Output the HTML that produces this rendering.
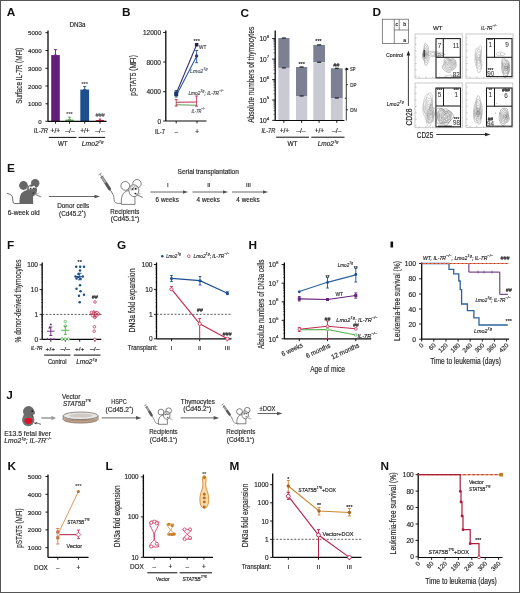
<!DOCTYPE html>
<html><head><meta charset="utf-8"><style>
html,body{margin:0;padding:0;background:#fff;}
#fig{position:relative;width:518px;height:591px;border:1px solid #555;overflow:hidden;}
svg{display:block;filter:blur(0.3px);font-family:"Liberation Sans", sans-serif;}
</style></head><body><div id="fig">
<svg width="520" height="593" viewBox="0 0 520 593" style="position:absolute;left:-1px;top:-1px">
<text x="6.8" y="16.1" font-size="11.8" font-weight="bold" fill="#111">A</text>
<text x="77.50" y="24.20" font-size="6.5" text-anchor="middle" fill="#2a2a2a" stroke="#2a2a2a" stroke-width="0.18" dominant-baseline="central" textLength="16" lengthAdjust="spacingAndGlyphs">DN3a</text>
<line x1="48.00" y1="30.50" x2="48.00" y2="121.30" stroke="#0a0a0a" stroke-width="1.3"/>
<line x1="45.40" y1="32.70" x2="48.00" y2="32.70" stroke="#0a0a0a" stroke-width="0.9"/>
<text x="41.70" y="32.70" font-size="6.1" text-anchor="end" fill="#2a2a2a" stroke="#2a2a2a" stroke-width="0.18" dominant-baseline="central" textLength="13.7" lengthAdjust="spacingAndGlyphs">5000</text>
<line x1="45.40" y1="50.50" x2="48.00" y2="50.50" stroke="#0a0a0a" stroke-width="0.9"/>
<text x="41.70" y="50.50" font-size="6.1" text-anchor="end" fill="#2a2a2a" stroke="#2a2a2a" stroke-width="0.18" dominant-baseline="central" textLength="13.7" lengthAdjust="spacingAndGlyphs">4000</text>
<line x1="45.40" y1="68.30" x2="48.00" y2="68.30" stroke="#0a0a0a" stroke-width="0.9"/>
<text x="41.70" y="68.30" font-size="6.1" text-anchor="end" fill="#2a2a2a" stroke="#2a2a2a" stroke-width="0.18" dominant-baseline="central" textLength="13.7" lengthAdjust="spacingAndGlyphs">3000</text>
<line x1="45.40" y1="86.00" x2="48.00" y2="86.00" stroke="#0a0a0a" stroke-width="0.9"/>
<text x="41.70" y="86.00" font-size="6.1" text-anchor="end" fill="#2a2a2a" stroke="#2a2a2a" stroke-width="0.18" dominant-baseline="central" textLength="13.7" lengthAdjust="spacingAndGlyphs">2000</text>
<line x1="45.40" y1="103.80" x2="48.00" y2="103.80" stroke="#0a0a0a" stroke-width="0.9"/>
<text x="41.70" y="103.80" font-size="6.1" text-anchor="end" fill="#2a2a2a" stroke="#2a2a2a" stroke-width="0.18" dominant-baseline="central" textLength="13.7" lengthAdjust="spacingAndGlyphs">1000</text>
<line x1="45.40" y1="121.30" x2="48.00" y2="121.30" stroke="#0a0a0a" stroke-width="0.9"/>
<text x="41.70" y="121.30" font-size="6.1" text-anchor="end" fill="#2a2a2a" stroke="#2a2a2a" stroke-width="0.18" dominant-baseline="central">0</text>
<text x="19.80" y="75.80" font-size="8.2" text-anchor="middle" fill="#2a2a2a" stroke="#2a2a2a" stroke-width="0.18" dominant-baseline="central" textLength="56" lengthAdjust="spacingAndGlyphs" transform="rotate(-90 19.80 75.80)">Surface IL-7R (MFI)</text>
<rect x="51.20" y="55.10" width="8.60" height="66.20" fill="#62207a"/>
<line x1="55.50" y1="49.60" x2="55.50" y2="55.10" stroke="#62207a" stroke-width="0.9"/>
<line x1="53.90" y1="49.60" x2="57.10" y2="49.60" stroke="#62207a" stroke-width="0.9"/>
<line x1="53.90" y1="55.10" x2="57.10" y2="55.10" stroke="#62207a" stroke-width="0.9"/>
<rect x="65.30" y="119.60" width="8.40" height="1.70" fill="#55b050"/>
<line x1="69.50" y1="117.20" x2="69.50" y2="119.60" stroke="#55b050" stroke-width="0.9"/>
<line x1="67.90" y1="117.20" x2="71.10" y2="117.20" stroke="#55b050" stroke-width="0.9"/>
<line x1="67.90" y1="119.60" x2="71.10" y2="119.60" stroke="#55b050" stroke-width="0.9"/>
<text x="69.50" y="114.30" font-size="5.5" text-anchor="middle" fill="#555" stroke="#555" stroke-width="0.18" dominant-baseline="central">***</text>
<rect x="80.30" y="89.60" width="8.80" height="31.70" fill="#1d4f8f"/>
<line x1="84.70" y1="86.60" x2="84.70" y2="89.60" stroke="#1d4f8f" stroke-width="0.9"/>
<line x1="83.10" y1="86.60" x2="86.30" y2="86.60" stroke="#1d4f8f" stroke-width="0.9"/>
<line x1="83.10" y1="89.60" x2="86.30" y2="89.60" stroke="#1d4f8f" stroke-width="0.9"/>
<text x="84.70" y="83.60" font-size="5.5" text-anchor="middle" fill="#555" stroke="#555" stroke-width="0.18" dominant-baseline="central">***</text>
<rect x="95.80" y="120.00" width="8.40" height="1.30" fill="#c42c50"/>
<line x1="100.00" y1="119.00" x2="100.00" y2="120.00" stroke="#c42c50" stroke-width="0.9"/>
<line x1="98.80" y1="119.00" x2="101.20" y2="119.00" stroke="#c42c50" stroke-width="0.9"/>
<line x1="98.80" y1="120.00" x2="101.20" y2="120.00" stroke="#c42c50" stroke-width="0.9"/>
<text x="100.00" y="115.20" font-size="5.5" text-anchor="middle" fill="#555" stroke="#555" stroke-width="0.18" dominant-baseline="central" font-style="italic">###</text>
<line x1="48.00" y1="121.30" x2="106.60" y2="121.30" stroke="#0a0a0a" stroke-width="1.2"/>
<line x1="55.50" y1="121.30" x2="55.50" y2="123.70" stroke="#0a0a0a" stroke-width="0.9"/>
<line x1="69.50" y1="121.30" x2="69.50" y2="123.70" stroke="#0a0a0a" stroke-width="0.9"/>
<line x1="84.70" y1="121.30" x2="84.70" y2="123.70" stroke="#0a0a0a" stroke-width="0.9"/>
<line x1="100.00" y1="121.30" x2="100.00" y2="123.70" stroke="#0a0a0a" stroke-width="0.9"/>
<text x="48.00" y="130.50" font-size="6.3" text-anchor="end" fill="#2a2a2a" stroke="#2a2a2a" stroke-width="0.18" dominant-baseline="central" font-style="italic" textLength="14.2" lengthAdjust="spacingAndGlyphs">IL-7R</text>
<text x="55.30" y="130.50" font-size="6.3" text-anchor="middle" fill="#2a2a2a" stroke="#2a2a2a" stroke-width="0.18" dominant-baseline="central" textLength="9.5" lengthAdjust="spacingAndGlyphs">+/+</text>
<text x="70.00" y="130.50" font-size="6.3" text-anchor="middle" fill="#2a2a2a" stroke="#2a2a2a" stroke-width="0.18" dominant-baseline="central" textLength="9.5" lengthAdjust="spacingAndGlyphs">–/–</text>
<text x="84.90" y="130.50" font-size="6.3" text-anchor="middle" fill="#2a2a2a" stroke="#2a2a2a" stroke-width="0.18" dominant-baseline="central" textLength="9.5" lengthAdjust="spacingAndGlyphs">+/+</text>
<text x="100.00" y="130.50" font-size="6.3" text-anchor="middle" fill="#2a2a2a" stroke="#2a2a2a" stroke-width="0.18" dominant-baseline="central" textLength="9.5" lengthAdjust="spacingAndGlyphs">–/–</text>
<line x1="48.80" y1="137.40" x2="76.50" y2="137.40" stroke="#0a0a0a" stroke-width="1.0"/>
<line x1="78.50" y1="137.40" x2="105.20" y2="137.40" stroke="#0a0a0a" stroke-width="1.0"/>
<text x="62.80" y="143.50" font-size="6.8" text-anchor="middle" fill="#2a2a2a" stroke="#2a2a2a" stroke-width="0.18" dominant-baseline="central" textLength="9.7" lengthAdjust="spacingAndGlyphs">WT</text>
<text x="92.60" y="143.50" font-size="6.8" text-anchor="middle" fill="#2a2a2a" stroke="#2a2a2a" stroke-width="0.18" dominant-baseline="central" font-style="italic" textLength="21.6" lengthAdjust="spacingAndGlyphs">Lmo2<tspan baseline-shift="2.3" font-size="4">Tg</tspan></text>
<text x="122" y="16.3" font-size="11.8" font-weight="bold" fill="#111">B</text>
<line x1="165.80" y1="30.50" x2="165.80" y2="121.00" stroke="#0a0a0a" stroke-width="1.3"/>
<line x1="163.20" y1="32.50" x2="165.80" y2="32.50" stroke="#0a0a0a" stroke-width="0.9"/>
<text x="161.00" y="32.50" font-size="6.5" text-anchor="end" fill="#2a2a2a" stroke="#2a2a2a" stroke-width="0.18" dominant-baseline="central" textLength="18" lengthAdjust="spacingAndGlyphs">12000</text>
<line x1="163.20" y1="62.00" x2="165.80" y2="62.00" stroke="#0a0a0a" stroke-width="0.9"/>
<text x="161.00" y="62.00" font-size="6.5" text-anchor="end" fill="#2a2a2a" stroke="#2a2a2a" stroke-width="0.18" dominant-baseline="central" textLength="14.5" lengthAdjust="spacingAndGlyphs">8000</text>
<line x1="163.20" y1="91.70" x2="165.80" y2="91.70" stroke="#0a0a0a" stroke-width="0.9"/>
<text x="161.00" y="91.70" font-size="6.5" text-anchor="end" fill="#2a2a2a" stroke="#2a2a2a" stroke-width="0.18" dominant-baseline="central" textLength="14.5" lengthAdjust="spacingAndGlyphs">4000</text>
<line x1="163.20" y1="121.00" x2="165.80" y2="121.00" stroke="#0a0a0a" stroke-width="0.9"/>
<text x="161.00" y="121.00" font-size="6.5" text-anchor="end" fill="#2a2a2a" stroke="#2a2a2a" stroke-width="0.18" dominant-baseline="central">0</text>
<text x="133.70" y="75.40" font-size="8.2" text-anchor="middle" fill="#2a2a2a" stroke="#2a2a2a" stroke-width="0.18" dominant-baseline="central" textLength="40.5" lengthAdjust="spacingAndGlyphs" transform="rotate(-90 133.70 75.40)">pSTAT5 (MFI)</text>
<line x1="165.80" y1="121.00" x2="206.50" y2="121.00" stroke="#0a0a0a" stroke-width="1.2"/>
<line x1="176.20" y1="121.00" x2="176.20" y2="123.40" stroke="#0a0a0a" stroke-width="0.9"/>
<line x1="197.00" y1="121.00" x2="197.00" y2="123.40" stroke="#0a0a0a" stroke-width="0.9"/>
<text x="165.00" y="131.00" font-size="6.3" text-anchor="end" fill="#2a2a2a" stroke="#2a2a2a" stroke-width="0.18" dominant-baseline="central" textLength="10" lengthAdjust="spacingAndGlyphs">IL-7</text>
<text x="176.20" y="131.00" font-size="6.3" text-anchor="middle" fill="#2a2a2a" stroke="#2a2a2a" stroke-width="0.18" dominant-baseline="central">–</text>
<text x="197.00" y="131.00" font-size="6.3" text-anchor="middle" fill="#2a2a2a" stroke="#2a2a2a" stroke-width="0.18" dominant-baseline="central">+</text>
<line x1="176.20" y1="102.30" x2="196.60" y2="102.00" stroke="#b83248" stroke-width="1.1"/>
<line x1="176.20" y1="104.80" x2="196.60" y2="105.20" stroke="#5aa055" stroke-width="1.1"/>
<line x1="196.60" y1="96.00" x2="196.60" y2="106.20" stroke="#c0345a" stroke-width="0.9"/>
<line x1="195.10" y1="96.00" x2="198.10" y2="96.00" stroke="#c0345a" stroke-width="0.9"/>
<line x1="195.10" y1="106.20" x2="198.10" y2="106.20" stroke="#c0345a" stroke-width="0.9"/>
<line x1="176.20" y1="99.50" x2="176.20" y2="106.00" stroke="#b83248" stroke-width="0.9"/>
<line x1="174.70" y1="99.50" x2="177.70" y2="99.50" stroke="#b83248" stroke-width="0.9"/>
<line x1="174.70" y1="106.00" x2="177.70" y2="106.00" stroke="#b83248" stroke-width="0.9"/>
<line x1="176.20" y1="93.50" x2="196.60" y2="44.70" stroke="#33286a" stroke-width="1.05"/>
<line x1="176.80" y1="94.60" x2="196.80" y2="55.90" stroke="#24559a" stroke-width="1.05"/>
<line x1="196.60" y1="50.50" x2="196.60" y2="62.70" stroke="#24559a" stroke-width="0.9"/>
<line x1="195.10" y1="50.50" x2="198.10" y2="50.50" stroke="#24559a" stroke-width="0.9"/>
<line x1="195.10" y1="62.70" x2="198.10" y2="62.70" stroke="#24559a" stroke-width="0.9"/>
<line x1="176.20" y1="90.60" x2="176.20" y2="97.00" stroke="#1f3f78" stroke-width="0.9"/>
<line x1="174.70" y1="90.60" x2="177.70" y2="90.60" stroke="#1f3f78" stroke-width="0.9"/>
<line x1="174.70" y1="97.00" x2="177.70" y2="97.00" stroke="#1f3f78" stroke-width="0.9"/>
<rect x="174.20" y="91.50" width="4.00" height="4.60" fill="#1c3466"/>
<rect x="194.90" y="43.00" width="3.50" height="3.50" fill="#2a2050"/>
<circle cx="196.60" cy="55.90" r="1.7" fill="#1f3f78" stroke="none" stroke-width="0.8"/>
<text x="196.70" y="40.70" font-size="5.5" text-anchor="middle" fill="#444" stroke="#444" stroke-width="0.18" dominant-baseline="central">***</text>
<text x="199.00" y="46.90" font-size="5.8" text-anchor="start" fill="#444" stroke="#444" stroke-width="0.18" dominant-baseline="central" textLength="7.4" lengthAdjust="spacingAndGlyphs">WT</text>
<text x="190.10" y="70.80" font-size="5.6" text-anchor="start" fill="#4a5568" stroke="#4a5568" stroke-width="0.18" dominant-baseline="central" font-style="italic" textLength="17.6" lengthAdjust="spacingAndGlyphs">Lmo2<tspan baseline-shift="2.3" font-size="4">Tg</tspan></text>
<text x="188.40" y="93.30" font-size="5.6" text-anchor="start" fill="#444" stroke="#444" stroke-width="0.18" dominant-baseline="central" font-style="italic" textLength="35.5" lengthAdjust="spacingAndGlyphs">Lmo2<tspan baseline-shift="2.3" font-size="4">Tg</tspan>; IL-7R<tspan baseline-shift="2.3" font-size="4">−/−</tspan></text>
<text x="191.50" y="111.20" font-size="5.6" text-anchor="start" fill="#4a5060" stroke="#4a5060" stroke-width="0.18" dominant-baseline="central" font-style="italic" textLength="14" lengthAdjust="spacingAndGlyphs">IL-7R<tspan baseline-shift="2.3" font-size="4">−/−</tspan></text>
<text x="240.5" y="16.5" font-size="11.8" font-weight="bold" fill="#111">C</text>
<line x1="275.20" y1="30.40" x2="275.20" y2="120.80" stroke="#0a0a0a" stroke-width="1.3"/>
<line x1="272.20" y1="38.60" x2="275.20" y2="38.60" stroke="#0a0a0a" stroke-width="0.9"/>
<text x="269.20" y="38.90" font-size="6.6" text-anchor="end" fill="#2a2a2a" stroke="#2a2a2a" stroke-width="0.18" dominant-baseline="central">10<tspan baseline-shift="2.5" font-size="4.4">8</tspan></text>
<line x1="273.40" y1="52.93" x2="275.20" y2="52.93" stroke="#0a0a0a" stroke-width="0.5"/>
<line x1="273.40" y1="49.32" x2="275.20" y2="49.32" stroke="#0a0a0a" stroke-width="0.5"/>
<line x1="273.40" y1="46.76" x2="275.20" y2="46.76" stroke="#0a0a0a" stroke-width="0.5"/>
<line x1="273.40" y1="44.77" x2="275.20" y2="44.77" stroke="#0a0a0a" stroke-width="0.5"/>
<line x1="273.40" y1="43.15" x2="275.20" y2="43.15" stroke="#0a0a0a" stroke-width="0.5"/>
<line x1="273.40" y1="41.78" x2="275.20" y2="41.78" stroke="#0a0a0a" stroke-width="0.5"/>
<line x1="273.40" y1="40.59" x2="275.20" y2="40.59" stroke="#0a0a0a" stroke-width="0.5"/>
<line x1="273.40" y1="39.54" x2="275.20" y2="39.54" stroke="#0a0a0a" stroke-width="0.5"/>
<line x1="272.20" y1="59.10" x2="275.20" y2="59.10" stroke="#0a0a0a" stroke-width="0.9"/>
<text x="269.20" y="59.40" font-size="6.6" text-anchor="end" fill="#2a2a2a" stroke="#2a2a2a" stroke-width="0.18" dominant-baseline="central">10<tspan baseline-shift="2.5" font-size="4.4">7</tspan></text>
<line x1="273.40" y1="73.43" x2="275.20" y2="73.43" stroke="#0a0a0a" stroke-width="0.5"/>
<line x1="273.40" y1="69.82" x2="275.20" y2="69.82" stroke="#0a0a0a" stroke-width="0.5"/>
<line x1="273.40" y1="67.26" x2="275.20" y2="67.26" stroke="#0a0a0a" stroke-width="0.5"/>
<line x1="273.40" y1="65.27" x2="275.20" y2="65.27" stroke="#0a0a0a" stroke-width="0.5"/>
<line x1="273.40" y1="63.65" x2="275.20" y2="63.65" stroke="#0a0a0a" stroke-width="0.5"/>
<line x1="273.40" y1="62.28" x2="275.20" y2="62.28" stroke="#0a0a0a" stroke-width="0.5"/>
<line x1="273.40" y1="61.09" x2="275.20" y2="61.09" stroke="#0a0a0a" stroke-width="0.5"/>
<line x1="273.40" y1="60.04" x2="275.20" y2="60.04" stroke="#0a0a0a" stroke-width="0.5"/>
<line x1="272.20" y1="79.60" x2="275.20" y2="79.60" stroke="#0a0a0a" stroke-width="0.9"/>
<text x="269.20" y="79.90" font-size="6.6" text-anchor="end" fill="#2a2a2a" stroke="#2a2a2a" stroke-width="0.18" dominant-baseline="central">10<tspan baseline-shift="2.5" font-size="4.4">6</tspan></text>
<line x1="273.40" y1="93.93" x2="275.20" y2="93.93" stroke="#0a0a0a" stroke-width="0.5"/>
<line x1="273.40" y1="90.32" x2="275.20" y2="90.32" stroke="#0a0a0a" stroke-width="0.5"/>
<line x1="273.40" y1="87.76" x2="275.20" y2="87.76" stroke="#0a0a0a" stroke-width="0.5"/>
<line x1="273.40" y1="85.77" x2="275.20" y2="85.77" stroke="#0a0a0a" stroke-width="0.5"/>
<line x1="273.40" y1="84.15" x2="275.20" y2="84.15" stroke="#0a0a0a" stroke-width="0.5"/>
<line x1="273.40" y1="82.78" x2="275.20" y2="82.78" stroke="#0a0a0a" stroke-width="0.5"/>
<line x1="273.40" y1="81.59" x2="275.20" y2="81.59" stroke="#0a0a0a" stroke-width="0.5"/>
<line x1="273.40" y1="80.54" x2="275.20" y2="80.54" stroke="#0a0a0a" stroke-width="0.5"/>
<line x1="272.20" y1="100.00" x2="275.20" y2="100.00" stroke="#0a0a0a" stroke-width="0.9"/>
<text x="269.20" y="100.30" font-size="6.6" text-anchor="end" fill="#2a2a2a" stroke="#2a2a2a" stroke-width="0.18" dominant-baseline="central">10<tspan baseline-shift="2.5" font-size="4.4">5</tspan></text>
<line x1="273.40" y1="114.33" x2="275.20" y2="114.33" stroke="#0a0a0a" stroke-width="0.5"/>
<line x1="273.40" y1="110.72" x2="275.20" y2="110.72" stroke="#0a0a0a" stroke-width="0.5"/>
<line x1="273.40" y1="108.16" x2="275.20" y2="108.16" stroke="#0a0a0a" stroke-width="0.5"/>
<line x1="273.40" y1="106.17" x2="275.20" y2="106.17" stroke="#0a0a0a" stroke-width="0.5"/>
<line x1="273.40" y1="104.55" x2="275.20" y2="104.55" stroke="#0a0a0a" stroke-width="0.5"/>
<line x1="273.40" y1="103.18" x2="275.20" y2="103.18" stroke="#0a0a0a" stroke-width="0.5"/>
<line x1="273.40" y1="101.99" x2="275.20" y2="101.99" stroke="#0a0a0a" stroke-width="0.5"/>
<line x1="273.40" y1="100.94" x2="275.20" y2="100.94" stroke="#0a0a0a" stroke-width="0.5"/>
<line x1="272.20" y1="120.40" x2="275.20" y2="120.40" stroke="#0a0a0a" stroke-width="0.9"/>
<text x="269.20" y="120.70" font-size="6.6" text-anchor="end" fill="#2a2a2a" stroke="#2a2a2a" stroke-width="0.18" dominant-baseline="central">10<tspan baseline-shift="2.5" font-size="4.4">4</tspan></text>
<text x="252.00" y="74.80" font-size="8.2" text-anchor="middle" fill="#2a2a2a" stroke="#2a2a2a" stroke-width="0.18" dominant-baseline="central" textLength="96" lengthAdjust="spacingAndGlyphs" transform="rotate(-90 252.00 74.80)">Absolute numbers of thymocytes</text>
<rect x="278.30" y="38.00" width="11.20" height="29.90" fill="#7c8092"/>
<rect x="278.30" y="67.90" width="11.20" height="52.50" fill="#c9cad4"/>
<line x1="281.90" y1="38.00" x2="285.90" y2="38.00" stroke="#111" stroke-width="1.1"/>
<line x1="281.90" y1="67.90" x2="285.90" y2="67.90" stroke="#111" stroke-width="1.1"/>
<rect x="296.00" y="67.00" width="11.20" height="29.00" fill="#7c8092"/>
<rect x="296.00" y="96.00" width="11.20" height="24.40" fill="#c9cad4"/>
<line x1="299.60" y1="67.00" x2="303.60" y2="67.00" stroke="#111" stroke-width="1.1"/>
<line x1="299.60" y1="96.00" x2="303.60" y2="96.00" stroke="#111" stroke-width="1.1"/>
<rect x="313.30" y="44.90" width="11.70" height="17.30" fill="#7c8092"/>
<rect x="313.30" y="62.20" width="11.70" height="58.20" fill="#c9cad4"/>
<line x1="317.15" y1="44.90" x2="321.15" y2="44.90" stroke="#111" stroke-width="1.1"/>
<line x1="317.15" y1="62.20" x2="321.15" y2="62.20" stroke="#111" stroke-width="1.1"/>
<rect x="330.90" y="68.30" width="11.80" height="29.70" fill="#7c8092"/>
<rect x="330.90" y="98.00" width="11.80" height="22.40" fill="#c9cad4"/>
<line x1="334.80" y1="68.30" x2="338.80" y2="68.30" stroke="#111" stroke-width="1.1"/>
<line x1="334.80" y1="98.00" x2="338.80" y2="98.00" stroke="#111" stroke-width="1.1"/>
<text x="301.70" y="63.60" font-size="5.5" text-anchor="middle" fill="#2a2a2a" stroke="#2a2a2a" stroke-width="0.18" dominant-baseline="central">***</text>
<text x="318.50" y="41.30" font-size="5.5" text-anchor="middle" fill="#2a2a2a" stroke="#2a2a2a" stroke-width="0.18" dominant-baseline="central">***</text>
<text x="336.30" y="64.80" font-size="5.5" text-anchor="middle" fill="#2a2a2a" stroke="#2a2a2a" stroke-width="0.18" dominant-baseline="central" font-style="italic">##</text>
<line x1="275.20" y1="120.50" x2="344.40" y2="120.50" stroke="#0a0a0a" stroke-width="1.2"/>
<line x1="283.90" y1="120.50" x2="283.90" y2="122.90" stroke="#0a0a0a" stroke-width="0.9"/>
<line x1="301.60" y1="120.50" x2="301.60" y2="122.90" stroke="#0a0a0a" stroke-width="0.9"/>
<line x1="319.10" y1="120.50" x2="319.10" y2="122.90" stroke="#0a0a0a" stroke-width="0.9"/>
<line x1="336.80" y1="120.50" x2="336.80" y2="122.90" stroke="#0a0a0a" stroke-width="0.9"/>
<path d="M348.6 69.1 L345.8 67.6 L345.8 70.6 Z" stroke="none" fill="#0a0a0a" stroke-width="1"/>
<line x1="346.30" y1="69.10" x2="346.30" y2="120.50" stroke="#0a0a0a" stroke-width="0.8"/>
<line x1="344.80" y1="69.10" x2="348.30" y2="69.10" stroke="#0a0a0a" stroke-width="0.8"/>
<line x1="346.30" y1="84.70" x2="348.00" y2="84.70" stroke="#0a0a0a" stroke-width="0.8"/>
<line x1="344.80" y1="98.30" x2="346.30" y2="98.30" stroke="#0a0a0a" stroke-width="0.8"/>
<line x1="346.30" y1="109.80" x2="348.00" y2="109.80" stroke="#0a0a0a" stroke-width="0.8"/>
<text x="350.00" y="69.10" font-size="6" text-anchor="start" fill="#2a2a2a" stroke="#2a2a2a" stroke-width="0.18" dominant-baseline="central" textLength="5.5" lengthAdjust="spacingAndGlyphs">SP</text>
<text x="350.30" y="84.70" font-size="6" text-anchor="start" fill="#2a2a2a" stroke="#2a2a2a" stroke-width="0.18" dominant-baseline="central" textLength="6.2" lengthAdjust="spacingAndGlyphs">DP</text>
<text x="350.30" y="109.80" font-size="6" text-anchor="start" fill="#2a2a2a" stroke="#2a2a2a" stroke-width="0.18" dominant-baseline="central" textLength="6.5" lengthAdjust="spacingAndGlyphs">DN</text>
<text x="275.30" y="130.70" font-size="6.3" text-anchor="end" fill="#2a2a2a" stroke="#2a2a2a" stroke-width="0.18" dominant-baseline="central" font-style="italic" textLength="13.8" lengthAdjust="spacingAndGlyphs">IL-7R</text>
<text x="284.40" y="130.70" font-size="6.3" text-anchor="middle" fill="#2a2a2a" stroke="#2a2a2a" stroke-width="0.18" dominant-baseline="central" textLength="9.5" lengthAdjust="spacingAndGlyphs">+/+</text>
<text x="300.90" y="130.70" font-size="6.3" text-anchor="middle" fill="#2a2a2a" stroke="#2a2a2a" stroke-width="0.18" dominant-baseline="central" textLength="9.5" lengthAdjust="spacingAndGlyphs">–/–</text>
<text x="319.40" y="130.70" font-size="6.3" text-anchor="middle" fill="#2a2a2a" stroke="#2a2a2a" stroke-width="0.18" dominant-baseline="central" textLength="9.5" lengthAdjust="spacingAndGlyphs">+/+</text>
<text x="336.70" y="130.70" font-size="6.3" text-anchor="middle" fill="#2a2a2a" stroke="#2a2a2a" stroke-width="0.18" dominant-baseline="central" textLength="9.5" lengthAdjust="spacingAndGlyphs">–/–</text>
<line x1="276.20" y1="137.20" x2="309.00" y2="137.20" stroke="#0a0a0a" stroke-width="1.0"/>
<line x1="311.30" y1="137.20" x2="344.50" y2="137.20" stroke="#0a0a0a" stroke-width="1.0"/>
<text x="292.40" y="143.60" font-size="6.8" text-anchor="middle" fill="#2a2a2a" stroke="#2a2a2a" stroke-width="0.18" dominant-baseline="central" textLength="10" lengthAdjust="spacingAndGlyphs">WT</text>
<text x="328.10" y="143.60" font-size="6.8" text-anchor="middle" fill="#2a2a2a" stroke="#2a2a2a" stroke-width="0.18" dominant-baseline="central" font-style="italic" textLength="20.8" lengthAdjust="spacingAndGlyphs">Lmo2<tspan baseline-shift="2.3" font-size="4">Tg</tspan></text>
<text x="372.5" y="16.2" font-size="11.8" font-weight="bold" fill="#111">D</text>
<g fill="none" stroke="#555" stroke-width="0.7">
<rect x="382.3" y="19.2" width="26.2" height="24.2"/>
<line x1="394.3" y1="19.2" x2="394.3" y2="43.4"/>
<line x1="394.3" y1="30" x2="408.5" y2="30"/>
<line x1="399.2" y1="19.2" x2="399.2" y2="30"/>
</g>
<text x="396.70" y="24.00" font-size="5.2" text-anchor="middle" fill="#2a2a2a" stroke="#2a2a2a" stroke-width="0.18" dominant-baseline="central">c</text>
<text x="404.80" y="24.00" font-size="5.2" text-anchor="middle" fill="#2a2a2a" stroke="#2a2a2a" stroke-width="0.18" dominant-baseline="central">b</text>
<text x="404.80" y="39.80" font-size="5.2" text-anchor="middle" fill="#2a2a2a" stroke="#2a2a2a" stroke-width="0.18" dominant-baseline="central">a</text>
<text x="437.70" y="27.70" font-size="6.2" text-anchor="middle" fill="#2a2a2a" stroke="#2a2a2a" stroke-width="0.18" dominant-baseline="central">WT</text>
<text x="489.00" y="27.50" font-size="6.0" text-anchor="middle" fill="#2a2a2a" stroke="#2a2a2a" stroke-width="0.18" dominant-baseline="central" font-style="italic" textLength="15.8" lengthAdjust="spacingAndGlyphs">IL-7R<tspan baseline-shift="2.3" font-size="4">−/−</tspan></text>
<text x="394.50" y="54.60" font-size="6.0" text-anchor="middle" fill="#2a2a2a" stroke="#2a2a2a" stroke-width="0.18" dominant-baseline="central" textLength="17" lengthAdjust="spacingAndGlyphs">Control</text>
<text x="395.20" y="103.50" font-size="5.8" text-anchor="middle" fill="#2a2a2a" stroke="#2a2a2a" stroke-width="0.18" dominant-baseline="central" font-style="italic" textLength="16.8" lengthAdjust="spacingAndGlyphs">Lmo2<tspan baseline-shift="2.3" font-size="4">Tg</tspan></text>
<line x1="408.40" y1="53.00" x2="408.40" y2="106.00" stroke="#222" stroke-width="0.9"/>
<path d="M406.6 55.5 L408.4 50.5 L410.2 55.5 Z" stroke="none" fill="#222" stroke-width="1"/>
<text x="408.30" y="117.00" font-size="9.5" text-anchor="middle" fill="#222" stroke="#222" stroke-width="0.18" dominant-baseline="central" textLength="17" lengthAdjust="spacingAndGlyphs" transform="rotate(-90 408.30 117.00)">CD28</text>
<text x="425.00" y="134.50" font-size="9.5" text-anchor="middle" fill="#222" stroke="#222" stroke-width="0.18" dominant-baseline="central" textLength="16.5" lengthAdjust="spacingAndGlyphs">CD25</text>
<line x1="436.30" y1="134.50" x2="487.00" y2="134.50" stroke="#222" stroke-width="0.9"/>
<path d="M485 132.7 L490.5 134.5 L485 136.3 Z" stroke="none" fill="#222" stroke-width="1"/>
<rect x="415" y="34" width="47.30" height="44.20" fill="none" stroke="#c4c4c4" stroke-width="0.9"/>
<line x1="415.30" y1="38.00" x2="416.60" y2="38.00" stroke="#888" stroke-width="0.5"/>
<line x1="415.30" y1="44.37" x2="416.60" y2="44.37" stroke="#888" stroke-width="0.5"/>
<line x1="415.30" y1="50.73" x2="416.60" y2="50.73" stroke="#888" stroke-width="0.5"/>
<line x1="415.30" y1="57.10" x2="416.60" y2="57.10" stroke="#888" stroke-width="0.5"/>
<line x1="415.30" y1="63.47" x2="416.60" y2="63.47" stroke="#888" stroke-width="0.5"/>
<line x1="415.30" y1="69.83" x2="416.60" y2="69.83" stroke="#888" stroke-width="0.5"/>
<line x1="415.30" y1="76.20" x2="416.60" y2="76.20" stroke="#888" stroke-width="0.5"/>
<line x1="419.00" y1="76.60" x2="419.00" y2="77.90" stroke="#888" stroke-width="0.5"/>
<line x1="425.88" y1="76.60" x2="425.88" y2="77.90" stroke="#888" stroke-width="0.5"/>
<line x1="432.77" y1="76.60" x2="432.77" y2="77.90" stroke="#888" stroke-width="0.5"/>
<line x1="439.65" y1="76.60" x2="439.65" y2="77.90" stroke="#888" stroke-width="0.5"/>
<line x1="446.53" y1="76.60" x2="446.53" y2="77.90" stroke="#888" stroke-width="0.5"/>
<line x1="453.42" y1="76.60" x2="453.42" y2="77.90" stroke="#888" stroke-width="0.5"/>
<line x1="460.30" y1="76.60" x2="460.30" y2="77.90" stroke="#888" stroke-width="0.5"/>
<path d="M428.84 54.50 L428.95 55.71 L429.04 57.04 L429.04 58.44 L428.92 59.77 L428.67 60.91 L428.34 61.81 L427.97 62.53 L427.61 63.19 L427.24 63.89 L426.87 64.64 L426.46 65.30 L426.00 65.66 L425.54 65.53 L425.11 64.86 L424.77 63.77 L424.52 62.51 L424.31 61.36 L424.09 60.48 L423.78 59.83 L423.38 59.23 L422.95 58.45 L422.59 57.36 L422.40 55.98 L422.44 54.50 L422.69 53.14 L423.05 52.03 L423.42 51.17 L423.71 50.37 L423.88 49.43 L423.99 48.21 L424.10 46.76 L424.30 45.29 L424.62 44.09 L425.05 43.38 L425.52 43.24 L426.00 43.54 L426.44 44.08 L426.84 44.67 L427.23 45.22 L427.61 45.76 L427.98 46.42 L428.30 47.30 L428.54 48.42 L428.67 49.69 L428.71 50.98 L428.73 52.21 L428.76 53.36 Z" fill="none" stroke="#8a8a8a" stroke-width="0.5"/>
<path d="M428.02 54.50 L428.01 55.46 L427.98 56.43 L427.93 57.41 L427.85 58.41 L427.72 59.38 L427.53 60.29 L427.30 61.10 L427.03 61.78 L426.72 62.31 L426.38 62.69 L426.04 62.90 L425.68 62.90 L425.34 62.68 L425.02 62.26 L424.73 61.66 L424.49 60.96 L424.27 60.25 L424.06 59.57 L423.84 58.92 L423.59 58.27 L423.35 57.52 L423.14 56.63 L423.01 55.60 L422.98 54.50 L423.08 53.43 L423.27 52.48 L423.51 51.69 L423.75 51.01 L423.94 50.34 L424.11 49.58 L424.25 48.68 L424.42 47.68 L424.65 46.72 L424.95 45.95 L425.30 45.52 L425.68 45.48 L426.05 45.79 L426.38 46.36 L426.67 47.05 L426.92 47.77 L427.16 48.48 L427.38 49.19 L427.58 49.94 L427.76 50.75 L427.89 51.64 L427.97 52.58 L428.01 53.54 Z" fill="none" stroke="#8a8a8a" stroke-width="0.5"/>
<path d="M427.17 54.50 L427.19 55.25 L427.15 55.99 L427.04 56.67 L426.91 57.28 L426.76 57.85 L426.62 58.44 L426.49 59.08 L426.33 59.75 L426.14 60.38 L425.91 60.84 L425.64 61.03 L425.36 60.90 L425.11 60.49 L424.90 59.94 L424.72 59.36 L424.55 58.88 L424.38 58.52 L424.17 58.23 L423.95 57.90 L423.73 57.45 L423.55 56.84 L423.45 56.10 L423.44 55.29 L423.49 54.50 L423.59 53.77 L423.71 53.11 L423.81 52.49 L423.91 51.88 L424.01 51.25 L424.12 50.62 L424.26 50.01 L424.43 49.46 L424.63 48.99 L424.86 48.62 L425.10 48.34 L425.36 48.17 L425.63 48.16 L425.89 48.33 L426.13 48.70 L426.33 49.25 L426.48 49.93 L426.59 50.65 L426.68 51.34 L426.77 51.97 L426.87 52.55 L426.98 53.14 L427.09 53.79 Z" fill="none" stroke="#8a8a8a" stroke-width="0.5"/>
<path d="M426.16 54.50 L426.17 54.96 L426.15 55.43 L426.10 55.87 L426.03 56.29 L425.95 56.67 L425.86 57.04 L425.76 57.42 L425.65 57.80 L425.53 58.14 L425.38 58.41 L425.21 58.54 L425.04 58.50 L424.88 58.31 L424.74 58.00 L424.63 57.65 L424.52 57.32 L424.42 57.05 L424.30 56.82 L424.17 56.59 L424.04 56.32 L423.92 55.95 L423.84 55.51 L423.81 55.01 L423.84 54.50 L423.90 54.03 L423.98 53.61 L424.07 53.24 L424.14 52.88 L424.21 52.51 L424.28 52.11 L424.36 51.70 L424.45 51.31 L424.58 50.97 L424.72 50.70 L424.88 50.54 L425.04 50.48 L425.21 50.53 L425.37 50.68 L425.52 50.93 L425.64 51.25 L425.75 51.63 L425.83 52.04 L425.90 52.46 L425.95 52.86 L426.01 53.25 L426.07 53.64 L426.12 54.06 Z" fill="none" stroke="#333" stroke-width="0.5"/>
<path d="M425.15 54.50 L425.16 54.68 L425.17 54.87 L425.17 55.08 L425.16 55.28 L425.13 55.47 L425.08 55.62 L425.03 55.74 L424.97 55.83 L424.91 55.91 L424.85 56.00 L424.79 56.08 L424.73 56.13 L424.66 56.13 L424.59 56.05 L424.54 55.91 L424.50 55.74 L424.46 55.56 L424.43 55.41 L424.39 55.30 L424.34 55.19 L424.28 55.08 L424.23 54.92 L424.19 54.72 L424.19 54.50 L424.22 54.29 L424.27 54.12 L424.33 53.99 L424.38 53.87 L424.41 53.75 L424.43 53.58 L424.45 53.37 L424.47 53.15 L424.52 52.94 L424.58 52.81 L424.65 52.77 L424.72 52.81 L424.79 52.91 L424.85 53.03 L424.91 53.13 L424.96 53.22 L425.01 53.32 L425.07 53.44 L425.11 53.58 L425.13 53.76 L425.14 53.96 L425.15 54.15 L425.14 54.33 Z" fill="none" stroke="#333" stroke-width="0.5"/>
<line x1="424.20" y1="50.00" x2="424.20" y2="57.00" stroke="#222" stroke-width="1.0"/>
<path d="M444.45 54.00 L444.75 54.36 L444.63 54.73 L444.10 55.06 L443.23 55.34 L442.15 55.55 L441.02 55.70 L439.94 55.82 L438.96 55.94 L438.05 56.08 L437.12 56.24 L436.12 56.39 L435.00 56.50 L433.82 56.54 L432.66 56.47 L431.62 56.30 L430.76 56.07 L430.08 55.81 L429.53 55.55 L429.01 55.30 L428.46 55.07 L427.88 54.83 L427.32 54.58 L426.85 54.30 L426.56 54.00 L426.51 53.68 L426.67 53.37 L427.00 53.06 L427.46 52.77 L428.00 52.48 L428.63 52.20 L429.37 51.93 L430.26 51.68 L431.32 51.49 L432.50 51.37 L433.76 51.34 L435.00 51.41 L436.14 51.56 L437.12 51.76 L437.94 52.00 L438.62 52.23 L439.22 52.45 L439.82 52.64 L440.47 52.81 L441.24 52.98 L442.09 53.17 L442.99 53.39 L443.82 53.67 Z" fill="none" stroke="#8a8a8a" stroke-width="0.5"/>
<path d="M440.37 54.00 L440.53 54.21 L440.49 54.42 L440.22 54.61 L439.76 54.78 L439.16 54.90 L438.51 54.99 L437.87 55.05 L437.28 55.11 L436.74 55.18 L436.20 55.27 L435.63 55.36 L435.00 55.43 L434.32 55.46 L433.64 55.43 L433.03 55.34 L432.53 55.21 L432.16 55.05 L431.87 54.88 L431.60 54.74 L431.30 54.60 L430.96 54.47 L430.60 54.33 L430.29 54.18 L430.09 54.00 L430.05 53.82 L430.16 53.63 L430.39 53.46 L430.69 53.30 L431.03 53.14 L431.38 52.98 L431.79 52.82 L432.27 52.67 L432.86 52.54 L433.55 52.47 L434.28 52.45 L435.00 52.50 L435.65 52.60 L436.21 52.73 L436.66 52.87 L437.05 53.00 L437.41 53.11 L437.78 53.21 L438.19 53.31 L438.65 53.41 L439.13 53.52 L439.61 53.65 L440.04 53.81 Z" fill="none" stroke="#8a8a8a" stroke-width="0.5"/>
<path d="M436.35 54.00 L436.44 54.05 L436.48 54.11 L436.44 54.17 L436.31 54.21 L436.12 54.24 L435.91 54.26 L435.71 54.26 L435.55 54.27 L435.43 54.29 L435.31 54.32 L435.17 54.36 L435.00 54.39 L434.81 54.40 L434.63 54.39 L434.48 54.36 L434.37 54.31 L434.30 54.26 L434.24 54.21 L434.16 54.18 L434.05 54.16 L433.91 54.13 L433.78 54.09 L433.69 54.05 L433.67 54.00 L433.71 53.95 L433.78 53.91 L433.87 53.87 L433.94 53.83 L434.00 53.78 L434.05 53.73 L434.13 53.68 L434.25 53.63 L434.42 53.60 L434.61 53.59 L434.81 53.60 L435.00 53.63 L435.16 53.66 L435.30 53.69 L435.42 53.71 L435.55 53.73 L435.67 53.75 L435.78 53.78 L435.88 53.81 L435.96 53.84 L436.04 53.88 L436.13 53.91 L436.24 53.95 Z" fill="none" stroke="#8a8a8a" stroke-width="0.5"/>
<path d="M441.14 55.20 L441.13 55.44 L441.10 55.68 L441.04 55.93 L440.92 56.16 L440.76 56.38 L440.53 56.58 L440.27 56.73 L439.97 56.84 L439.65 56.92 L439.33 56.96 L439.01 56.99 L438.70 56.98 L438.39 56.96 L438.09 56.89 L437.82 56.79 L437.58 56.66 L437.38 56.49 L437.21 56.31 L437.07 56.14 L436.92 55.97 L436.75 55.81 L436.56 55.63 L436.36 55.43 L436.18 55.20 L436.06 54.94 L436.02 54.66 L436.09 54.39 L436.25 54.14 L436.49 53.93 L436.79 53.77 L437.12 53.65 L437.46 53.58 L437.79 53.55 L438.11 53.54 L438.41 53.56 L438.70 53.59 L438.98 53.63 L439.25 53.67 L439.52 53.72 L439.79 53.78 L440.07 53.86 L440.34 53.97 L440.59 54.11 L440.79 54.29 L440.95 54.50 L441.06 54.73 L441.12 54.96 Z" fill="none" stroke="#555" stroke-width="0.5"/>
<path d="M439.06 55.20 L439.07 55.24 L439.07 55.27 L439.07 55.31 L439.05 55.35 L439.01 55.38 L438.97 55.40 L438.93 55.42 L438.88 55.44 L438.84 55.45 L438.79 55.46 L438.75 55.47 L438.70 55.48 L438.65 55.48 L438.61 55.46 L438.57 55.44 L438.54 55.41 L438.51 55.38 L438.49 55.36 L438.46 55.34 L438.43 55.32 L438.40 55.29 L438.36 55.27 L438.33 55.24 L438.32 55.20 L438.31 55.16 L438.31 55.12 L438.32 55.08 L438.34 55.05 L438.37 55.01 L438.41 54.98 L438.45 54.96 L438.51 54.95 L438.56 54.94 L438.61 54.95 L438.66 54.96 L438.70 54.97 L438.74 54.98 L438.78 54.98 L438.82 54.98 L438.87 54.98 L438.91 54.99 L438.96 55.01 L438.99 55.03 L439.01 55.06 L439.03 55.10 L439.04 55.13 L439.05 55.17 Z" fill="none" stroke="#555" stroke-width="0.5"/>
<path d="M456.13 65.00 L456.06 65.99 L455.83 66.94 L455.39 67.79 L454.77 68.50 L454.06 69.04 L453.34 69.48 L452.69 69.89 L452.10 70.37 L451.52 70.94 L450.88 71.55 L450.14 72.07 L449.30 72.40 L448.42 72.44 L447.55 72.23 L446.75 71.83 L445.99 71.36 L445.23 70.87 L444.47 70.35 L443.72 69.74 L443.08 68.98 L442.66 68.05 L442.54 67.01 L442.73 65.96 L443.11 65.00 L443.53 64.16 L443.84 63.38 L443.98 62.56 L443.99 61.61 L444.04 60.53 L444.29 59.45 L444.84 58.56 L445.66 58.03 L446.65 57.93 L447.65 58.20 L448.54 58.64 L449.30 59.03 L449.99 59.20 L450.72 59.13 L451.57 58.92 L452.54 58.78 L453.55 58.87 L454.45 59.29 L455.15 60.02 L455.62 60.96 L455.88 61.98 L456.02 63.00 L456.10 64.01 Z" fill="none" stroke="#777" stroke-width="0.5"/>
<path d="M455.00 64.83 L454.91 65.62 L454.76 66.40 L454.49 67.13 L454.07 67.77 L453.54 68.29 L452.94 68.68 L452.35 68.99 L451.80 69.30 L451.28 69.67 L450.74 70.09 L450.15 70.52 L449.47 70.86 L448.74 71.01 L447.99 70.94 L447.29 70.67 L446.64 70.26 L446.05 69.77 L445.48 69.25 L444.94 68.68 L444.45 68.04 L444.09 67.30 L443.92 66.48 L443.97 65.63 L444.20 64.83 L444.52 64.11 L444.81 63.45 L445.01 62.79 L445.13 62.05 L445.23 61.22 L445.43 60.36 L445.84 59.59 L446.46 59.06 L447.24 58.87 L448.06 59.02 L448.82 59.37 L449.47 59.76 L450.04 60.02 L450.62 60.07 L451.29 59.95 L452.08 59.81 L452.94 59.81 L453.76 60.07 L454.43 60.62 L454.86 61.38 L455.07 62.26 L455.11 63.16 L455.07 64.01 Z" fill="none" stroke="#777" stroke-width="0.5"/>
<path d="M454.15 64.66 L453.93 65.28 L453.68 65.86 L453.41 66.39 L453.13 66.89 L452.81 67.36 L452.45 67.78 L452.05 68.14 L451.61 68.44 L451.15 68.69 L450.67 68.90 L450.16 69.07 L449.64 69.22 L449.09 69.32 L448.51 69.35 L447.91 69.29 L447.33 69.10 L446.78 68.79 L446.31 68.35 L445.93 67.82 L445.66 67.21 L445.50 66.56 L445.45 65.90 L445.48 65.27 L445.56 64.66 L445.66 64.08 L445.77 63.51 L445.88 62.93 L446.01 62.34 L446.20 61.74 L446.48 61.16 L446.87 60.66 L447.37 60.30 L447.94 60.11 L448.53 60.09 L449.11 60.21 L449.64 60.40 L450.12 60.58 L450.60 60.70 L451.10 60.76 L451.65 60.80 L452.27 60.87 L452.89 61.05 L453.47 61.40 L453.94 61.91 L454.23 62.55 L454.35 63.26 L454.31 63.98 Z" fill="none" stroke="#777" stroke-width="0.5"/>
<path d="M453.31 64.49 L452.97 64.95 L452.62 65.32 L452.35 65.65 L452.18 66.00 L452.07 66.41 L451.94 66.85 L451.73 67.27 L451.42 67.58 L451.02 67.73 L450.59 67.73 L450.19 67.66 L449.81 67.60 L449.44 67.63 L449.02 67.74 L448.55 67.87 L448.03 67.91 L447.53 67.79 L447.13 67.45 L446.91 66.96 L446.84 66.39 L446.89 65.83 L446.97 65.33 L446.99 64.90 L446.94 64.49 L446.83 64.06 L446.75 63.58 L446.75 63.09 L446.89 62.62 L447.16 62.24 L447.51 61.94 L447.89 61.72 L448.27 61.53 L448.64 61.35 L449.01 61.19 L449.40 61.08 L449.81 61.05 L450.21 61.14 L450.58 61.32 L450.91 61.54 L451.24 61.75 L451.60 61.91 L452.03 62.04 L452.51 62.20 L452.99 62.46 L453.37 62.85 L453.57 63.37 L453.54 63.94 Z" fill="none" stroke="#777" stroke-width="0.5"/>
<path d="M452.03 64.32 L451.97 64.61 L451.93 64.90 L451.88 65.19 L451.78 65.47 L451.62 65.71 L451.40 65.89 L451.15 66.00 L450.89 66.07 L450.66 66.14 L450.45 66.24 L450.23 66.39 L449.98 66.56 L449.70 66.69 L449.40 66.74 L449.10 66.68 L448.83 66.52 L448.62 66.29 L448.44 66.02 L448.29 65.76 L448.14 65.50 L448.00 65.23 L447.89 64.94 L447.84 64.63 L447.87 64.32 L447.96 64.03 L448.09 63.76 L448.22 63.51 L448.33 63.27 L448.42 62.99 L448.50 62.68 L448.63 62.38 L448.83 62.12 L449.10 61.98 L449.41 61.97 L449.72 62.09 L449.98 62.28 L450.20 62.45 L450.41 62.55 L450.64 62.55 L450.93 62.49 L451.28 62.45 L451.64 62.49 L451.95 62.65 L452.15 62.93 L452.23 63.29 L452.21 63.66 L452.12 64.01 Z" fill="none" stroke="#777" stroke-width="0.5"/>
<path d="M451.19 64.15 L451.12 64.29 L451.04 64.41 L450.97 64.52 L450.91 64.64 L450.86 64.75 L450.80 64.87 L450.72 64.97 L450.62 65.05 L450.51 65.10 L450.39 65.12 L450.27 65.13 L450.15 65.14 L450.03 65.16 L449.90 65.19 L449.76 65.20 L449.61 65.18 L449.48 65.12 L449.36 65.02 L449.29 64.88 L449.25 64.73 L449.24 64.57 L449.24 64.42 L449.24 64.28 L449.24 64.15 L449.24 64.02 L449.24 63.88 L449.25 63.74 L449.29 63.60 L449.36 63.48 L449.44 63.37 L449.54 63.27 L449.65 63.20 L449.78 63.15 L449.90 63.12 L450.03 63.12 L450.15 63.14 L450.27 63.18 L450.37 63.22 L450.48 63.26 L450.60 63.29 L450.72 63.32 L450.86 63.36 L451.00 63.43 L451.13 63.52 L451.22 63.66 L451.26 63.82 L451.25 63.99 Z" fill="none" stroke="#777" stroke-width="0.5"/>
<path d="M459.32 76.50 L458.96 76.67 L458.60 76.83 L458.33 76.99 L458.12 77.16 L457.85 77.33 L457.41 77.50 L456.71 77.64 L455.79 77.72 L454.75 77.73 L453.72 77.70 L452.81 77.64 L452.00 77.59 L451.24 77.58 L450.42 77.59 L449.52 77.61 L448.54 77.61 L447.59 77.57 L446.77 77.47 L446.14 77.34 L445.69 77.18 L445.36 77.01 L445.06 76.85 L444.79 76.68 L444.58 76.50 L444.52 76.32 L444.70 76.14 L445.16 75.97 L445.84 75.84 L446.62 75.73 L447.39 75.64 L448.08 75.55 L448.73 75.45 L449.39 75.33 L450.15 75.22 L451.04 75.15 L452.00 75.13 L452.94 75.18 L453.77 75.27 L454.47 75.39 L455.10 75.50 L455.77 75.59 L456.54 75.66 L457.41 75.73 L458.29 75.82 L459.02 75.96 L459.45 76.13 L459.53 76.32 Z" fill="none" stroke="#999" stroke-width="0.5"/>
<path d="M453.08 76.50 L453.05 76.53 L453.01 76.55 L452.98 76.58 L452.94 76.60 L452.89 76.63 L452.81 76.65 L452.69 76.67 L452.55 76.68 L452.40 76.68 L452.26 76.68 L452.12 76.67 L452.00 76.67 L451.88 76.67 L451.76 76.67 L451.63 76.67 L451.49 76.66 L451.36 76.66 L451.24 76.64 L451.14 76.62 L451.05 76.60 L450.98 76.58 L450.93 76.55 L450.89 76.53 L450.87 76.50 L450.88 76.47 L450.93 76.45 L451.00 76.42 L451.10 76.40 L451.20 76.39 L451.30 76.37 L451.40 76.35 L451.49 76.34 L451.60 76.32 L451.72 76.31 L451.86 76.30 L452.00 76.30 L452.14 76.31 L452.26 76.32 L452.37 76.33 L452.47 76.35 L452.58 76.36 L452.70 76.37 L452.83 76.38 L452.94 76.40 L453.03 76.42 L453.09 76.45 L453.10 76.47 Z" fill="none" stroke="#999" stroke-width="0.5"/>
<g fill="none" stroke="#1a1a1a" stroke-width="1.05"><rect x="436" y="38.6" width="24.30" height="39.20"/><line x1="436" y1="57.3" x2="460.3" y2="57.3"/><line x1="443.3" y1="38.6" x2="443.3" y2="57.3"/></g>
<text x="439.50" y="45.00" font-size="6.4" text-anchor="middle" fill="#333" stroke="#333" stroke-width="0.05" dominant-baseline="central">7</text>
<text x="456.00" y="45.00" font-size="6.4" text-anchor="middle" fill="#333" stroke="#333" stroke-width="0.05" dominant-baseline="central" textLength="6.5" lengthAdjust="spacingAndGlyphs">11</text>
<text x="456.20" y="74.00" font-size="6.4" text-anchor="middle" fill="#333" stroke="#333" stroke-width="0.05" dominant-baseline="central" textLength="7" lengthAdjust="spacingAndGlyphs">82</text>
<rect x="466" y="34" width="47.00" height="44.20" fill="none" stroke="#c4c4c4" stroke-width="0.9"/>
<line x1="466.30" y1="38.00" x2="467.60" y2="38.00" stroke="#888" stroke-width="0.5"/>
<line x1="466.30" y1="44.37" x2="467.60" y2="44.37" stroke="#888" stroke-width="0.5"/>
<line x1="466.30" y1="50.73" x2="467.60" y2="50.73" stroke="#888" stroke-width="0.5"/>
<line x1="466.30" y1="57.10" x2="467.60" y2="57.10" stroke="#888" stroke-width="0.5"/>
<line x1="466.30" y1="63.47" x2="467.60" y2="63.47" stroke="#888" stroke-width="0.5"/>
<line x1="466.30" y1="69.83" x2="467.60" y2="69.83" stroke="#888" stroke-width="0.5"/>
<line x1="466.30" y1="76.20" x2="467.60" y2="76.20" stroke="#888" stroke-width="0.5"/>
<line x1="470.00" y1="76.60" x2="470.00" y2="77.90" stroke="#888" stroke-width="0.5"/>
<line x1="476.83" y1="76.60" x2="476.83" y2="77.90" stroke="#888" stroke-width="0.5"/>
<line x1="483.67" y1="76.60" x2="483.67" y2="77.90" stroke="#888" stroke-width="0.5"/>
<line x1="490.50" y1="76.60" x2="490.50" y2="77.90" stroke="#888" stroke-width="0.5"/>
<line x1="497.33" y1="76.60" x2="497.33" y2="77.90" stroke="#888" stroke-width="0.5"/>
<line x1="504.17" y1="76.60" x2="504.17" y2="77.90" stroke="#888" stroke-width="0.5"/>
<line x1="511.00" y1="76.60" x2="511.00" y2="77.90" stroke="#888" stroke-width="0.5"/>
<path d="M481.06 59.00 L481.37 60.26 L481.68 61.84 L481.86 63.64 L481.85 65.45 L481.66 67.09 L481.34 68.45 L480.94 69.60 L480.51 70.61 L480.06 71.54 L479.57 72.32 L479.04 72.78 L478.50 72.73 L477.98 72.11 L477.54 70.99 L477.18 69.62 L476.89 68.27 L476.63 67.13 L476.33 66.22 L475.99 65.42 L475.62 64.54 L475.29 63.43 L475.06 62.07 L474.96 60.55 L474.98 59.00 L475.06 57.49 L475.15 56.01 L475.23 54.49 L475.32 52.88 L475.48 51.27 L475.75 49.82 L476.14 48.76 L476.63 48.21 L477.15 48.13 L477.64 48.26 L478.08 48.28 L478.50 47.92 L478.97 47.18 L479.52 46.30 L480.15 45.72 L480.77 45.87 L481.27 46.95 L481.54 48.85 L481.55 51.19 L481.35 53.51 L481.08 55.44 L480.88 56.87 L480.87 57.96 Z" fill="none" stroke="#9a9a9a" stroke-width="0.5"/>
<path d="M480.46 59.00 L480.46 59.86 L480.59 60.87 L480.80 62.18 L481.00 63.81 L481.08 65.60 L480.98 67.26 L480.68 68.48 L480.25 69.12 L479.77 69.21 L479.30 68.95 L478.88 68.62 L478.50 68.39 L478.13 68.32 L477.75 68.27 L477.38 68.03 L477.04 67.45 L476.77 66.50 L476.61 65.30 L476.53 64.05 L476.46 62.92 L476.36 61.95 L476.18 61.07 L475.93 60.13 L475.67 59.00 L475.49 57.68 L475.45 56.28 L475.58 54.97 L475.86 53.91 L476.21 53.14 L476.57 52.58 L476.90 52.07 L477.20 51.48 L477.48 50.77 L477.78 50.00 L478.12 49.32 L478.50 48.86 L478.91 48.69 L479.32 48.83 L479.72 49.21 L480.09 49.81 L480.43 50.61 L480.71 51.62 L480.91 52.85 L480.97 54.24 L480.92 55.66 L480.76 56.98 L480.58 58.09 Z" fill="none" stroke="#9a9a9a" stroke-width="0.5"/>
<path d="M480.03 59.00 L480.14 59.72 L480.25 60.56 L480.32 61.52 L480.34 62.54 L480.28 63.55 L480.15 64.50 L479.96 65.33 L479.72 66.02 L479.43 66.51 L479.12 66.77 L478.81 66.79 L478.50 66.57 L478.22 66.15 L477.97 65.62 L477.75 65.05 L477.55 64.49 L477.36 63.96 L477.17 63.42 L477.00 62.84 L476.84 62.19 L476.72 61.46 L476.63 60.67 L476.58 59.84 L476.54 59.00 L476.51 58.13 L476.50 57.21 L476.51 56.26 L476.58 55.31 L476.72 54.46 L476.93 53.78 L477.20 53.35 L477.48 53.13 L477.76 53.04 L478.01 52.94 L478.25 52.70 L478.50 52.30 L478.78 51.82 L479.11 51.42 L479.46 51.31 L479.78 51.61 L480.03 52.35 L480.17 53.43 L480.20 54.66 L480.14 55.85 L480.05 56.86 L479.98 57.68 L479.97 58.35 Z" fill="none" stroke="#9a9a9a" stroke-width="0.5"/>
<path d="M479.33 59.00 L479.40 59.39 L479.53 59.92 L479.67 60.61 L479.75 61.40 L479.74 62.16 L479.63 62.76 L479.45 63.14 L479.25 63.32 L479.04 63.38 L478.86 63.43 L478.68 63.53 L478.50 63.64 L478.31 63.69 L478.13 63.57 L477.97 63.26 L477.85 62.76 L477.77 62.18 L477.71 61.62 L477.66 61.15 L477.58 60.78 L477.46 60.44 L477.32 60.05 L477.20 59.57 L477.12 59.00 L477.11 58.39 L477.17 57.81 L477.26 57.29 L477.38 56.84 L477.49 56.43 L477.60 56.01 L477.71 55.59 L477.84 55.20 L477.99 54.89 L478.15 54.71 L478.33 54.64 L478.50 54.65 L478.67 54.65 L478.85 54.62 L479.05 54.59 L479.25 54.64 L479.45 54.86 L479.60 55.32 L479.67 55.99 L479.65 56.78 L479.56 57.54 L479.43 58.17 L479.34 58.63 Z" fill="none" stroke="#9a9a9a" stroke-width="0.5"/>
<path d="M478.91 59.00 L478.94 59.19 L478.97 59.42 L478.99 59.67 L478.98 59.93 L478.96 60.17 L478.92 60.39 L478.87 60.60 L478.81 60.80 L478.74 60.96 L478.67 61.07 L478.58 61.09 L478.50 61.03 L478.43 60.90 L478.36 60.72 L478.31 60.53 L478.26 60.38 L478.21 60.25 L478.16 60.14 L478.10 60.01 L478.05 59.86 L478.02 59.67 L478.00 59.45 L477.99 59.22 L478.00 59.00 L478.00 58.78 L478.00 58.55 L477.99 58.30 L478.00 58.04 L478.03 57.79 L478.08 57.60 L478.15 57.48 L478.23 57.44 L478.31 57.45 L478.38 57.46 L478.44 57.42 L478.50 57.31 L478.57 57.16 L478.66 57.01 L478.75 56.95 L478.84 57.02 L478.91 57.22 L478.94 57.53 L478.94 57.88 L478.91 58.20 L478.89 58.47 L478.87 58.67 L478.88 58.83 Z" fill="none" stroke="#9a9a9a" stroke-width="0.5"/>
<path d="M509.57 67.50 L509.64 68.67 L509.62 69.87 L509.47 71.02 L509.19 72.07 L508.82 72.96 L508.41 73.74 L508.00 74.48 L507.59 75.26 L507.16 76.09 L506.67 76.89 L506.11 77.49 L505.50 77.74 L504.88 77.54 L504.32 76.92 L503.85 76.01 L503.48 75.01 L503.16 74.05 L502.85 73.19 L502.52 72.39 L502.20 71.58 L501.92 70.67 L501.74 69.66 L501.65 68.59 L501.66 67.50 L501.70 66.43 L501.73 65.34 L501.72 64.15 L501.72 62.82 L501.78 61.39 L502.00 60.00 L502.40 58.85 L502.98 58.14 L503.65 57.95 L504.34 58.22 L504.96 58.75 L505.50 59.30 L505.98 59.68 L506.45 59.86 L506.96 59.92 L507.51 60.04 L508.04 60.39 L508.51 61.04 L508.87 61.96 L509.10 63.04 L509.25 64.17 L509.36 65.28 L509.46 66.38 Z" fill="none" stroke="#777" stroke-width="0.5"/>
<path d="M509.18 67.50 L509.14 68.48 L509.01 69.42 L508.81 70.29 L508.58 71.10 L508.34 71.89 L508.08 72.67 L507.81 73.47 L507.49 74.26 L507.11 74.96 L506.67 75.48 L506.18 75.75 L505.67 75.73 L505.18 75.45 L504.73 74.99 L504.33 74.42 L503.97 73.81 L503.64 73.17 L503.34 72.49 L503.08 71.75 L502.89 70.94 L502.76 70.08 L502.69 69.21 L502.65 68.35 L502.61 67.50 L502.55 66.62 L502.46 65.66 L502.39 64.59 L502.38 63.43 L502.50 62.28 L502.76 61.26 L503.16 60.50 L503.66 60.05 L504.20 59.91 L504.73 60.00 L505.22 60.20 L505.67 60.43 L506.09 60.64 L506.50 60.83 L506.91 61.06 L507.32 61.39 L507.70 61.84 L508.04 62.41 L508.35 63.09 L508.61 63.86 L508.84 64.69 L509.02 65.58 L509.14 66.52 Z" fill="none" stroke="#777" stroke-width="0.5"/>
<path d="M508.60 67.50 L508.37 68.21 L508.18 68.84 L508.07 69.48 L508.04 70.22 L508.02 71.08 L507.94 71.99 L507.74 72.80 L507.42 73.37 L507.02 73.62 L506.60 73.61 L506.21 73.47 L505.84 73.35 L505.48 73.32 L505.11 73.34 L504.72 73.31 L504.34 73.07 L504.03 72.55 L503.84 71.79 L503.77 70.90 L503.79 70.03 L503.82 69.30 L503.77 68.69 L503.61 68.13 L503.38 67.50 L503.14 66.74 L502.97 65.86 L502.96 64.94 L503.11 64.12 L503.37 63.45 L503.70 62.92 L504.05 62.49 L504.38 62.07 L504.71 61.65 L505.06 61.30 L505.45 61.11 L505.84 61.18 L506.21 61.53 L506.52 62.08 L506.77 62.69 L507.00 63.19 L507.26 63.54 L507.58 63.77 L507.96 64.01 L508.35 64.40 L508.65 65.01 L508.80 65.80 L508.77 66.67 Z" fill="none" stroke="#777" stroke-width="0.5"/>
<path d="M508.22 67.50 L508.19 68.11 L508.05 68.67 L507.85 69.13 L507.64 69.52 L507.47 69.90 L507.35 70.36 L507.24 70.93 L507.10 71.56 L506.91 72.13 L506.64 72.51 L506.32 72.61 L506.01 72.44 L505.73 72.08 L505.49 71.66 L505.27 71.30 L505.06 71.04 L504.82 70.82 L504.58 70.56 L504.38 70.19 L504.25 69.68 L504.21 69.10 L504.25 68.51 L504.32 67.98 L504.35 67.50 L504.30 67.02 L504.18 66.45 L504.05 65.76 L503.98 64.99 L504.02 64.23 L504.20 63.63 L504.50 63.27 L504.84 63.17 L505.19 63.25 L505.49 63.37 L505.76 63.43 L506.01 63.40 L506.27 63.33 L506.53 63.30 L506.80 63.42 L507.03 63.70 L507.22 64.13 L507.36 64.61 L507.49 65.07 L507.63 65.50 L507.80 65.91 L507.99 66.36 L508.14 66.90 Z" fill="none" stroke="#777" stroke-width="0.5"/>
<path d="M507.44 67.50 L507.42 67.85 L507.41 68.21 L507.39 68.58 L507.36 68.95 L507.28 69.31 L507.17 69.63 L507.03 69.88 L506.88 70.08 L506.71 70.24 L506.54 70.38 L506.36 70.50 L506.18 70.60 L505.99 70.62 L505.80 70.55 L505.63 70.36 L505.49 70.08 L505.38 69.73 L505.31 69.37 L505.25 69.03 L505.19 68.72 L505.12 68.44 L505.04 68.15 L504.97 67.84 L504.91 67.50 L504.88 67.13 L504.89 66.76 L504.91 66.38 L504.96 66.00 L505.03 65.61 L505.12 65.23 L505.24 64.88 L505.40 64.60 L505.59 64.44 L505.79 64.41 L506.00 64.51 L506.18 64.70 L506.34 64.91 L506.48 65.09 L506.62 65.21 L506.78 65.29 L506.95 65.36 L507.12 65.48 L507.28 65.69 L507.40 65.99 L507.46 66.36 L507.48 66.75 L507.47 67.14 Z" fill="none" stroke="#444" stroke-width="0.5"/>
<path d="M507.06 67.50 L507.06 67.70 L507.01 67.88 L506.93 68.01 L506.84 68.10 L506.77 68.19 L506.73 68.31 L506.71 68.49 L506.68 68.73 L506.63 68.96 L506.55 69.12 L506.45 69.16 L506.35 69.07 L506.26 68.91 L506.20 68.72 L506.14 68.58 L506.08 68.51 L506.00 68.47 L505.91 68.44 L505.83 68.36 L505.77 68.21 L505.76 68.02 L505.79 67.82 L505.84 67.64 L505.87 67.50 L505.87 67.36 L505.83 67.20 L505.76 66.98 L505.72 66.72 L505.71 66.45 L505.77 66.25 L505.87 66.15 L505.99 66.16 L506.11 66.24 L506.20 66.32 L506.28 66.35 L506.35 66.31 L506.43 66.23 L506.52 66.16 L506.61 66.17 L506.68 66.26 L506.73 66.43 L506.76 66.62 L506.78 66.79 L506.81 66.93 L506.86 67.05 L506.94 67.16 L507.01 67.31 Z" fill="none" stroke="#444" stroke-width="0.5"/>
<path d="M505.25 54.00 L505.09 54.21 L504.85 54.41 L504.62 54.61 L504.42 54.80 L504.21 55.01 L503.94 55.22 L503.54 55.41 L502.99 55.54 L502.35 55.59 L501.69 55.58 L501.06 55.52 L500.50 55.45 L499.98 55.41 L499.44 55.41 L498.85 55.41 L498.22 55.40 L497.60 55.35 L497.07 55.22 L496.70 55.04 L496.50 54.82 L496.44 54.60 L496.45 54.39 L496.45 54.19 L496.41 54.00 L496.36 53.81 L496.34 53.60 L496.41 53.40 L496.60 53.20 L496.90 53.02 L497.26 52.85 L497.67 52.69 L498.12 52.53 L498.61 52.38 L499.18 52.25 L499.82 52.17 L500.50 52.17 L501.15 52.26 L501.69 52.42 L502.11 52.62 L502.43 52.81 L502.72 52.97 L503.07 53.09 L503.53 53.17 L504.06 53.27 L504.60 53.40 L505.02 53.57 L505.24 53.78 Z" fill="none" stroke="#999" stroke-width="0.5"/>
<path d="M501.19 54.00 L501.20 54.03 L501.20 54.07 L501.17 54.10 L501.13 54.13 L501.07 54.16 L501.00 54.18 L500.92 54.20 L500.84 54.21 L500.76 54.22 L500.68 54.23 L500.59 54.24 L500.50 54.24 L500.41 54.23 L500.33 54.22 L500.25 54.21 L500.17 54.20 L500.10 54.19 L500.03 54.17 L499.96 54.15 L499.90 54.12 L499.85 54.10 L499.84 54.06 L499.84 54.03 L499.86 54.00 L499.89 53.97 L499.92 53.94 L499.94 53.92 L499.96 53.89 L499.97 53.86 L500.00 53.82 L500.05 53.79 L500.11 53.76 L500.20 53.74 L500.30 53.73 L500.40 53.73 L500.50 53.74 L500.59 53.76 L500.67 53.78 L500.74 53.79 L500.81 53.81 L500.87 53.83 L500.93 53.85 L500.98 53.87 L501.03 53.89 L501.08 53.91 L501.12 53.94 L501.16 53.97 Z" fill="none" stroke="#999" stroke-width="0.5"/>
<g fill="none" stroke="#1a1a1a" stroke-width="1.05"><rect x="486.6" y="38.6" width="25.40" height="38.00"/><line x1="486.6" y1="57.3" x2="512" y2="57.3"/><line x1="494.5" y1="38.6" x2="494.5" y2="57.3"/></g>
<text x="490.20" y="40.60" font-size="4.8" text-anchor="middle" fill="#2a2a2a" stroke="#2a2a2a" stroke-width="0.18" dominant-baseline="central">***</text>
<text x="490.20" y="44.80" font-size="6.4" text-anchor="middle" fill="#333" stroke="#333" stroke-width="0.05" dominant-baseline="central">1</text>
<text x="507.00" y="44.80" font-size="6.4" text-anchor="middle" fill="#333" stroke="#333" stroke-width="0.05" dominant-baseline="central">9</text>
<text x="490.50" y="70.00" font-size="4.8" text-anchor="middle" fill="#2a2a2a" stroke="#2a2a2a" stroke-width="0.18" dominant-baseline="central">***</text>
<text x="490.70" y="73.60" font-size="6.4" text-anchor="middle" fill="#333" stroke="#333" stroke-width="0.05" dominant-baseline="central" textLength="7" lengthAdjust="spacingAndGlyphs">90</text>
<rect x="415" y="83" width="47.30" height="44.70" fill="none" stroke="#c4c4c4" stroke-width="0.9"/>
<line x1="415.30" y1="87.00" x2="416.60" y2="87.00" stroke="#888" stroke-width="0.5"/>
<line x1="415.30" y1="93.45" x2="416.60" y2="93.45" stroke="#888" stroke-width="0.5"/>
<line x1="415.30" y1="99.90" x2="416.60" y2="99.90" stroke="#888" stroke-width="0.5"/>
<line x1="415.30" y1="106.35" x2="416.60" y2="106.35" stroke="#888" stroke-width="0.5"/>
<line x1="415.30" y1="112.80" x2="416.60" y2="112.80" stroke="#888" stroke-width="0.5"/>
<line x1="415.30" y1="119.25" x2="416.60" y2="119.25" stroke="#888" stroke-width="0.5"/>
<line x1="415.30" y1="125.70" x2="416.60" y2="125.70" stroke="#888" stroke-width="0.5"/>
<line x1="419.00" y1="126.10" x2="419.00" y2="127.40" stroke="#888" stroke-width="0.5"/>
<line x1="425.88" y1="126.10" x2="425.88" y2="127.40" stroke="#888" stroke-width="0.5"/>
<line x1="432.77" y1="126.10" x2="432.77" y2="127.40" stroke="#888" stroke-width="0.5"/>
<line x1="439.65" y1="126.10" x2="439.65" y2="127.40" stroke="#888" stroke-width="0.5"/>
<line x1="446.53" y1="126.10" x2="446.53" y2="127.40" stroke="#888" stroke-width="0.5"/>
<line x1="453.42" y1="126.10" x2="453.42" y2="127.40" stroke="#888" stroke-width="0.5"/>
<line x1="460.30" y1="126.10" x2="460.30" y2="127.40" stroke="#888" stroke-width="0.5"/>
<path d="M433.12 109.00 L433.48 111.02 L433.72 113.30 L433.72 115.66 L433.47 117.82 L433.00 119.62 L432.41 121.04 L431.80 122.24 L431.20 123.40 L430.60 124.60 L429.96 125.75 L429.25 126.55 L428.50 126.72 L427.77 126.07 L427.13 124.68 L426.64 122.85 L426.25 120.97 L425.92 119.37 L425.53 118.15 L425.03 117.20 L424.43 116.23 L423.81 114.98 L423.28 113.30 L422.94 111.25 L422.83 109.00 L422.92 106.74 L423.17 104.60 L423.49 102.61 L423.85 100.74 L424.26 98.99 L424.73 97.41 L425.29 96.11 L425.91 95.19 L426.57 94.63 L427.22 94.31 L427.86 94.03 L428.50 93.64 L429.18 93.15 L429.91 92.75 L430.69 92.75 L431.42 93.45 L432.01 94.93 L432.38 97.05 L432.53 99.48 L432.52 101.85 L432.49 103.92 L432.55 105.66 L432.77 107.27 Z" fill="none" stroke="#a0a0a0" stroke-width="0.45"/>
<path d="M432.30 109.00 L432.35 110.56 L432.48 112.28 L432.63 114.26 L432.68 116.42 L432.54 118.54 L432.19 120.34 L431.64 121.60 L430.99 122.26 L430.32 122.49 L429.68 122.52 L429.08 122.58 L428.50 122.71 L427.91 122.78 L427.32 122.56 L426.77 121.85 L426.32 120.62 L426.00 119.02 L425.79 117.35 L425.60 115.85 L425.34 114.61 L424.95 113.52 L424.44 112.35 L423.89 110.87 L423.47 109.00 L423.29 106.89 L423.42 104.82 L423.84 103.06 L424.42 101.76 L425.04 100.83 L425.59 100.05 L426.05 99.17 L426.45 98.05 L426.85 96.76 L427.33 95.54 L427.89 94.66 L428.50 94.31 L429.12 94.52 L429.71 95.15 L430.25 96.02 L430.75 97.00 L431.23 98.05 L431.67 99.24 L432.04 100.64 L432.29 102.27 L432.40 104.03 L432.39 105.79 L432.33 107.45 Z" fill="none" stroke="#a0a0a0" stroke-width="0.45"/>
<path d="M431.43 109.00 L431.85 110.36 L432.26 112.10 L432.49 114.08 L432.40 115.93 L432.01 117.28 L431.43 118.02 L430.82 118.30 L430.29 118.52 L429.85 119.05 L429.46 120.01 L429.02 121.18 L428.50 122.08 L427.93 122.24 L427.42 121.42 L427.05 119.78 L426.85 117.79 L426.75 116.00 L426.62 114.78 L426.32 114.14 L425.81 113.77 L425.17 113.25 L424.55 112.26 L424.14 110.77 L424.06 109.00 L424.28 107.29 L424.70 105.87 L425.15 104.73 L425.51 103.68 L425.74 102.50 L425.93 101.08 L426.15 99.58 L426.49 98.31 L426.96 97.57 L427.50 97.48 L428.02 97.87 L428.50 98.38 L428.94 98.65 L429.41 98.54 L429.95 98.22 L430.55 98.07 L431.12 98.49 L431.54 99.66 L431.70 101.44 L431.61 103.47 L431.38 105.32 L431.19 106.78 L431.18 107.91 Z" fill="none" stroke="#a0a0a0" stroke-width="0.45"/>
<path d="M430.96 109.00 L431.30 110.13 L431.59 111.55 L431.70 113.07 L431.56 114.44 L431.22 115.43 L430.77 115.99 L430.33 116.32 L429.94 116.69 L429.62 117.31 L429.30 118.19 L428.93 119.09 L428.50 119.63 L428.05 119.52 L427.66 118.68 L427.38 117.31 L427.22 115.80 L427.12 114.55 L426.96 113.74 L426.67 113.32 L426.24 113.01 L425.75 112.51 L425.32 111.63 L425.06 110.39 L425.05 109.00 L425.23 107.68 L425.52 106.54 L425.81 105.57 L426.03 104.62 L426.20 103.56 L426.36 102.40 L426.58 101.30 L426.90 100.47 L427.30 100.08 L427.73 100.12 L428.13 100.39 L428.50 100.61 L428.86 100.59 L429.26 100.32 L429.71 100.00 L430.19 99.98 L430.62 100.49 L430.90 101.61 L430.98 103.13 L430.89 104.74 L430.74 106.15 L430.64 107.23 L430.72 108.10 Z" fill="none" stroke="#a0a0a0" stroke-width="0.45"/>
<path d="M430.27 109.00 L430.32 109.74 L430.47 110.63 L430.64 111.72 L430.72 112.95 L430.66 114.10 L430.44 114.96 L430.10 115.41 L429.72 115.50 L429.36 115.41 L429.06 115.39 L428.78 115.57 L428.50 115.92 L428.19 116.23 L427.87 116.28 L427.57 115.89 L427.36 115.07 L427.25 114.02 L427.20 112.99 L427.15 112.18 L427.02 111.63 L426.76 111.21 L426.41 110.72 L426.06 109.99 L425.81 109.00 L425.75 107.89 L425.90 106.86 L426.20 106.07 L426.55 105.54 L426.87 105.16 L427.11 104.72 L427.27 104.09 L427.43 103.27 L427.61 102.43 L427.87 101.77 L428.18 101.48 L428.50 101.58 L428.80 101.97 L429.07 102.44 L429.33 102.85 L429.60 103.14 L429.89 103.43 L430.18 103.84 L430.41 104.50 L430.53 105.40 L430.52 106.42 L430.43 107.41 L430.31 108.26 Z" fill="none" stroke="#a0a0a0" stroke-width="0.45"/>
<path d="M429.65 109.00 L429.67 109.48 L429.78 110.06 L429.92 110.81 L430.01 111.68 L429.99 112.52 L429.84 113.13 L429.60 113.41 L429.33 113.40 L429.07 113.25 L428.86 113.16 L428.68 113.26 L428.50 113.54 L428.29 113.86 L428.07 113.99 L427.86 113.78 L427.71 113.22 L427.64 112.45 L427.63 111.67 L427.62 111.07 L427.55 110.69 L427.38 110.43 L427.12 110.14 L426.84 109.67 L426.65 109.00 L426.59 108.23 L426.71 107.52 L426.94 107.01 L427.21 106.70 L427.44 106.50 L427.60 106.24 L427.70 105.79 L427.78 105.17 L427.89 104.51 L428.06 103.99 L428.28 103.77 L428.50 103.90 L428.70 104.26 L428.88 104.68 L429.04 105.01 L429.21 105.20 L429.42 105.32 L429.63 105.52 L429.81 105.90 L429.91 106.49 L429.91 107.21 L429.82 107.91 L429.71 108.51 Z" fill="none" stroke="#a0a0a0" stroke-width="0.45"/>
<path d="M429.17 109.00 L429.21 109.29 L429.24 109.61 L429.25 109.96 L429.24 110.31 L429.19 110.64 L429.12 110.90 L429.02 111.10 L428.92 111.24 L428.82 111.34 L428.71 111.43 L428.61 111.49 L428.50 111.52 L428.39 111.49 L428.29 111.37 L428.21 111.17 L428.14 110.92 L428.09 110.66 L428.04 110.41 L427.99 110.21 L427.92 110.03 L427.84 109.84 L427.75 109.61 L427.68 109.33 L427.63 109.00 L427.62 108.65 L427.65 108.30 L427.72 108.00 L427.80 107.75 L427.88 107.54 L427.97 107.36 L428.05 107.18 L428.13 107.01 L428.21 106.85 L428.30 106.71 L428.40 106.61 L428.50 106.56 L428.60 106.55 L428.71 106.58 L428.82 106.66 L428.91 106.79 L429.00 106.99 L429.07 107.25 L429.11 107.55 L429.14 107.87 L429.14 108.18 L429.14 108.47 L429.15 108.74 Z" fill="none" stroke="#a0a0a0" stroke-width="0.45"/>
<path d="M434.76 114.00 L434.26 115.10 L433.88 115.99 L433.71 116.89 L433.69 118.00 L433.68 119.28 L433.54 120.52 L433.21 121.39 L432.73 121.69 L432.20 121.46 L431.73 121.02 L431.35 120.77 L431.00 121.02 L430.60 121.76 L430.09 122.70 L429.49 123.39 L428.88 123.45 L428.39 122.74 L428.11 121.44 L428.01 119.90 L428.00 118.46 L427.93 117.27 L427.73 116.26 L427.40 115.22 L427.08 114.00 L426.92 112.62 L427.05 111.28 L427.47 110.24 L428.07 109.65 L428.68 109.42 L429.15 109.24 L429.43 108.75 L429.60 107.75 L429.77 106.36 L430.06 104.95 L430.49 104.02 L431.00 103.90 L431.48 104.59 L431.86 105.78 L432.13 106.96 L432.41 107.73 L432.80 107.97 L433.38 107.89 L434.09 107.90 L434.80 108.36 L435.29 109.43 L435.44 110.94 L435.22 112.57 Z" fill="none" stroke="#888" stroke-width="0.45"/>
<path d="M433.86 114.00 L433.69 114.91 L433.46 115.69 L433.21 116.35 L432.97 116.92 L432.75 117.46 L432.55 117.98 L432.34 118.50 L432.12 118.97 L431.86 119.37 L431.59 119.66 L431.30 119.86 L431.00 119.99 L430.69 120.06 L430.37 120.09 L430.03 120.04 L429.68 119.87 L429.34 119.55 L429.03 119.06 L428.77 118.40 L428.57 117.61 L428.43 116.74 L428.35 115.83 L428.32 114.91 L428.35 114.00 L428.43 113.13 L428.56 112.32 L428.73 111.58 L428.94 110.94 L429.17 110.39 L429.40 109.90 L429.64 109.44 L429.87 108.98 L430.12 108.54 L430.39 108.15 L430.69 107.85 L431.00 107.72 L431.32 107.76 L431.63 107.96 L431.92 108.26 L432.21 108.61 L432.50 108.97 L432.81 109.35 L433.13 109.80 L433.44 110.38 L433.70 111.12 L433.87 112.02 L433.93 113.01 Z" fill="none" stroke="#888" stroke-width="0.45"/>
<path d="M432.64 114.00 L432.55 114.53 L432.46 115.01 L432.37 115.46 L432.26 115.87 L432.13 116.23 L431.98 116.52 L431.82 116.74 L431.65 116.90 L431.49 117.04 L431.33 117.20 L431.17 117.41 L431.00 117.63 L430.80 117.82 L430.59 117.90 L430.38 117.85 L430.18 117.65 L430.01 117.33 L429.86 116.94 L429.72 116.52 L429.60 116.09 L429.47 115.63 L429.37 115.12 L429.31 114.57 L429.31 114.00 L429.37 113.45 L429.50 112.97 L429.66 112.58 L429.82 112.26 L429.97 111.96 L430.08 111.63 L430.18 111.26 L430.29 110.86 L430.43 110.49 L430.61 110.24 L430.80 110.15 L431.00 110.21 L431.19 110.38 L431.36 110.57 L431.53 110.73 L431.71 110.84 L431.92 110.93 L432.14 111.07 L432.36 111.32 L432.54 111.71 L432.66 112.23 L432.71 112.82 L432.69 113.43 Z" fill="none" stroke="#888" stroke-width="0.45"/>
<path d="M431.55 114.00 L431.53 114.18 L431.52 114.36 L431.50 114.53 L431.46 114.68 L431.41 114.80 L431.34 114.88 L431.27 114.92 L431.21 114.95 L431.16 114.99 L431.11 115.07 L431.06 115.18 L431.00 115.30 L430.93 115.39 L430.85 115.41 L430.78 115.36 L430.72 115.25 L430.67 115.11 L430.62 114.97 L430.58 114.84 L430.52 114.71 L430.46 114.57 L430.41 114.40 L430.39 114.21 L430.39 114.00 L430.43 113.81 L430.49 113.65 L430.56 113.53 L430.62 113.43 L430.66 113.32 L430.68 113.19 L430.71 113.02 L430.74 112.85 L430.79 112.72 L430.86 112.66 L430.93 112.67 L431.00 112.73 L431.06 112.81 L431.12 112.87 L431.18 112.90 L431.25 112.89 L431.33 112.89 L431.41 112.93 L431.49 113.04 L431.54 113.20 L431.57 113.39 L431.57 113.61 L431.56 113.81 Z" fill="none" stroke="#888" stroke-width="0.45"/>
<path d="M453.39 116.50 L452.94 117.91 L452.06 119.09 L451.02 119.99 L450.09 120.72 L449.38 121.46 L448.88 122.35 L448.41 123.40 L447.80 124.41 L446.97 125.12 L445.97 125.33 L444.94 125.04 L444.00 124.44 L443.19 123.85 L442.43 123.53 L441.56 123.56 L440.49 123.80 L439.25 123.93 L438.04 123.66 L437.11 122.84 L436.67 121.58 L436.73 120.12 L437.09 118.72 L437.46 117.53 L437.54 116.50 L437.23 115.43 L436.66 114.14 L436.13 112.59 L435.97 110.94 L436.39 109.49 L437.37 108.54 L438.70 108.22 L440.12 108.43 L441.37 108.89 L442.39 109.29 L443.22 109.41 L444.00 109.26 L444.82 109.00 L445.70 108.88 L446.58 109.03 L447.38 109.48 L448.09 110.10 L448.79 110.75 L449.59 111.35 L450.56 111.95 L451.64 112.70 L452.62 113.72 L453.27 115.03 Z" fill="none" stroke="#6a6a6a" stroke-width="0.5"/>
<path d="M451.10 116.50 L450.93 117.59 L450.80 118.67 L450.62 119.76 L450.30 120.82 L449.75 121.74 L448.97 122.40 L448.06 122.75 L447.12 122.85 L446.25 122.85 L445.49 122.89 L444.78 123.09 L444.06 123.43 L443.26 123.79 L442.38 124.02 L441.49 123.96 L440.66 123.58 L439.96 122.91 L439.41 122.08 L438.96 121.20 L438.55 120.32 L438.13 119.45 L437.73 118.54 L437.38 117.56 L437.17 116.50 L437.13 115.41 L437.27 114.32 L437.54 113.26 L437.90 112.23 L438.33 111.22 L438.86 110.26 L439.53 109.42 L440.36 108.82 L441.33 108.59 L442.34 108.79 L443.28 109.35 L444.06 110.09 L444.69 110.75 L445.26 111.15 L445.89 111.20 L446.70 111.00 L447.72 110.77 L448.85 110.75 L449.92 111.10 L450.75 111.86 L451.23 112.93 L451.37 114.15 L451.28 115.36 Z" fill="none" stroke="#6a6a6a" stroke-width="0.5"/>
<path d="M450.60 116.50 L450.33 117.48 L449.96 118.38 L449.57 119.21 L449.15 119.99 L448.70 120.72 L448.18 121.37 L447.58 121.90 L446.89 122.26 L446.17 122.43 L445.45 122.45 L444.77 122.41 L444.12 122.38 L443.47 122.41 L442.78 122.49 L442.04 122.53 L441.26 122.45 L440.51 122.15 L439.87 121.61 L439.39 120.86 L439.09 119.99 L438.93 119.08 L438.84 118.20 L438.74 117.35 L438.60 116.50 L438.43 115.60 L438.30 114.63 L438.29 113.60 L438.46 112.58 L438.86 111.66 L439.47 110.92 L440.23 110.41 L441.07 110.16 L441.93 110.14 L442.74 110.30 L443.47 110.57 L444.12 110.88 L444.71 111.17 L445.26 111.40 L445.83 111.54 L446.47 111.61 L447.20 111.68 L448.01 111.84 L448.84 112.16 L449.61 112.70 L450.22 113.47 L450.60 114.42 L450.72 115.46 Z" fill="none" stroke="#6a6a6a" stroke-width="0.5"/>
<path d="M449.46 116.50 L449.35 117.32 L449.19 118.11 L448.94 118.87 L448.60 119.56 L448.15 120.15 L447.60 120.60 L447.01 120.92 L446.40 121.11 L445.82 121.24 L445.27 121.35 L444.73 121.48 L444.18 121.62 L443.61 121.73 L443.01 121.76 L442.40 121.68 L441.80 121.45 L441.25 121.08 L440.77 120.60 L440.36 120.02 L440.02 119.39 L439.75 118.70 L439.56 117.99 L439.44 117.25 L439.38 116.50 L439.36 115.74 L439.39 114.96 L439.47 114.16 L439.62 113.34 L439.88 112.54 L440.28 111.82 L440.84 111.27 L441.51 110.96 L442.26 110.93 L442.99 111.15 L443.64 111.54 L444.18 111.96 L444.64 112.29 L445.09 112.45 L445.58 112.44 L446.18 112.35 L446.87 112.29 L447.60 112.39 L448.29 112.72 L448.85 113.26 L449.23 113.99 L449.44 114.81 L449.50 115.66 Z" fill="none" stroke="#6a6a6a" stroke-width="0.5"/>
<path d="M448.43 116.50 L448.06 117.10 L447.81 117.65 L447.70 118.22 L447.66 118.87 L447.56 119.56 L447.30 120.17 L446.83 120.55 L446.23 120.64 L445.61 120.47 L445.07 120.19 L444.63 120.00 L444.24 120.04 L443.82 120.32 L443.31 120.70 L442.70 120.98 L442.08 120.99 L441.58 120.67 L441.27 120.07 L441.16 119.34 L441.15 118.64 L441.11 118.06 L440.95 117.56 L440.65 117.07 L440.28 116.50 L439.98 115.83 L439.88 115.10 L440.03 114.41 L440.40 113.84 L440.88 113.40 L441.38 113.06 L441.84 112.75 L442.28 112.42 L442.73 112.12 L443.22 111.94 L443.74 111.96 L444.24 112.23 L444.66 112.68 L444.99 113.16 L445.27 113.51 L445.62 113.63 L446.12 113.56 L446.80 113.43 L447.58 113.43 L448.29 113.69 L448.78 114.24 L448.94 114.99 L448.78 115.78 Z" fill="none" stroke="#6a6a6a" stroke-width="0.5"/>
<path d="M447.64 116.50 L447.53 117.01 L447.37 117.49 L447.18 117.93 L446.96 118.34 L446.70 118.71 L446.40 119.02 L446.07 119.27 L445.71 119.43 L445.35 119.53 L444.99 119.57 L444.64 119.59 L444.30 119.61 L443.96 119.63 L443.60 119.65 L443.22 119.64 L442.83 119.56 L442.46 119.39 L442.13 119.11 L441.88 118.74 L441.70 118.31 L441.58 117.85 L441.51 117.40 L441.46 116.95 L441.41 116.50 L441.35 116.03 L441.32 115.54 L441.33 115.02 L441.41 114.50 L441.59 114.01 L441.88 113.59 L442.26 113.30 L442.69 113.16 L443.15 113.15 L443.58 113.26 L443.97 113.44 L444.30 113.64 L444.60 113.80 L444.88 113.90 L445.19 113.94 L445.53 113.94 L445.93 113.96 L446.36 114.04 L446.78 114.22 L447.15 114.52 L447.44 114.94 L447.61 115.43 L447.67 115.97 Z" fill="none" stroke="#6a6a6a" stroke-width="0.5"/>
<path d="M446.71 116.50 L446.58 116.85 L446.43 117.16 L446.28 117.45 L446.14 117.73 L446.00 118.00 L445.83 118.26 L445.62 118.47 L445.38 118.61 L445.11 118.66 L444.84 118.64 L444.59 118.60 L444.36 118.56 L444.14 118.57 L443.89 118.62 L443.62 118.66 L443.33 118.66 L443.04 118.56 L442.81 118.36 L442.65 118.08 L442.56 117.75 L442.53 117.41 L442.51 117.10 L442.47 116.80 L442.40 116.50 L442.32 116.18 L442.25 115.82 L442.23 115.44 L442.31 115.07 L442.47 114.76 L442.71 114.51 L442.99 114.35 L443.29 114.27 L443.59 114.26 L443.87 114.29 L444.13 114.35 L444.36 114.44 L444.58 114.54 L444.78 114.64 L444.98 114.72 L445.19 114.77 L445.44 114.81 L445.73 114.86 L446.04 114.96 L446.33 115.13 L446.58 115.40 L446.73 115.74 L446.77 116.12 Z" fill="none" stroke="#6a6a6a" stroke-width="0.5"/>
<path d="M445.77 116.50 L445.71 116.70 L445.61 116.88 L445.50 117.03 L445.38 117.16 L445.28 117.29 L445.19 117.42 L445.09 117.55 L444.98 117.66 L444.85 117.73 L444.70 117.75 L444.56 117.73 L444.43 117.69 L444.30 117.64 L444.17 117.62 L444.04 117.63 L443.88 117.63 L443.72 117.61 L443.56 117.54 L443.44 117.41 L443.38 117.23 L443.36 117.03 L443.38 116.84 L443.40 116.66 L443.39 116.50 L443.36 116.33 L443.30 116.14 L443.26 115.92 L443.27 115.70 L443.33 115.50 L443.46 115.35 L443.64 115.27 L443.83 115.26 L444.01 115.30 L444.17 115.34 L444.30 115.39 L444.42 115.41 L444.54 115.42 L444.66 115.43 L444.79 115.45 L444.91 115.48 L445.04 115.54 L445.17 115.60 L445.31 115.68 L445.46 115.78 L445.60 115.92 L445.71 116.09 L445.77 116.29 Z" fill="none" stroke="#6a6a6a" stroke-width="0.5"/>
<line x1="438.00" y1="126.20" x2="452.00" y2="126.20" stroke="#333" stroke-width="1.2"/>
<g fill="none" stroke="#1a1a1a" stroke-width="1.05"><rect x="435.9" y="88" width="24.60" height="38.80"/><line x1="435.9" y1="106" x2="460.5" y2="106"/><line x1="443.5" y1="88" x2="443.5" y2="106"/></g>
<text x="439.60" y="90.20" font-size="4.8" text-anchor="middle" fill="#2a2a2a" stroke="#2a2a2a" stroke-width="0.18" dominant-baseline="central">***</text>
<text x="439.60" y="94.20" font-size="6.4" text-anchor="middle" fill="#333" stroke="#333" stroke-width="0.05" dominant-baseline="central">5</text>
<text x="456.20" y="90.20" font-size="4.8" text-anchor="middle" fill="#2a2a2a" stroke="#2a2a2a" stroke-width="0.18" dominant-baseline="central">***</text>
<text x="456.20" y="94.20" font-size="6.4" text-anchor="middle" fill="#333" stroke="#333" stroke-width="0.05" dominant-baseline="central">1</text>
<text x="456.50" y="119.30" font-size="4.8" text-anchor="middle" fill="#2a2a2a" stroke="#2a2a2a" stroke-width="0.18" dominant-baseline="central">***</text>
<text x="456.50" y="122.80" font-size="6.4" text-anchor="middle" fill="#333" stroke="#333" stroke-width="0.05" dominant-baseline="central" textLength="7" lengthAdjust="spacingAndGlyphs">98</text>
<rect x="466" y="83" width="46.80" height="44.50" fill="none" stroke="#c4c4c4" stroke-width="0.9"/>
<line x1="466.30" y1="87.00" x2="467.60" y2="87.00" stroke="#888" stroke-width="0.5"/>
<line x1="466.30" y1="93.42" x2="467.60" y2="93.42" stroke="#888" stroke-width="0.5"/>
<line x1="466.30" y1="99.83" x2="467.60" y2="99.83" stroke="#888" stroke-width="0.5"/>
<line x1="466.30" y1="106.25" x2="467.60" y2="106.25" stroke="#888" stroke-width="0.5"/>
<line x1="466.30" y1="112.67" x2="467.60" y2="112.67" stroke="#888" stroke-width="0.5"/>
<line x1="466.30" y1="119.08" x2="467.60" y2="119.08" stroke="#888" stroke-width="0.5"/>
<line x1="466.30" y1="125.50" x2="467.60" y2="125.50" stroke="#888" stroke-width="0.5"/>
<line x1="470.00" y1="125.90" x2="470.00" y2="127.20" stroke="#888" stroke-width="0.5"/>
<line x1="476.80" y1="125.90" x2="476.80" y2="127.20" stroke="#888" stroke-width="0.5"/>
<line x1="483.60" y1="125.90" x2="483.60" y2="127.20" stroke="#888" stroke-width="0.5"/>
<line x1="490.40" y1="125.90" x2="490.40" y2="127.20" stroke="#888" stroke-width="0.5"/>
<line x1="497.20" y1="125.90" x2="497.20" y2="127.20" stroke="#888" stroke-width="0.5"/>
<line x1="504.00" y1="125.90" x2="504.00" y2="127.20" stroke="#888" stroke-width="0.5"/>
<line x1="510.80" y1="125.90" x2="510.80" y2="127.20" stroke="#888" stroke-width="0.5"/>
<path d="M482.26 111.00 L482.12 112.90 L481.91 114.66 L481.66 116.30 L481.40 117.88 L481.15 119.45 L480.86 121.00 L480.50 122.40 L480.06 123.47 L479.55 124.09 L479.01 124.21 L478.49 123.96 L478.00 123.52 L477.54 123.11 L477.09 122.84 L476.61 122.71 L476.09 122.58 L475.54 122.24 L474.99 121.55 L474.49 120.42 L474.10 118.89 L473.82 117.07 L473.66 115.07 L473.62 113.02 L473.68 111.00 L473.85 109.09 L474.11 107.35 L474.44 105.84 L474.82 104.58 L475.21 103.51 L475.57 102.51 L475.90 101.44 L476.22 100.20 L476.56 98.81 L476.96 97.42 L477.45 96.29 L478.00 95.68 L478.57 95.75 L479.11 96.47 L479.58 97.67 L479.96 99.09 L480.30 100.49 L480.64 101.74 L481.01 102.90 L481.41 104.11 L481.79 105.50 L482.09 107.16 L482.25 109.04 Z" fill="none" stroke="#888" stroke-width="0.5"/>
<path d="M481.40 111.34 L481.47 112.94 L481.44 114.56 L481.29 116.11 L481.03 117.46 L480.69 118.57 L480.32 119.44 L479.94 120.17 L479.57 120.85 L479.20 121.51 L478.82 122.09 L478.42 122.49 L478.00 122.59 L477.59 122.34 L477.20 121.82 L476.84 121.15 L476.49 120.51 L476.11 119.95 L475.69 119.44 L475.22 118.81 L474.75 117.90 L474.37 116.61 L474.14 114.97 L474.11 113.13 L474.29 111.34 L474.60 109.77 L474.96 108.49 L475.30 107.43 L475.57 106.42 L475.76 105.33 L475.93 104.09 L476.12 102.78 L476.38 101.53 L476.72 100.52 L477.12 99.85 L477.56 99.53 L478.00 99.48 L478.44 99.63 L478.87 99.93 L479.30 100.37 L479.70 101.01 L480.07 101.89 L480.38 103.00 L480.63 104.27 L480.82 105.63 L480.98 107.01 L481.13 108.40 L481.28 109.83 Z" fill="none" stroke="#888" stroke-width="0.5"/>
<path d="M480.43 111.68 L480.50 112.83 L480.59 114.11 L480.64 115.51 L480.58 116.89 L480.36 118.02 L480.02 118.74 L479.61 119.02 L479.21 119.04 L478.87 119.05 L478.58 119.27 L478.30 119.76 L478.00 120.35 L477.66 120.78 L477.30 120.83 L476.97 120.39 L476.70 119.59 L476.47 118.65 L476.26 117.78 L475.99 117.07 L475.65 116.42 L475.27 115.63 L474.93 114.56 L474.74 113.18 L474.77 111.68 L475.03 110.31 L475.44 109.28 L475.88 108.61 L476.23 108.11 L476.44 107.50 L476.53 106.53 L476.58 105.19 L476.68 103.68 L476.90 102.37 L477.23 101.59 L477.62 101.50 L478.00 101.98 L478.34 102.73 L478.63 103.42 L478.92 103.87 L479.25 104.09 L479.62 104.29 L479.99 104.71 L480.30 105.51 L480.48 106.66 L480.54 108.00 L480.50 109.34 L480.44 110.55 Z" fill="none" stroke="#888" stroke-width="0.5"/>
<path d="M480.05 112.02 L480.13 113.00 L480.11 114.00 L479.99 114.91 L479.79 115.64 L479.55 116.17 L479.31 116.60 L479.09 117.01 L478.90 117.50 L478.71 118.06 L478.50 118.57 L478.26 118.90 L478.00 118.92 L477.75 118.63 L477.53 118.13 L477.34 117.59 L477.15 117.17 L476.93 116.91 L476.65 116.74 L476.33 116.50 L476.02 116.03 L475.77 115.25 L475.66 114.22 L475.69 113.08 L475.85 112.02 L476.07 111.13 L476.29 110.42 L476.46 109.78 L476.56 109.12 L476.64 108.36 L476.72 107.54 L476.84 106.74 L477.02 106.10 L477.25 105.67 L477.50 105.44 L477.75 105.34 L478.00 105.28 L478.26 105.22 L478.52 105.21 L478.79 105.32 L479.05 105.66 L479.26 106.25 L479.42 107.04 L479.53 107.92 L479.60 108.78 L479.68 109.58 L479.79 110.34 L479.92 111.13 Z" fill="none" stroke="#888" stroke-width="0.5"/>
<path d="M479.31 112.36 L479.37 112.99 L479.39 113.66 L479.33 114.28 L479.20 114.78 L479.03 115.14 L478.86 115.38 L478.71 115.59 L478.58 115.85 L478.45 116.19 L478.32 116.55 L478.17 116.83 L478.00 116.93 L477.83 116.79 L477.69 116.47 L477.56 116.07 L477.44 115.73 L477.31 115.50 L477.14 115.36 L476.94 115.21 L476.72 114.94 L476.54 114.47 L476.45 113.82 L476.46 113.07 L476.56 112.36 L476.73 111.77 L476.89 111.32 L477.02 110.94 L477.09 110.53 L477.13 110.03 L477.17 109.46 L477.24 108.88 L477.35 108.40 L477.50 108.10 L477.66 107.98 L477.84 107.98 L478.00 108.02 L478.16 108.04 L478.33 108.03 L478.51 108.06 L478.68 108.21 L478.84 108.53 L478.95 109.02 L479.02 109.61 L479.06 110.21 L479.10 110.77 L479.14 111.29 L479.22 111.80 Z" fill="none" stroke="#333" stroke-width="0.5"/>
<path d="M478.65 112.70 L478.68 113.01 L478.68 113.33 L478.63 113.61 L478.55 113.81 L478.46 113.93 L478.38 114.02 L478.32 114.14 L478.27 114.33 L478.22 114.57 L478.16 114.79 L478.08 114.92 L478.00 114.91 L477.92 114.77 L477.86 114.54 L477.81 114.32 L477.76 114.17 L477.69 114.13 L477.59 114.13 L477.48 114.10 L477.37 113.98 L477.29 113.73 L477.26 113.39 L477.29 113.03 L477.36 112.70 L477.44 112.44 L477.51 112.24 L477.55 112.04 L477.56 111.81 L477.57 111.53 L477.58 111.25 L477.63 111.00 L477.69 110.84 L477.77 110.77 L477.85 110.77 L477.93 110.77 L478.00 110.74 L478.08 110.66 L478.16 110.58 L478.25 110.56 L478.34 110.65 L478.40 110.86 L478.44 111.16 L478.46 111.47 L478.46 111.76 L478.48 112.00 L478.53 112.21 L478.59 112.43 Z" fill="none" stroke="#333" stroke-width="0.5"/>
<path d="M508.86 116.50 L509.12 117.69 L509.20 118.97 L509.02 120.18 L508.56 121.16 L507.91 121.81 L507.19 122.15 L506.52 122.32 L505.97 122.53 L505.51 122.95 L505.07 123.60 L504.59 124.38 L504.00 125.09 L503.33 125.51 L502.63 125.53 L501.98 125.14 L501.41 124.46 L500.91 123.62 L500.48 122.74 L500.07 121.84 L499.70 120.90 L499.39 119.88 L499.20 118.78 L499.15 117.63 L499.25 116.50 L499.45 115.44 L499.68 114.45 L499.90 113.50 L500.11 112.52 L500.32 111.51 L500.61 110.51 L501.02 109.63 L501.54 108.97 L502.15 108.58 L502.78 108.44 L503.40 108.42 L504.00 108.41 L504.61 108.35 L505.24 108.27 L505.92 108.30 L506.58 108.58 L507.17 109.19 L507.61 110.11 L507.88 111.22 L508.03 112.38 L508.13 113.47 L508.29 114.46 L508.55 115.44 Z" fill="none" stroke="#777" stroke-width="0.5"/>
<path d="M508.32 116.50 L508.33 117.45 L508.27 118.40 L508.12 119.33 L507.87 120.19 L507.50 120.91 L507.05 121.45 L506.55 121.79 L506.04 121.99 L505.57 122.12 L505.13 122.31 L504.71 122.61 L504.26 123.03 L503.74 123.46 L503.15 123.78 L502.54 123.82 L501.96 123.53 L501.49 122.89 L501.14 122.01 L500.93 121.02 L500.80 120.03 L500.70 119.11 L500.59 118.24 L500.47 117.38 L500.36 116.50 L500.31 115.58 L500.37 114.66 L500.55 113.79 L500.85 113.02 L501.21 112.36 L501.59 111.79 L501.98 111.26 L502.37 110.73 L502.78 110.20 L503.23 109.72 L503.72 109.36 L504.25 109.19 L504.80 109.22 L505.32 109.46 L505.81 109.85 L506.26 110.34 L506.68 110.91 L507.06 111.53 L507.41 112.21 L507.71 112.96 L507.96 113.78 L508.14 114.65 L508.26 115.56 Z" fill="none" stroke="#777" stroke-width="0.5"/>
<path d="M507.84 116.50 L507.82 117.27 L507.72 118.02 L507.54 118.72 L507.31 119.36 L507.02 119.91 L506.69 120.36 L506.33 120.70 L505.96 120.94 L505.59 121.12 L505.23 121.27 L504.88 121.45 L504.51 121.68 L504.11 121.93 L503.66 122.13 L503.18 122.18 L502.71 122.02 L502.30 121.61 L501.98 120.97 L501.79 120.20 L501.70 119.38 L501.66 118.59 L501.63 117.87 L501.58 117.18 L501.50 116.50 L501.44 115.79 L501.44 115.04 L501.53 114.31 L501.73 113.65 L502.01 113.11 L502.35 112.68 L502.70 112.32 L503.04 111.99 L503.37 111.64 L503.72 111.27 L504.09 110.92 L504.51 110.67 L504.95 110.60 L505.38 110.74 L505.78 111.07 L506.13 111.54 L506.42 112.08 L506.69 112.64 L506.94 113.19 L507.19 113.76 L507.43 114.36 L507.63 115.02 L507.78 115.74 Z" fill="none" stroke="#777" stroke-width="0.5"/>
<path d="M507.09 116.50 L507.11 117.05 L507.12 117.62 L507.09 118.20 L506.96 118.75 L506.75 119.19 L506.45 119.48 L506.12 119.62 L505.79 119.66 L505.51 119.69 L505.26 119.80 L505.03 120.04 L504.77 120.38 L504.45 120.72 L504.09 120.94 L503.73 120.94 L503.40 120.69 L503.15 120.24 L502.98 119.67 L502.87 119.08 L502.78 118.53 L502.69 118.03 L502.57 117.54 L502.46 117.04 L502.38 116.50 L502.38 115.94 L502.46 115.41 L502.62 114.93 L502.82 114.51 L503.03 114.14 L503.23 113.78 L503.42 113.40 L503.63 113.01 L503.86 112.65 L504.14 112.37 L504.45 112.22 L504.76 112.21 L505.08 112.31 L505.37 112.48 L505.66 112.69 L505.93 112.91 L506.21 113.17 L506.47 113.48 L506.69 113.88 L506.86 114.35 L506.97 114.88 L507.03 115.43 L507.06 115.96 Z" fill="none" stroke="#777" stroke-width="0.5"/>
<path d="M506.58 116.50 L506.57 116.86 L506.55 117.22 L506.49 117.58 L506.41 117.92 L506.28 118.21 L506.11 118.43 L505.92 118.57 L505.72 118.64 L505.53 118.67 L505.36 118.72 L505.19 118.82 L505.02 118.98 L504.82 119.16 L504.60 119.31 L504.35 119.35 L504.13 119.24 L503.94 118.99 L503.81 118.64 L503.74 118.24 L503.70 117.85 L503.67 117.49 L503.63 117.16 L503.57 116.84 L503.51 116.50 L503.48 116.14 L503.50 115.78 L503.58 115.44 L503.70 115.15 L503.85 114.91 L504.01 114.71 L504.16 114.51 L504.30 114.30 L504.45 114.08 L504.62 113.87 L504.81 113.71 L505.02 113.64 L505.23 113.67 L505.43 113.78 L505.61 113.96 L505.78 114.16 L505.94 114.37 L506.09 114.60 L506.24 114.84 L506.37 115.12 L506.47 115.44 L506.54 115.78 L506.57 116.14 Z" fill="none" stroke="#444" stroke-width="0.5"/>
<path d="M505.95 116.50 L505.99 116.67 L506.03 116.86 L506.04 117.06 L506.00 117.24 L505.91 117.36 L505.79 117.41 L505.67 117.40 L505.56 117.38 L505.48 117.39 L505.42 117.46 L505.36 117.60 L505.28 117.76 L505.17 117.89 L505.06 117.94 L504.95 117.89 L504.87 117.76 L504.81 117.58 L504.77 117.40 L504.73 117.24 L504.68 117.11 L504.62 116.98 L504.55 116.84 L504.51 116.68 L504.51 116.50 L504.54 116.33 L504.60 116.18 L504.67 116.06 L504.73 115.94 L504.77 115.81 L504.80 115.66 L504.84 115.50 L504.90 115.34 L504.98 115.23 L505.08 115.19 L505.18 115.21 L505.27 115.26 L505.36 115.32 L505.45 115.36 L505.54 115.37 L505.64 115.37 L505.75 115.41 L505.84 115.50 L505.90 115.65 L505.93 115.83 L505.93 116.02 L505.92 116.20 L505.92 116.35 Z" fill="none" stroke="#444" stroke-width="0.5"/>
<circle cx="495.60" cy="113.00" r="0.5" fill="#777" stroke="none" stroke-width="0.8"/>
<circle cx="499.50" cy="113.00" r="0.5" fill="#777" stroke="none" stroke-width="0.8"/>
<circle cx="496.30" cy="103.50" r="0.4" fill="#777" stroke="none" stroke-width="0.8"/>
<g fill="none" stroke="#1a1a1a" stroke-width="1.05"><rect x="486.5" y="88" width="25.50" height="38.20"/><line x1="486.5" y1="106.2" x2="512" y2="106.2"/><line x1="494.5" y1="88" x2="494.5" y2="106.2"/></g>
<text x="490.30" y="90.40" font-size="4.8" text-anchor="middle" fill="#2a2a2a" stroke="#2a2a2a" stroke-width="0.18" dominant-baseline="central">**</text>
<text x="490.30" y="94.30" font-size="6.4" text-anchor="middle" fill="#333" stroke="#333" stroke-width="0.05" dominant-baseline="central">1</text>
<text x="506.00" y="90.30" font-size="4.8" text-anchor="middle" fill="#2a2a2a" stroke="#2a2a2a" stroke-width="0.18" dominant-baseline="central" font-style="italic">###</text>
<text x="506.00" y="95.50" font-size="6.4" text-anchor="middle" fill="#333" stroke="#333" stroke-width="0.05" dominant-baseline="central">6</text>
<text x="490.30" y="119.00" font-size="4.8" text-anchor="middle" fill="#2a2a2a" stroke="#2a2a2a" stroke-width="0.18" dominant-baseline="central" font-style="italic">##</text>
<text x="490.50" y="123.00" font-size="6.4" text-anchor="middle" fill="#333" stroke="#333" stroke-width="0.05" dominant-baseline="central" textLength="7" lengthAdjust="spacingAndGlyphs">94</text>
<text x="7" y="172.3" font-size="11.8" font-weight="bold" fill="#111">E</text>
<g>
<path d="M6.9 193.5 C9.5 193.8 11.3 194.6 12.2 196.5 C12.9 198.5 12.6 201.5 13.4 203 C14.5 203.8 17 203.6 20.5 203.5" fill="none" stroke="#666" stroke-width="1"/>
<circle cx="23.5" cy="185.5" r="4.4" fill="#666" stroke="none" stroke-width="0.00"/>
<circle cx="35.2" cy="183.3" r="4.2" fill="#666" stroke="none" stroke-width="0.00"/>
<path d="M19.6 204 C19.3 199.5 19.7 195.5 21.5 193.2 C23.2 191.2 25.5 190.2 28 190 L33 195 L33.2 204 Z" fill="#666" stroke="none" stroke-width="0.00"/>
<path d="M27.2 190.8 C26.6 186.5 29 184.4 31.8 184.4 C35 184.4 37.3 187 37 190.5 C36.8 193.5 35.2 196.2 32.3 196.3 C29.5 196.3 27.6 194 27.2 190.8 Z" fill="#666" stroke="none" stroke-width="0.00"/>
<circle cx="30.3" cy="187.9" r="1.75" fill="#fff" stroke="none" stroke-width="0.45"/>
<circle cx="33.7" cy="187.5" r="1.75" fill="#fff" stroke="none" stroke-width="0.45"/>
<circle cx="30.6" cy="188.7" r="0.85" fill="#222"/><circle cx="33.9" cy="188.3" r="0.85" fill="#222"/>
<ellipse cx="33.6" cy="193.2" rx="1.1" ry="0.8" fill="#333"/>
<path d="M34.5 194 L41 197" stroke="#8a8a8a" stroke-width="1.1" fill="none"/>
<path d="M34.2 194.2 L39.5 193" stroke="#999" stroke-width="0.6" fill="none"/>
</g>
<text x="23.70" y="212.50" font-size="6.8" text-anchor="middle" fill="#2a2a2a" stroke="#2a2a2a" stroke-width="0.18" dominant-baseline="central" textLength="31.8" lengthAdjust="spacingAndGlyphs">6-week old</text>
<line x1="48.80" y1="196.50" x2="97.00" y2="196.50" stroke="#555" stroke-width="0.9"/>
<path d="M94.5 194.7 L100 196.5 L94.5 198.3 Z" stroke="none" fill="#555" stroke-width="1"/>
<text x="73.20" y="205.80" font-size="6.8" text-anchor="middle" fill="#2a2a2a" stroke="#2a2a2a" stroke-width="0.18" dominant-baseline="central" textLength="32" lengthAdjust="spacingAndGlyphs">Donor cells</text>
<text x="72.50" y="213.30" font-size="6.8" text-anchor="middle" fill="#2a2a2a" stroke="#2a2a2a" stroke-width="0.18" dominant-baseline="central" textLength="26.8" lengthAdjust="spacingAndGlyphs">(Cd45.2<tspan baseline-shift="2.3" font-size="4">+</tspan>)</text>
<g stroke="#555" fill="none" stroke-width="0.6">
<path d="M100.91 177.37 L109.10 190.17 L110.87 189.03 L102.68 176.23 Z" fill="#aaa"/>
<path d="M104.88 183.57 L109.10 190.17 L110.87 189.03 L106.64 182.43 Z" fill="#555"/>
<line x1="100.00" y1="174.00" x2="101.79" y2="176.80"/>
<line x1="98.48" y1="174.97" x2="101.52" y2="173.03"/>
<line x1="100.28" y1="177.77" x2="103.31" y2="175.83"/>
<line x1="109.98" y1="189.60" x2="112.80" y2="194.00" stroke-width="0.7" stroke="#333"/>
</g>
<path d="M112.8 194 C114.5 196 113.5 199 114.5 201.5 C115.5 203.5 117.5 203.4 121.5 203.4" stroke="#666" fill="none" stroke-width="0.8"/>
<g transform="translate(125.30 185.90) scale(1.0) translate(-23.5 -185.5)">
<circle cx="23.5" cy="185.5" r="4.4" fill="#fff" stroke="#4a4a4a" stroke-width="0.70"/>
<circle cx="35.2" cy="183.3" r="4.2" fill="#fff" stroke="#4a4a4a" stroke-width="0.70"/>
<path d="M19.6 204 C19.3 199.5 19.7 195.5 21.5 193.2 C23.2 191.2 25.5 190.2 28 190 L33 195 L33.2 204 Z" fill="#fff" stroke="#4a4a4a" stroke-width="0.70"/>
<path d="M27.2 190.8 C26.6 186.5 29 184.4 31.8 184.4 C35 184.4 37.3 187 37 190.5 C36.8 193.5 35.2 196.2 32.3 196.3 C29.5 196.3 27.6 194 27.2 190.8 Z" fill="#fff" stroke="#4a4a4a" stroke-width="0.70"/>
<circle cx="30.3" cy="187.9" r="1.75" fill="#fff" stroke="#555" stroke-width="0.45"/>
<circle cx="33.7" cy="187.5" r="1.75" fill="#fff" stroke="#555" stroke-width="0.45"/>
<circle cx="30.6" cy="188.7" r="0.85" fill="#222"/><circle cx="33.9" cy="188.3" r="0.85" fill="#222"/>
<ellipse cx="33.6" cy="193.2" rx="1.1" ry="0.8" fill="#333"/>
<path d="M34.5 194 L41 197" stroke="#8a8a8a" stroke-width="1.1" fill="none"/>
<path d="M34.2 194.2 L39.5 193" stroke="#999" stroke-width="0.6" fill="none"/>
</g>
<text x="124.80" y="211.40" font-size="6.8" text-anchor="middle" fill="#2a2a2a" stroke="#2a2a2a" stroke-width="0.18" dominant-baseline="central" textLength="29.2" lengthAdjust="spacingAndGlyphs">Recipients</text>
<text x="125.00" y="218.90" font-size="6.8" text-anchor="middle" fill="#2a2a2a" stroke="#2a2a2a" stroke-width="0.18" dominant-baseline="central" textLength="28.7" lengthAdjust="spacingAndGlyphs">(Cd45.1<tspan baseline-shift="2.3" font-size="4">+</tspan>)</text>
<text x="208.20" y="171.00" font-size="6.8" text-anchor="middle" fill="#2a2a2a" stroke="#2a2a2a" stroke-width="0.18" dominant-baseline="central" textLength="61.3" lengthAdjust="spacingAndGlyphs">Serial transplantation</text>
<line x1="150.50" y1="192.00" x2="185.00" y2="192.00" stroke="#555" stroke-width="0.9"/>
<path d="M183.0 190.2 L188.0 192 L183.0 193.8 Z" stroke="none" fill="#555" stroke-width="1"/>
<text x="167.75" y="185.30" font-size="5.8" text-anchor="middle" fill="#2a2a2a" stroke="#2a2a2a" stroke-width="0.18" dominant-baseline="central">I</text>
<text x="167.25" y="199.00" font-size="6.8" text-anchor="middle" fill="#2a2a2a" stroke="#2a2a2a" stroke-width="0.18" dominant-baseline="central" textLength="23.3" lengthAdjust="spacingAndGlyphs">6 weeks</text>
<line x1="192.50" y1="192.00" x2="225.00" y2="192.00" stroke="#555" stroke-width="0.9"/>
<path d="M223.0 190.2 L228.0 192 L223.0 193.8 Z" stroke="none" fill="#555" stroke-width="1"/>
<text x="208.75" y="185.30" font-size="5.8" text-anchor="middle" fill="#2a2a2a" stroke="#2a2a2a" stroke-width="0.18" dominant-baseline="central">II</text>
<text x="208.25" y="199.00" font-size="6.8" text-anchor="middle" fill="#2a2a2a" stroke="#2a2a2a" stroke-width="0.18" dominant-baseline="central" textLength="23.3" lengthAdjust="spacingAndGlyphs">4 weeks</text>
<line x1="232.00" y1="192.00" x2="265.00" y2="192.00" stroke="#555" stroke-width="0.9"/>
<path d="M263.0 190.2 L268.0 192 L263.0 193.8 Z" stroke="none" fill="#555" stroke-width="1"/>
<text x="248.50" y="185.30" font-size="5.8" text-anchor="middle" fill="#2a2a2a" stroke="#2a2a2a" stroke-width="0.18" dominant-baseline="central">III</text>
<text x="248.00" y="199.00" font-size="6.8" text-anchor="middle" fill="#2a2a2a" stroke="#2a2a2a" stroke-width="0.18" dominant-baseline="central" textLength="23.3" lengthAdjust="spacingAndGlyphs">4 weeks</text>
<text x="7" y="248.5" font-size="11.8" font-weight="bold" fill="#111">F</text>
<line x1="42.20" y1="262.50" x2="42.20" y2="339.30" stroke="#0a0a0a" stroke-width="1.3"/>
<line x1="39.60" y1="264.90" x2="42.20" y2="264.90" stroke="#0a0a0a" stroke-width="0.9"/>
<text x="38.00" y="264.90" font-size="6.5" text-anchor="end" fill="#2a2a2a" stroke="#2a2a2a" stroke-width="0.18" dominant-baseline="central">100</text>
<line x1="39.60" y1="289.60" x2="42.20" y2="289.60" stroke="#0a0a0a" stroke-width="0.9"/>
<text x="38.00" y="289.60" font-size="6.5" text-anchor="end" fill="#2a2a2a" stroke="#2a2a2a" stroke-width="0.18" dominant-baseline="central">10</text>
<line x1="39.60" y1="314.40" x2="42.20" y2="314.40" stroke="#0a0a0a" stroke-width="0.9"/>
<text x="38.00" y="314.40" font-size="6.5" text-anchor="end" fill="#2a2a2a" stroke="#2a2a2a" stroke-width="0.18" dominant-baseline="central">1</text>
<line x1="39.60" y1="339.30" x2="42.20" y2="339.30" stroke="#0a0a0a" stroke-width="0.9"/>
<text x="38.00" y="339.30" font-size="6.5" text-anchor="end" fill="#2a2a2a" stroke="#2a2a2a" stroke-width="0.18" dominant-baseline="central">0</text>
<line x1="41.20" y1="282.16" x2="42.20" y2="282.16" stroke="#0a0a0a" stroke-width="0.5"/>
<line x1="41.20" y1="277.82" x2="42.20" y2="277.82" stroke="#0a0a0a" stroke-width="0.5"/>
<line x1="41.20" y1="274.73" x2="42.20" y2="274.73" stroke="#0a0a0a" stroke-width="0.5"/>
<line x1="41.20" y1="272.34" x2="42.20" y2="272.34" stroke="#0a0a0a" stroke-width="0.5"/>
<line x1="41.20" y1="270.38" x2="42.20" y2="270.38" stroke="#0a0a0a" stroke-width="0.5"/>
<line x1="41.20" y1="268.73" x2="42.20" y2="268.73" stroke="#0a0a0a" stroke-width="0.5"/>
<line x1="41.20" y1="267.29" x2="42.20" y2="267.29" stroke="#0a0a0a" stroke-width="0.5"/>
<line x1="41.20" y1="266.03" x2="42.20" y2="266.03" stroke="#0a0a0a" stroke-width="0.5"/>
<line x1="41.20" y1="306.93" x2="42.20" y2="306.93" stroke="#0a0a0a" stroke-width="0.5"/>
<line x1="41.20" y1="302.57" x2="42.20" y2="302.57" stroke="#0a0a0a" stroke-width="0.5"/>
<line x1="41.20" y1="299.47" x2="42.20" y2="299.47" stroke="#0a0a0a" stroke-width="0.5"/>
<line x1="41.20" y1="297.07" x2="42.20" y2="297.07" stroke="#0a0a0a" stroke-width="0.5"/>
<line x1="41.20" y1="295.10" x2="42.20" y2="295.10" stroke="#0a0a0a" stroke-width="0.5"/>
<line x1="41.20" y1="293.44" x2="42.20" y2="293.44" stroke="#0a0a0a" stroke-width="0.5"/>
<line x1="41.20" y1="292.00" x2="42.20" y2="292.00" stroke="#0a0a0a" stroke-width="0.5"/>
<line x1="41.20" y1="290.73" x2="42.20" y2="290.73" stroke="#0a0a0a" stroke-width="0.5"/>
<line x1="41.20" y1="331.80" x2="42.20" y2="331.80" stroke="#0a0a0a" stroke-width="0.5"/>
<line x1="41.20" y1="327.42" x2="42.20" y2="327.42" stroke="#0a0a0a" stroke-width="0.5"/>
<line x1="41.20" y1="324.31" x2="42.20" y2="324.31" stroke="#0a0a0a" stroke-width="0.5"/>
<line x1="41.20" y1="321.90" x2="42.20" y2="321.90" stroke="#0a0a0a" stroke-width="0.5"/>
<line x1="41.20" y1="319.92" x2="42.20" y2="319.92" stroke="#0a0a0a" stroke-width="0.5"/>
<line x1="41.20" y1="318.26" x2="42.20" y2="318.26" stroke="#0a0a0a" stroke-width="0.5"/>
<line x1="41.20" y1="316.81" x2="42.20" y2="316.81" stroke="#0a0a0a" stroke-width="0.5"/>
<line x1="41.20" y1="315.54" x2="42.20" y2="315.54" stroke="#0a0a0a" stroke-width="0.5"/>
<text x="18.80" y="301.00" font-size="8.2" text-anchor="middle" fill="#2a2a2a" stroke="#2a2a2a" stroke-width="0.18" dominant-baseline="central" textLength="83" lengthAdjust="spacingAndGlyphs" transform="rotate(-90 18.80 301.00)">% donor-derived thymocytes</text>
<line x1="42.20" y1="314.40" x2="101.50" y2="314.40" stroke="#333" stroke-width="0.8" stroke-dasharray="2 1.6"/>
<line x1="42.20" y1="339.30" x2="101.30" y2="339.30" stroke="#0a0a0a" stroke-width="1.2"/>
<line x1="50.80" y1="339.30" x2="50.80" y2="341.70" stroke="#0a0a0a" stroke-width="0.9"/>
<line x1="65.30" y1="339.30" x2="65.30" y2="341.70" stroke="#0a0a0a" stroke-width="0.9"/>
<line x1="79.70" y1="339.30" x2="79.70" y2="341.70" stroke="#0a0a0a" stroke-width="0.9"/>
<line x1="94.80" y1="339.30" x2="94.80" y2="341.70" stroke="#0a0a0a" stroke-width="0.9"/>
<path d="M49.50 325.30 L50.80 322.90 L52.10 325.30 Z" fill="#62207a"/>
<path d="M48.20 328.60 L49.50 326.20 L50.80 328.60 Z" fill="#62207a"/>
<path d="M46.20 340.10 L47.50 337.70 L48.80 340.10 Z" fill="#62207a"/>
<path d="M49.50 340.10 L50.80 337.70 L52.10 340.10 Z" fill="#62207a"/>
<path d="M52.70 340.10 L54.00 337.70 L55.30 340.10 Z" fill="#62207a"/>
<line x1="47.00" y1="331.20" x2="54.60" y2="331.20" stroke="#62207a" stroke-width="0.9"/>
<line x1="50.80" y1="327.00" x2="50.80" y2="335.50" stroke="#62207a" stroke-width="0.9"/>
<line x1="49.30" y1="327.00" x2="52.30" y2="327.00" stroke="#62207a" stroke-width="0.9"/>
<line x1="49.30" y1="335.50" x2="52.30" y2="335.50" stroke="#62207a" stroke-width="0.9"/>
<circle cx="65.30" cy="321.60" r="1.3" fill="#fff" stroke="#55b050" stroke-width="0.75"/>
<circle cx="62.00" cy="339.00" r="1.3" fill="#fff" stroke="#55b050" stroke-width="0.75"/>
<circle cx="65.30" cy="339.00" r="1.3" fill="#fff" stroke="#55b050" stroke-width="0.75"/>
<circle cx="68.60" cy="339.00" r="1.3" fill="#fff" stroke="#55b050" stroke-width="0.75"/>
<circle cx="65.30" cy="326.00" r="1.3" fill="#fff" stroke="#55b050" stroke-width="0.75"/>
<line x1="61.00" y1="330.30" x2="69.60" y2="330.30" stroke="#55b050" stroke-width="0.9"/>
<line x1="65.30" y1="326.50" x2="65.30" y2="334.50" stroke="#55b050" stroke-width="0.9"/>
<line x1="63.80" y1="326.50" x2="66.80" y2="326.50" stroke="#55b050" stroke-width="0.9"/>
<line x1="63.80" y1="334.50" x2="66.80" y2="334.50" stroke="#55b050" stroke-width="0.9"/>
<circle cx="76.20" cy="266.80" r="1.25" fill="#1d4f8f" stroke="none" stroke-width="0.8"/>
<circle cx="80.20" cy="266.80" r="1.25" fill="#1d4f8f" stroke="none" stroke-width="0.8"/>
<circle cx="84.00" cy="266.80" r="1.25" fill="#1d4f8f" stroke="none" stroke-width="0.8"/>
<circle cx="80.00" cy="270.60" r="1.25" fill="#1d4f8f" stroke="none" stroke-width="0.8"/>
<circle cx="78.50" cy="274.00" r="1.25" fill="#1d4f8f" stroke="none" stroke-width="0.8"/>
<circle cx="75.50" cy="276.50" r="1.25" fill="#1d4f8f" stroke="none" stroke-width="0.8"/>
<circle cx="78.20" cy="277.00" r="1.25" fill="#1d4f8f" stroke="none" stroke-width="0.8"/>
<circle cx="82.80" cy="276.50" r="1.25" fill="#1d4f8f" stroke="none" stroke-width="0.8"/>
<circle cx="76.50" cy="278.60" r="1.25" fill="#1d4f8f" stroke="none" stroke-width="0.8"/>
<circle cx="80.50" cy="278.80" r="1.25" fill="#1d4f8f" stroke="none" stroke-width="0.8"/>
<circle cx="80.00" cy="285.30" r="1.25" fill="#1d4f8f" stroke="none" stroke-width="0.8"/>
<circle cx="76.50" cy="288.70" r="1.25" fill="#1d4f8f" stroke="none" stroke-width="0.8"/>
<circle cx="80.50" cy="291.30" r="1.25" fill="#1d4f8f" stroke="none" stroke-width="0.8"/>
<circle cx="79.00" cy="295.70" r="1.25" fill="#1d4f8f" stroke="none" stroke-width="0.8"/>
<circle cx="84.00" cy="294.80" r="1.25" fill="#1d4f8f" stroke="none" stroke-width="0.8"/>
<circle cx="79.70" cy="302.20" r="1.25" fill="#1d4f8f" stroke="none" stroke-width="0.8"/>
<line x1="75.50" y1="276.60" x2="84.00" y2="276.60" stroke="#1d4f8f" stroke-width="0.9"/>
<line x1="79.70" y1="273.30" x2="79.70" y2="279.80" stroke="#1d4f8f" stroke-width="0.9"/>
<line x1="77.90" y1="273.30" x2="81.50" y2="273.30" stroke="#1d4f8f" stroke-width="0.9"/>
<line x1="77.90" y1="279.80" x2="81.50" y2="279.80" stroke="#1d4f8f" stroke-width="0.9"/>
<text x="79.70" y="261.90" font-size="5.5" text-anchor="middle" fill="#2a2a2a" stroke="#2a2a2a" stroke-width="0.18" dominant-baseline="central">**</text>
<circle cx="95.00" cy="302.00" r="1.3" fill="#fff" stroke="#c42c50" stroke-width="0.75"/>
<circle cx="91.50" cy="312.50" r="1.3" fill="#fff" stroke="#c42c50" stroke-width="0.75"/>
<circle cx="94.00" cy="312.00" r="1.3" fill="#fff" stroke="#c42c50" stroke-width="0.75"/>
<circle cx="97.00" cy="312.50" r="1.3" fill="#fff" stroke="#c42c50" stroke-width="0.75"/>
<circle cx="92.50" cy="315.50" r="1.3" fill="#fff" stroke="#c42c50" stroke-width="0.75"/>
<circle cx="96.00" cy="316.00" r="1.3" fill="#fff" stroke="#c42c50" stroke-width="0.75"/>
<circle cx="98.50" cy="314.00" r="1.3" fill="#fff" stroke="#c42c50" stroke-width="0.75"/>
<circle cx="94.80" cy="317.50" r="1.3" fill="#fff" stroke="#c42c50" stroke-width="0.75"/>
<circle cx="94.50" cy="326.80" r="1.3" fill="#fff" stroke="#c42c50" stroke-width="0.75"/>
<circle cx="94.20" cy="331.20" r="1.3" fill="#fff" stroke="#c42c50" stroke-width="0.75"/>
<circle cx="94.80" cy="339.30" r="1.3" fill="#fff" stroke="#c42c50" stroke-width="0.75"/>
<line x1="90.50" y1="314.40" x2="99.50" y2="314.40" stroke="#c42c50" stroke-width="0.9"/>
<line x1="94.80" y1="312.00" x2="94.80" y2="317.00" stroke="#c42c50" stroke-width="0.9"/>
<line x1="93.20" y1="312.00" x2="96.40" y2="312.00" stroke="#c42c50" stroke-width="0.9"/>
<line x1="93.20" y1="317.00" x2="96.40" y2="317.00" stroke="#c42c50" stroke-width="0.9"/>
<text x="94.80" y="297.40" font-size="5.5" text-anchor="middle" fill="#2a2a2a" stroke="#2a2a2a" stroke-width="0.18" dominant-baseline="central" font-style="italic">##</text>
<text x="42.50" y="348.20" font-size="4.8" text-anchor="end" fill="#2a2a2a" stroke="#2a2a2a" stroke-width="0.18" dominant-baseline="central" font-style="italic" textLength="11.5" lengthAdjust="spacingAndGlyphs">IL-7R</text>
<text x="50.30" y="348.20" font-size="6.2" text-anchor="middle" fill="#2a2a2a" stroke="#2a2a2a" stroke-width="0.18" dominant-baseline="central" textLength="9.5" lengthAdjust="spacingAndGlyphs">+/+</text>
<text x="65.30" y="348.20" font-size="6.2" text-anchor="middle" fill="#2a2a2a" stroke="#2a2a2a" stroke-width="0.18" dominant-baseline="central" textLength="9.5" lengthAdjust="spacingAndGlyphs">–/–</text>
<text x="79.70" y="348.20" font-size="6.2" text-anchor="middle" fill="#2a2a2a" stroke="#2a2a2a" stroke-width="0.18" dominant-baseline="central" textLength="9.5" lengthAdjust="spacingAndGlyphs">+/+</text>
<text x="94.80" y="348.20" font-size="6.2" text-anchor="middle" fill="#2a2a2a" stroke="#2a2a2a" stroke-width="0.18" dominant-baseline="central" textLength="9.5" lengthAdjust="spacingAndGlyphs">–/–</text>
<line x1="44.20" y1="355.10" x2="70.50" y2="355.10" stroke="#0a0a0a" stroke-width="1.0"/>
<line x1="73.70" y1="355.10" x2="100.50" y2="355.10" stroke="#0a0a0a" stroke-width="1.0"/>
<text x="57.20" y="361.80" font-size="6.5" text-anchor="middle" fill="#2a2a2a" stroke="#2a2a2a" stroke-width="0.18" dominant-baseline="central" textLength="18.5" lengthAdjust="spacingAndGlyphs">Control</text>
<text x="86.60" y="361.80" font-size="6.5" text-anchor="middle" fill="#2a2a2a" stroke="#2a2a2a" stroke-width="0.18" dominant-baseline="central" font-style="italic">Lmo2<tspan baseline-shift="2.3" font-size="4">Tg</tspan></text>
<text x="117" y="249.3" font-size="11.8" font-weight="bold" fill="#111">G</text>
<circle cx="162.30" cy="256.20" r="1.3" fill="#1d4f8f" stroke="none" stroke-width="0.8"/>
<text x="166.20" y="256.20" font-size="5.6" text-anchor="start" fill="#2a2a2a" stroke="#2a2a2a" stroke-width="0.18" dominant-baseline="central" font-style="italic" textLength="14.6" lengthAdjust="spacingAndGlyphs">Lmo2<tspan baseline-shift="2.3" font-size="4">Tg</tspan></text>
<circle cx="188.80" cy="256.20" r="1.4" fill="#fff" stroke="#c42c50" stroke-width="0.7"/>
<text x="193.50" y="256.20" font-size="5.6" text-anchor="start" fill="#2a2a2a" stroke="#2a2a2a" stroke-width="0.18" dominant-baseline="central" font-style="italic" textLength="35.7" lengthAdjust="spacingAndGlyphs">Lmo2<tspan baseline-shift="2.3" font-size="4">Tg</tspan>; IL-7R<tspan baseline-shift="2.3" font-size="4">−/−</tspan></text>
<line x1="156.50" y1="262.50" x2="156.50" y2="338.80" stroke="#0a0a0a" stroke-width="1.3"/>
<line x1="153.90" y1="264.50" x2="156.50" y2="264.50" stroke="#0a0a0a" stroke-width="0.9"/>
<text x="152.50" y="264.50" font-size="6.5" text-anchor="end" fill="#2a2a2a" stroke="#2a2a2a" stroke-width="0.18" dominant-baseline="central">100</text>
<line x1="153.90" y1="289.40" x2="156.50" y2="289.40" stroke="#0a0a0a" stroke-width="0.9"/>
<text x="152.50" y="289.40" font-size="6.5" text-anchor="end" fill="#2a2a2a" stroke="#2a2a2a" stroke-width="0.18" dominant-baseline="central">10</text>
<line x1="153.90" y1="314.30" x2="156.50" y2="314.30" stroke="#0a0a0a" stroke-width="0.9"/>
<text x="152.50" y="314.30" font-size="6.5" text-anchor="end" fill="#2a2a2a" stroke="#2a2a2a" stroke-width="0.18" dominant-baseline="central">1</text>
<line x1="153.90" y1="338.80" x2="156.50" y2="338.80" stroke="#0a0a0a" stroke-width="0.9"/>
<text x="152.50" y="338.80" font-size="6.5" text-anchor="end" fill="#2a2a2a" stroke="#2a2a2a" stroke-width="0.18" dominant-baseline="central">0</text>
<line x1="155.50" y1="281.90" x2="156.50" y2="281.90" stroke="#0a0a0a" stroke-width="0.5"/>
<line x1="155.50" y1="277.52" x2="156.50" y2="277.52" stroke="#0a0a0a" stroke-width="0.5"/>
<line x1="155.50" y1="274.41" x2="156.50" y2="274.41" stroke="#0a0a0a" stroke-width="0.5"/>
<line x1="155.50" y1="272.00" x2="156.50" y2="272.00" stroke="#0a0a0a" stroke-width="0.5"/>
<line x1="155.50" y1="270.02" x2="156.50" y2="270.02" stroke="#0a0a0a" stroke-width="0.5"/>
<line x1="155.50" y1="268.36" x2="156.50" y2="268.36" stroke="#0a0a0a" stroke-width="0.5"/>
<line x1="155.50" y1="266.91" x2="156.50" y2="266.91" stroke="#0a0a0a" stroke-width="0.5"/>
<line x1="155.50" y1="265.64" x2="156.50" y2="265.64" stroke="#0a0a0a" stroke-width="0.5"/>
<line x1="155.50" y1="306.80" x2="156.50" y2="306.80" stroke="#0a0a0a" stroke-width="0.5"/>
<line x1="155.50" y1="302.42" x2="156.50" y2="302.42" stroke="#0a0a0a" stroke-width="0.5"/>
<line x1="155.50" y1="299.31" x2="156.50" y2="299.31" stroke="#0a0a0a" stroke-width="0.5"/>
<line x1="155.50" y1="296.90" x2="156.50" y2="296.90" stroke="#0a0a0a" stroke-width="0.5"/>
<line x1="155.50" y1="294.92" x2="156.50" y2="294.92" stroke="#0a0a0a" stroke-width="0.5"/>
<line x1="155.50" y1="293.26" x2="156.50" y2="293.26" stroke="#0a0a0a" stroke-width="0.5"/>
<line x1="155.50" y1="291.81" x2="156.50" y2="291.81" stroke="#0a0a0a" stroke-width="0.5"/>
<line x1="155.50" y1="290.54" x2="156.50" y2="290.54" stroke="#0a0a0a" stroke-width="0.5"/>
<line x1="155.50" y1="331.42" x2="156.50" y2="331.42" stroke="#0a0a0a" stroke-width="0.5"/>
<line x1="155.50" y1="327.11" x2="156.50" y2="327.11" stroke="#0a0a0a" stroke-width="0.5"/>
<line x1="155.50" y1="324.05" x2="156.50" y2="324.05" stroke="#0a0a0a" stroke-width="0.5"/>
<line x1="155.50" y1="321.68" x2="156.50" y2="321.68" stroke="#0a0a0a" stroke-width="0.5"/>
<line x1="155.50" y1="319.74" x2="156.50" y2="319.74" stroke="#0a0a0a" stroke-width="0.5"/>
<line x1="155.50" y1="318.10" x2="156.50" y2="318.10" stroke="#0a0a0a" stroke-width="0.5"/>
<line x1="155.50" y1="316.67" x2="156.50" y2="316.67" stroke="#0a0a0a" stroke-width="0.5"/>
<line x1="155.50" y1="315.42" x2="156.50" y2="315.42" stroke="#0a0a0a" stroke-width="0.5"/>
<text x="132.30" y="300.50" font-size="8.2" text-anchor="middle" fill="#2a2a2a" stroke="#2a2a2a" stroke-width="0.18" dominant-baseline="central" textLength="64" lengthAdjust="spacingAndGlyphs" transform="rotate(-90 132.30 300.50)">DN3a fold expansion</text>
<line x1="156.50" y1="314.30" x2="231.50" y2="314.30" stroke="#333" stroke-width="0.8" stroke-dasharray="2 1.6"/>
<line x1="156.50" y1="338.80" x2="231.50" y2="338.80" stroke="#0a0a0a" stroke-width="1.2"/>
<line x1="171.50" y1="338.80" x2="171.50" y2="341.20" stroke="#0a0a0a" stroke-width="0.9"/>
<line x1="199.70" y1="338.80" x2="199.70" y2="341.20" stroke="#0a0a0a" stroke-width="0.9"/>
<line x1="227.40" y1="338.80" x2="227.40" y2="341.20" stroke="#0a0a0a" stroke-width="0.9"/>
<path d="M171.5 278.4 L200 280.7 L227.4 293.2" stroke="#1d4f8f" fill="none" stroke-width="1.2"/>
<line x1="171.50" y1="275.50" x2="171.50" y2="281.50" stroke="#1d4f8f" stroke-width="0.9"/>
<line x1="170.10" y1="275.50" x2="172.90" y2="275.50" stroke="#1d4f8f" stroke-width="0.9"/>
<line x1="170.10" y1="281.50" x2="172.90" y2="281.50" stroke="#1d4f8f" stroke-width="0.9"/>
<line x1="200.00" y1="276.50" x2="200.00" y2="285.00" stroke="#1d4f8f" stroke-width="0.9"/>
<line x1="198.60" y1="276.50" x2="201.40" y2="276.50" stroke="#1d4f8f" stroke-width="0.9"/>
<line x1="198.60" y1="285.00" x2="201.40" y2="285.00" stroke="#1d4f8f" stroke-width="0.9"/>
<line x1="227.40" y1="291.80" x2="227.40" y2="294.60" stroke="#1d4f8f" stroke-width="0.9"/>
<line x1="226.00" y1="291.80" x2="228.80" y2="291.80" stroke="#1d4f8f" stroke-width="0.9"/>
<line x1="226.00" y1="294.60" x2="228.80" y2="294.60" stroke="#1d4f8f" stroke-width="0.9"/>
<circle cx="171.50" cy="278.40" r="1.5" fill="#1d4f8f" stroke="none" stroke-width="0.8"/>
<circle cx="200.00" cy="280.70" r="1.5" fill="#1d4f8f" stroke="none" stroke-width="0.8"/>
<circle cx="227.40" cy="293.20" r="1.5" fill="#1d4f8f" stroke="none" stroke-width="0.8"/>
<path d="M171.5 289.2 L199.7 323.8 L227.4 338.8" stroke="#c42c50" fill="none" stroke-width="1.2"/>
<line x1="199.70" y1="323.80" x2="199.70" y2="338.80" stroke="#c42c50" stroke-width="1"/>
<line x1="199.70" y1="318.50" x2="199.70" y2="323.80" stroke="#c42c50" stroke-width="0.9"/>
<line x1="198.30" y1="318.50" x2="201.10" y2="318.50" stroke="#c42c50" stroke-width="0.9"/>
<line x1="198.30" y1="323.80" x2="201.10" y2="323.80" stroke="#c42c50" stroke-width="0.9"/>
<line x1="171.50" y1="286.50" x2="171.50" y2="290.50" stroke="#c42c50" stroke-width="0.9"/>
<line x1="170.10" y1="286.50" x2="172.90" y2="286.50" stroke="#c42c50" stroke-width="0.9"/>
<line x1="170.10" y1="290.50" x2="172.90" y2="290.50" stroke="#c42c50" stroke-width="0.9"/>
<circle cx="171.50" cy="289.20" r="1.6" fill="#fff" stroke="#c42c50" stroke-width="0.8"/>
<circle cx="199.70" cy="323.80" r="1.6" fill="#fff" stroke="#c42c50" stroke-width="0.8"/>
<circle cx="227.40" cy="338.80" r="1.6" fill="#fff" stroke="#c42c50" stroke-width="0.8"/>
<text x="199.70" y="310.40" font-size="5.5" text-anchor="middle" fill="#2a2a2a" stroke="#2a2a2a" stroke-width="0.18" dominant-baseline="central" font-style="italic">##</text>
<text x="227.00" y="333.50" font-size="5.5" text-anchor="middle" fill="#2a2a2a" stroke="#2a2a2a" stroke-width="0.18" dominant-baseline="central" font-style="italic">###</text>
<text x="157.70" y="347.80" font-size="6.4" text-anchor="end" fill="#2a2a2a" stroke="#2a2a2a" stroke-width="0.18" dominant-baseline="central" textLength="30" lengthAdjust="spacingAndGlyphs">Transplant:</text>
<text x="171.50" y="347.80" font-size="6.2" text-anchor="middle" fill="#2a2a2a" stroke="#2a2a2a" stroke-width="0.18" dominant-baseline="central">I</text>
<text x="199.70" y="347.80" font-size="6.2" text-anchor="middle" fill="#2a2a2a" stroke="#2a2a2a" stroke-width="0.18" dominant-baseline="central">II</text>
<text x="227.40" y="347.80" font-size="6.2" text-anchor="middle" fill="#2a2a2a" stroke="#2a2a2a" stroke-width="0.18" dominant-baseline="central">III</text>
<text x="248.5" y="248.8" font-size="11.8" font-weight="bold" fill="#111">H</text>
<line x1="284.40" y1="262.50" x2="284.40" y2="339.20" stroke="#0a0a0a" stroke-width="1.3"/>
<line x1="281.60" y1="264.50" x2="284.40" y2="264.50" stroke="#0a0a0a" stroke-width="0.9"/>
<text x="278.40" y="264.80" font-size="6.6" text-anchor="end" fill="#2a2a2a" stroke="#2a2a2a" stroke-width="0.18" dominant-baseline="central">10<tspan baseline-shift="2.5" font-size="4.4">8</tspan></text>
<line x1="283.00" y1="277.57" x2="284.40" y2="277.57" stroke="#0a0a0a" stroke-width="0.5"/>
<line x1="283.00" y1="274.28" x2="284.40" y2="274.28" stroke="#0a0a0a" stroke-width="0.5"/>
<line x1="283.00" y1="271.94" x2="284.40" y2="271.94" stroke="#0a0a0a" stroke-width="0.5"/>
<line x1="283.00" y1="270.13" x2="284.40" y2="270.13" stroke="#0a0a0a" stroke-width="0.5"/>
<line x1="283.00" y1="268.65" x2="284.40" y2="268.65" stroke="#0a0a0a" stroke-width="0.5"/>
<line x1="283.00" y1="267.40" x2="284.40" y2="267.40" stroke="#0a0a0a" stroke-width="0.5"/>
<line x1="283.00" y1="266.31" x2="284.40" y2="266.31" stroke="#0a0a0a" stroke-width="0.5"/>
<line x1="283.00" y1="265.36" x2="284.40" y2="265.36" stroke="#0a0a0a" stroke-width="0.5"/>
<line x1="281.60" y1="283.20" x2="284.40" y2="283.20" stroke="#0a0a0a" stroke-width="0.9"/>
<text x="278.40" y="283.50" font-size="6.6" text-anchor="end" fill="#2a2a2a" stroke="#2a2a2a" stroke-width="0.18" dominant-baseline="central">10<tspan baseline-shift="2.5" font-size="4.4">7</tspan></text>
<line x1="283.00" y1="296.20" x2="284.40" y2="296.20" stroke="#0a0a0a" stroke-width="0.5"/>
<line x1="283.00" y1="292.93" x2="284.40" y2="292.93" stroke="#0a0a0a" stroke-width="0.5"/>
<line x1="283.00" y1="290.60" x2="284.40" y2="290.60" stroke="#0a0a0a" stroke-width="0.5"/>
<line x1="283.00" y1="288.80" x2="284.40" y2="288.80" stroke="#0a0a0a" stroke-width="0.5"/>
<line x1="283.00" y1="287.33" x2="284.40" y2="287.33" stroke="#0a0a0a" stroke-width="0.5"/>
<line x1="283.00" y1="286.08" x2="284.40" y2="286.08" stroke="#0a0a0a" stroke-width="0.5"/>
<line x1="283.00" y1="285.00" x2="284.40" y2="285.00" stroke="#0a0a0a" stroke-width="0.5"/>
<line x1="283.00" y1="284.05" x2="284.40" y2="284.05" stroke="#0a0a0a" stroke-width="0.5"/>
<line x1="281.60" y1="301.80" x2="284.40" y2="301.80" stroke="#0a0a0a" stroke-width="0.9"/>
<text x="278.40" y="302.10" font-size="6.6" text-anchor="end" fill="#2a2a2a" stroke="#2a2a2a" stroke-width="0.18" dominant-baseline="central">10<tspan baseline-shift="2.5" font-size="4.4">6</tspan></text>
<line x1="283.00" y1="314.73" x2="284.40" y2="314.73" stroke="#0a0a0a" stroke-width="0.5"/>
<line x1="283.00" y1="311.47" x2="284.40" y2="311.47" stroke="#0a0a0a" stroke-width="0.5"/>
<line x1="283.00" y1="309.16" x2="284.40" y2="309.16" stroke="#0a0a0a" stroke-width="0.5"/>
<line x1="283.00" y1="307.37" x2="284.40" y2="307.37" stroke="#0a0a0a" stroke-width="0.5"/>
<line x1="283.00" y1="305.90" x2="284.40" y2="305.90" stroke="#0a0a0a" stroke-width="0.5"/>
<line x1="283.00" y1="304.67" x2="284.40" y2="304.67" stroke="#0a0a0a" stroke-width="0.5"/>
<line x1="283.00" y1="303.59" x2="284.40" y2="303.59" stroke="#0a0a0a" stroke-width="0.5"/>
<line x1="283.00" y1="302.65" x2="284.40" y2="302.65" stroke="#0a0a0a" stroke-width="0.5"/>
<line x1="281.60" y1="320.30" x2="284.40" y2="320.30" stroke="#0a0a0a" stroke-width="0.9"/>
<text x="278.40" y="320.60" font-size="6.6" text-anchor="end" fill="#2a2a2a" stroke="#2a2a2a" stroke-width="0.18" dominant-baseline="central">10<tspan baseline-shift="2.5" font-size="4.4">5</tspan></text>
<line x1="283.00" y1="333.23" x2="284.40" y2="333.23" stroke="#0a0a0a" stroke-width="0.5"/>
<line x1="283.00" y1="329.97" x2="284.40" y2="329.97" stroke="#0a0a0a" stroke-width="0.5"/>
<line x1="283.00" y1="327.66" x2="284.40" y2="327.66" stroke="#0a0a0a" stroke-width="0.5"/>
<line x1="283.00" y1="325.87" x2="284.40" y2="325.87" stroke="#0a0a0a" stroke-width="0.5"/>
<line x1="283.00" y1="324.40" x2="284.40" y2="324.40" stroke="#0a0a0a" stroke-width="0.5"/>
<line x1="283.00" y1="323.17" x2="284.40" y2="323.17" stroke="#0a0a0a" stroke-width="0.5"/>
<line x1="283.00" y1="322.09" x2="284.40" y2="322.09" stroke="#0a0a0a" stroke-width="0.5"/>
<line x1="283.00" y1="321.15" x2="284.40" y2="321.15" stroke="#0a0a0a" stroke-width="0.5"/>
<line x1="281.60" y1="338.80" x2="284.40" y2="338.80" stroke="#0a0a0a" stroke-width="0.9"/>
<text x="278.40" y="339.10" font-size="6.6" text-anchor="end" fill="#2a2a2a" stroke="#2a2a2a" stroke-width="0.18" dominant-baseline="central">10<tspan baseline-shift="2.5" font-size="4.4">4</tspan></text>
<text x="262.00" y="304.30" font-size="8.2" text-anchor="middle" fill="#2a2a2a" stroke="#2a2a2a" stroke-width="0.18" dominant-baseline="central" textLength="89.5" lengthAdjust="spacingAndGlyphs" transform="rotate(-90 262.00 304.30)">Absolute numbers of DN3a cells</text>
<line x1="284.40" y1="338.80" x2="371.20" y2="338.80" stroke="#0a0a0a" stroke-width="1.2"/>
<line x1="299.30" y1="338.80" x2="299.30" y2="341.20" stroke="#0a0a0a" stroke-width="0.9"/>
<line x1="327.50" y1="338.80" x2="327.50" y2="341.20" stroke="#0a0a0a" stroke-width="0.9"/>
<line x1="355.80" y1="338.80" x2="355.80" y2="341.20" stroke="#0a0a0a" stroke-width="0.9"/>
<path d="M299.3 291.5 L327.4 282.3 L355.8 274.9" stroke="#2b62a0" fill="none" stroke-width="1.2"/>
<line x1="327.50" y1="277.50" x2="327.50" y2="288.00" stroke="#1d4f8f" stroke-width="0.9"/>
<line x1="326.10" y1="277.50" x2="328.90" y2="277.50" stroke="#1d4f8f" stroke-width="0.9"/>
<line x1="326.10" y1="288.00" x2="328.90" y2="288.00" stroke="#1d4f8f" stroke-width="0.9"/>
<line x1="355.80" y1="268.50" x2="355.80" y2="282.00" stroke="#1d4f8f" stroke-width="0.9"/>
<line x1="354.40" y1="268.50" x2="357.20" y2="268.50" stroke="#1d4f8f" stroke-width="0.9"/>
<line x1="354.40" y1="282.00" x2="357.20" y2="282.00" stroke="#1d4f8f" stroke-width="0.9"/>
<circle cx="299.30" cy="291.80" r="1.4" fill="#1d4f8f" stroke="none" stroke-width="0.8"/>
<circle cx="327.50" cy="282.50" r="1.4" fill="#1d4f8f" stroke="none" stroke-width="0.8"/>
<circle cx="355.80" cy="274.50" r="1.4" fill="#1d4f8f" stroke="none" stroke-width="0.8"/>
<text x="327.50" y="277.00" font-size="5.2" text-anchor="middle" fill="#2a2a2a" stroke="#2a2a2a" stroke-width="0.18" dominant-baseline="central">**</text>
<text x="355.80" y="267.50" font-size="5.2" text-anchor="middle" fill="#2a2a2a" stroke="#2a2a2a" stroke-width="0.18" dominant-baseline="central">**</text>
<text x="337.70" y="265.40" font-size="5.8" text-anchor="start" fill="#2a2a2a" stroke="#2a2a2a" stroke-width="0.18" dominant-baseline="central" font-style="italic" textLength="15.3" lengthAdjust="spacingAndGlyphs">Lmo2<tspan baseline-shift="2.3" font-size="4">Tg</tspan></text>
<path d="M299.3 298.8 L327.5 299.5 L355.8 295.5" stroke="#62207a" fill="none" stroke-width="1.2"/>
<line x1="299.30" y1="296.50" x2="299.30" y2="301.00" stroke="#62207a" stroke-width="0.9"/>
<line x1="297.90" y1="296.50" x2="300.70" y2="296.50" stroke="#62207a" stroke-width="0.9"/>
<line x1="297.90" y1="301.00" x2="300.70" y2="301.00" stroke="#62207a" stroke-width="0.9"/>
<line x1="355.80" y1="292.80" x2="355.80" y2="298.20" stroke="#62207a" stroke-width="0.9"/>
<line x1="354.40" y1="292.80" x2="357.20" y2="292.80" stroke="#62207a" stroke-width="0.9"/>
<line x1="354.40" y1="298.20" x2="357.20" y2="298.20" stroke="#62207a" stroke-width="0.9"/>
<rect x="297.80" y="297.30" width="3.00" height="3.00" fill="#62207a"/>
<rect x="326.00" y="298.00" width="3.00" height="3.00" fill="#62207a"/>
<rect x="354.30" y="294.00" width="3.00" height="3.00" fill="#62207a"/>
<text x="335.40" y="294.20" font-size="6" text-anchor="start" fill="#2a2a2a" stroke="#2a2a2a" stroke-width="0.18" dominant-baseline="central" textLength="7.6" lengthAdjust="spacingAndGlyphs">WT</text>
<path d="M299.3 329.3 L327.5 326.3 L355.8 328.8" stroke="#c42c50" fill="none" stroke-width="1.1"/>
<path d="M299.3 329.8 L327.5 329.5 L355.8 335" stroke="#55b050" fill="none" stroke-width="1.1"/>
<line x1="327.50" y1="321.00" x2="327.50" y2="338.80" stroke="#c42c50" stroke-width="0.9"/>
<line x1="326.10" y1="321.00" x2="328.90" y2="321.00" stroke="#c42c50" stroke-width="0.9"/>
<line x1="326.10" y1="338.80" x2="328.90" y2="338.80" stroke="#c42c50" stroke-width="0.9"/>
<line x1="299.30" y1="327.50" x2="299.30" y2="331.50" stroke="#c42c50" stroke-width="0.9"/>
<line x1="297.90" y1="327.50" x2="300.70" y2="327.50" stroke="#c42c50" stroke-width="0.9"/>
<line x1="297.90" y1="331.50" x2="300.70" y2="331.50" stroke="#c42c50" stroke-width="0.9"/>
<circle cx="299.30" cy="329.30" r="1.4" fill="#fff" stroke="#c42c50" stroke-width="0.8"/>
<circle cx="327.50" cy="326.30" r="1.4" fill="#fff" stroke="#c42c50" stroke-width="0.8"/>
<circle cx="355.80" cy="328.80" r="1.4" fill="#fff" stroke="#c42c50" stroke-width="0.8"/>
<circle cx="327.50" cy="329.50" r="1.3" fill="#fff" stroke="#55b050" stroke-width="0.8"/>
<circle cx="355.80" cy="335.00" r="1.3" fill="#fff" stroke="#55b050" stroke-width="0.8"/>
<text x="327.50" y="319.30" font-size="5.2" text-anchor="middle" fill="#2a2a2a" stroke="#2a2a2a" stroke-width="0.18" dominant-baseline="central" font-style="italic">##</text>
<text x="355.80" y="325.30" font-size="5.2" text-anchor="middle" fill="#2a2a2a" stroke="#2a2a2a" stroke-width="0.18" dominant-baseline="central" font-style="italic">##</text>
<text x="336.30" y="320.00" font-size="5.6" text-anchor="start" fill="#2a2a2a" stroke="#2a2a2a" stroke-width="0.18" dominant-baseline="central" font-style="italic">Lmo2<tspan baseline-shift="2.3" font-size="4">Tg</tspan>; IL-7R<tspan baseline-shift="2.3" font-size="4">−/−</tspan></text>
<text x="357.50" y="335.50" font-size="5.6" text-anchor="start" fill="#2a2a2a" stroke="#2a2a2a" stroke-width="0.18" dominant-baseline="central" font-style="italic">IL-7R<tspan baseline-shift="2.3" font-size="4">−/−</tspan></text>
<text x="292.00" y="349.30" font-size="6.8" text-anchor="middle" fill="#2a2a2a" stroke="#2a2a2a" stroke-width="0.18" dominant-baseline="central" textLength="22.5" lengthAdjust="spacingAndGlyphs" transform="rotate(-25 292.00 349.30)">6 weeks</text>
<text x="318.00" y="350.50" font-size="6.8" text-anchor="middle" fill="#2a2a2a" stroke="#2a2a2a" stroke-width="0.18" dominant-baseline="central" textLength="26" lengthAdjust="spacingAndGlyphs" transform="rotate(-25 318.00 350.50)">6 months</text>
<text x="345.00" y="351.00" font-size="6.8" text-anchor="middle" fill="#2a2a2a" stroke="#2a2a2a" stroke-width="0.18" dominant-baseline="central" textLength="30" lengthAdjust="spacingAndGlyphs" transform="rotate(-25 345.00 351.00)">12 months</text>
<text x="327.50" y="368.80" font-size="8.4" text-anchor="middle" fill="#2a2a2a" stroke="#2a2a2a" stroke-width="0.18" dominant-baseline="central" textLength="34.7" lengthAdjust="spacingAndGlyphs">Age of mice</text>
<rect x="390.5" y="241.5" width="2.6" height="6" fill="#111"/>
<line x1="421.70" y1="262.50" x2="421.70" y2="339.20" stroke="#0a0a0a" stroke-width="1.3"/>
<line x1="419.10" y1="263.50" x2="421.70" y2="263.50" stroke="#0a0a0a" stroke-width="0.9"/>
<text x="416.00" y="263.50" font-size="6.7" text-anchor="end" fill="#2a2a2a" stroke="#2a2a2a" stroke-width="0.18" dominant-baseline="central">100</text>
<line x1="419.10" y1="278.80" x2="421.70" y2="278.80" stroke="#0a0a0a" stroke-width="0.9"/>
<text x="416.00" y="278.80" font-size="6.7" text-anchor="end" fill="#2a2a2a" stroke="#2a2a2a" stroke-width="0.18" dominant-baseline="central">80</text>
<line x1="419.10" y1="294.00" x2="421.70" y2="294.00" stroke="#0a0a0a" stroke-width="0.9"/>
<text x="416.00" y="294.00" font-size="6.7" text-anchor="end" fill="#2a2a2a" stroke="#2a2a2a" stroke-width="0.18" dominant-baseline="central">60</text>
<line x1="419.10" y1="309.00" x2="421.70" y2="309.00" stroke="#0a0a0a" stroke-width="0.9"/>
<text x="416.00" y="309.00" font-size="6.7" text-anchor="end" fill="#2a2a2a" stroke="#2a2a2a" stroke-width="0.18" dominant-baseline="central">40</text>
<line x1="419.10" y1="324.00" x2="421.70" y2="324.00" stroke="#0a0a0a" stroke-width="0.9"/>
<text x="416.00" y="324.00" font-size="6.7" text-anchor="end" fill="#2a2a2a" stroke="#2a2a2a" stroke-width="0.18" dominant-baseline="central">20</text>
<line x1="419.10" y1="339.20" x2="421.70" y2="339.20" stroke="#0a0a0a" stroke-width="0.9"/>
<text x="416.00" y="339.20" font-size="6.7" text-anchor="end" fill="#2a2a2a" stroke="#2a2a2a" stroke-width="0.18" dominant-baseline="central">0</text>
<text x="397.20" y="301.00" font-size="8.2" text-anchor="middle" fill="#2a2a2a" stroke="#2a2a2a" stroke-width="0.18" dominant-baseline="central" textLength="80" lengthAdjust="spacingAndGlyphs" transform="rotate(-90 397.20 301.00)">Leukemia-free survival (%)</text>
<line x1="421.70" y1="339.20" x2="509.00" y2="339.20" stroke="#0a0a0a" stroke-width="1.2"/>
<line x1="421.70" y1="339.20" x2="421.70" y2="341.60" stroke="#0a0a0a" stroke-width="0.9"/>
<line x1="433.82" y1="339.20" x2="433.82" y2="341.60" stroke="#0a0a0a" stroke-width="0.9"/>
<line x1="445.94" y1="339.20" x2="445.94" y2="341.60" stroke="#0a0a0a" stroke-width="0.9"/>
<line x1="458.06" y1="339.20" x2="458.06" y2="341.60" stroke="#0a0a0a" stroke-width="0.9"/>
<line x1="470.18" y1="339.20" x2="470.18" y2="341.60" stroke="#0a0a0a" stroke-width="0.9"/>
<line x1="482.30" y1="339.20" x2="482.30" y2="341.60" stroke="#0a0a0a" stroke-width="0.9"/>
<line x1="494.42" y1="339.20" x2="494.42" y2="341.60" stroke="#0a0a0a" stroke-width="0.9"/>
<line x1="506.54" y1="339.20" x2="506.54" y2="341.60" stroke="#0a0a0a" stroke-width="0.9"/>
<text x="422.30" y="343.90" font-size="6.3" text-anchor="end" fill="#2a2a2a" stroke="#2a2a2a" stroke-width="0.18" dominant-baseline="central" transform="rotate(-45 422.30 343.90)">0</text>
<text x="434.42" y="343.90" font-size="6.3" text-anchor="end" fill="#2a2a2a" stroke="#2a2a2a" stroke-width="0.18" dominant-baseline="central" transform="rotate(-45 434.42 343.90)">60</text>
<text x="446.54" y="343.90" font-size="6.3" text-anchor="end" fill="#2a2a2a" stroke="#2a2a2a" stroke-width="0.18" dominant-baseline="central" transform="rotate(-45 446.54 343.90)">120</text>
<text x="458.66" y="343.90" font-size="6.3" text-anchor="end" fill="#2a2a2a" stroke="#2a2a2a" stroke-width="0.18" dominant-baseline="central" transform="rotate(-45 458.66 343.90)">180</text>
<text x="470.78" y="343.90" font-size="6.3" text-anchor="end" fill="#2a2a2a" stroke="#2a2a2a" stroke-width="0.18" dominant-baseline="central" transform="rotate(-45 470.78 343.90)">240</text>
<text x="482.90" y="343.90" font-size="6.3" text-anchor="end" fill="#2a2a2a" stroke="#2a2a2a" stroke-width="0.18" dominant-baseline="central" transform="rotate(-45 482.90 343.90)">300</text>
<text x="495.02" y="343.90" font-size="6.3" text-anchor="end" fill="#2a2a2a" stroke="#2a2a2a" stroke-width="0.18" dominant-baseline="central" transform="rotate(-45 495.02 343.90)">360</text>
<text x="507.14" y="343.90" font-size="6.3" text-anchor="end" fill="#2a2a2a" stroke="#2a2a2a" stroke-width="0.18" dominant-baseline="central" transform="rotate(-45 507.14 343.90)">420</text>
<text x="465.60" y="361.90" font-size="8.2" text-anchor="middle" fill="#2a2a2a" stroke="#2a2a2a" stroke-width="0.18" dominant-baseline="central" textLength="70.7" lengthAdjust="spacingAndGlyphs">Time to leukemia (days)</text>
<path d="M421.7 263.5 L468.9 263.5 L468.9 272.1 L499.8 272.1 L499.8 294.3 L507.9 294.3" stroke="#5e2270" fill="none" stroke-width="1.0"/>
<path d="M421.7 263.5 L449 263.5 L449 269.4 L453.7 269.4 L453.7 273.8 L458.8 273.8 L458.8 281 L460.2 281 L460.2 289.6 L461.6 289.6 L461.6 304 L467.4 304 L467.4 310.6 L473.9 310.6 L473.9 317.8 L479 317.8 L479 325 L507.8 325" stroke="#2f629c" fill="none" stroke-width="1.3"/>
<line x1="421.70" y1="263.50" x2="508.50" y2="263.50" stroke="#d08a32" stroke-width="1.1"/>
<line x1="421.70" y1="263.50" x2="508.50" y2="263.50" stroke="#c42c50" stroke-width="1.0" stroke-dasharray="1.5 2.5"/>
<line x1="478.00" y1="270.60" x2="478.00" y2="273.60" stroke="#62207a" stroke-width="0.6"/>
<line x1="484.00" y1="270.60" x2="484.00" y2="273.60" stroke="#62207a" stroke-width="0.6"/>
<line x1="492.00" y1="270.60" x2="492.00" y2="273.60" stroke="#62207a" stroke-width="0.6"/>
<text x="458.00" y="258.40" font-size="5.3" text-anchor="middle" fill="#2a2a2a" stroke="#2a2a2a" stroke-width="0.18" dominant-baseline="central" font-style="italic" textLength="70" lengthAdjust="spacingAndGlyphs">WT, IL-7R<tspan baseline-shift="2.3" font-size="4">−/−</tspan>, Lmo2<tspan baseline-shift="2.3" font-size="4">Tg</tspan>; IL-7R<tspan baseline-shift="2.3" font-size="4">−/−</tspan></text>
<text x="505.00" y="258.40" font-size="5.3" text-anchor="middle" fill="#2a2a2a" stroke="#2a2a2a" stroke-width="0.18" dominant-baseline="central" font-style="italic">###</text>
<text x="508.70" y="290.20" font-size="5.3" text-anchor="middle" fill="#2a2a2a" stroke="#2a2a2a" stroke-width="0.18" dominant-baseline="central" font-style="italic">##</text>
<text x="493.00" y="299.60" font-size="5.4" text-anchor="middle" fill="#2a2a2a" stroke="#2a2a2a" stroke-width="0.18" dominant-baseline="central" font-style="italic" textLength="35" lengthAdjust="spacingAndGlyphs">Lmo2<tspan baseline-shift="2.3" font-size="4">Tg</tspan>; IL-7R<tspan baseline-shift="2.3" font-size="4">−/−</tspan></text>
<text x="508.70" y="321.40" font-size="5.3" text-anchor="middle" fill="#2a2a2a" stroke="#2a2a2a" stroke-width="0.18" dominant-baseline="central">***</text>
<text x="483.00" y="330.50" font-size="5.4" text-anchor="middle" fill="#2a2a2a" stroke="#2a2a2a" stroke-width="0.18" dominant-baseline="central" font-style="italic">Lmo2<tspan baseline-shift="2.3" font-size="4">Tg</tspan></text>
<text x="6.3" y="398.5" font-size="11.8" font-weight="bold" fill="#111">J</text>
<g>
<path d="M36 422.6 C38 423.6 39.5 423.8 41 424.3" stroke="#666" stroke-width="1" fill="none"/>
<ellipse cx="28.2" cy="419.8" rx="6.2" ry="6.4" fill="#6e7570"/>
<circle cx="28.6" cy="411.6" r="5.6" fill="#6a6a6a"/>
<path d="M33 410 C35 411 35.6 413 34.2 414.6 L32 414.5 Z" fill="#6a6a6a"/>
<circle cx="32.3" cy="411.2" r="0.9" fill="#222"/>
<path d="M31.8 415.6 L33.4 416.6" stroke="#333" stroke-width="0.9"/>
<path d="M33.5 422.8 L36.8 422.4 L36.2 424.6 Z" fill="#333"/>
<ellipse cx="28.4" cy="420.8" rx="4" ry="3.1" fill="#e01029"/>
</g>
<line x1="41.40" y1="418.00" x2="52.50" y2="418.00" stroke="#999" stroke-width="1.5"/>
<path d="M51.5 415.8 L56 418 L51.5 420.2 Z" stroke="none" fill="#999" stroke-width="1"/>
<ellipse cx="80.6" cy="419.3" rx="17.5" ry="3.8" fill="#c9a88c" stroke="#5a4a40" stroke-width="0.6"/>
<rect x="63.1" y="415.8" width="35" height="3.5" fill="#ddd0c4"/>
<line x1="63.1" y1="415.8" x2="63.1" y2="419.3" stroke="#5a4a40" stroke-width="0.6"/>
<line x1="98.1" y1="415.8" x2="98.1" y2="419.3" stroke="#5a4a40" stroke-width="0.6"/>
<path d="M63.4 418.2 C68 421.8 93 421.8 97.8 418.2" stroke="#8a6a55" stroke-width="0.5" fill="none"/>
<ellipse cx="80.6" cy="415.8" rx="17.5" ry="3.8" fill="#ebe7e3" stroke="#4a4a4a" stroke-width="0.6"/>
<ellipse cx="81" cy="415.6" rx="12" ry="2" fill="#cfcac5"/>
<text x="71.20" y="396.30" font-size="6.8" text-anchor="middle" fill="#2a2a2a" stroke="#2a2a2a" stroke-width="0.18" dominant-baseline="central" textLength="18.4" lengthAdjust="spacingAndGlyphs">Vector</text>
<text x="63.00" y="403.40" font-size="6.8" text-anchor="start" fill="#2a2a2a" stroke="#2a2a2a" stroke-width="0.18" dominant-baseline="central" font-style="italic" textLength="27.8" lengthAdjust="spacingAndGlyphs">STAT5B<tspan baseline-shift="2.3" font-size="4">1*6</tspan></text>
<text x="27.60" y="433.00" font-size="6.9" text-anchor="middle" fill="#2a2a2a" stroke="#2a2a2a" stroke-width="0.18" dominant-baseline="central" textLength="46.8" lengthAdjust="spacingAndGlyphs">E13.5 fetal liver</text>
<text x="4.30" y="440.80" font-size="6.9" text-anchor="start" fill="#2a2a2a" stroke="#2a2a2a" stroke-width="0.18" dominant-baseline="central" font-style="italic" textLength="47.5" lengthAdjust="spacingAndGlyphs">Lmo2<tspan baseline-shift="2.3" font-size="4">Tg</tspan>; IL-7R<tspan baseline-shift="2.3" font-size="4">−/−</tspan></text>
<line x1="101.70" y1="417.90" x2="138.00" y2="417.90" stroke="#555" stroke-width="0.9"/>
<path d="M136 416.1 L141.5 417.9 L136 419.7 Z" stroke="none" fill="#555" stroke-width="1"/>
<text x="119.00" y="401.50" font-size="6.8" text-anchor="middle" fill="#2a2a2a" stroke="#2a2a2a" stroke-width="0.18" dominant-baseline="central" textLength="15.4" lengthAdjust="spacingAndGlyphs">HSPC</text>
<text x="119.50" y="409.20" font-size="6.8" text-anchor="middle" fill="#2a2a2a" stroke="#2a2a2a" stroke-width="0.18" dominant-baseline="central" textLength="27.9" lengthAdjust="spacingAndGlyphs">(Cd45.2<tspan baseline-shift="2.3" font-size="4">+</tspan>)</text>
<g stroke="#555" fill="none" stroke-width="0.48">
<path d="M145.84 407.36 L151.15 416.20 L152.59 415.33 L147.28 406.50 Z" fill="#aaa"/>
<path d="M148.42 411.64 L151.15 416.20 L152.59 415.33 L149.85 410.78 Z" fill="#555"/>
<line x1="145.40" y1="405.00" x2="146.56" y2="406.93"/>
<line x1="144.17" y1="405.74" x2="146.63" y2="404.26"/>
<line x1="145.33" y1="407.67" x2="147.80" y2="406.19"/>
<line x1="151.87" y1="415.76" x2="153.70" y2="418.80" stroke-width="0.5599999999999999" stroke="#333"/>
</g>
<path d="M153.7 418.8 C155 421 155 423 157 423.5 L160 423.5" stroke="#555" fill="none" stroke-width="0.6"/>
<g transform="translate(161.00 412.10) scale(0.66) translate(-23.5 -185.5)">
<circle cx="23.5" cy="185.5" r="4.4" fill="#fff" stroke="#4a4a4a" stroke-width="1.06"/>
<circle cx="35.2" cy="183.3" r="4.2" fill="#fff" stroke="#4a4a4a" stroke-width="1.06"/>
<path d="M19.6 204 C19.3 199.5 19.7 195.5 21.5 193.2 C23.2 191.2 25.5 190.2 28 190 L33 195 L33.2 204 Z" fill="#fff" stroke="#4a4a4a" stroke-width="1.06"/>
<path d="M27.2 190.8 C26.6 186.5 29 184.4 31.8 184.4 C35 184.4 37.3 187 37 190.5 C36.8 193.5 35.2 196.2 32.3 196.3 C29.5 196.3 27.6 194 27.2 190.8 Z" fill="#fff" stroke="#4a4a4a" stroke-width="1.06"/>
<circle cx="30.3" cy="187.9" r="1.75" fill="#fff" stroke="#555" stroke-width="0.68"/>
<circle cx="33.7" cy="187.5" r="1.75" fill="#fff" stroke="#555" stroke-width="0.68"/>
<circle cx="30.6" cy="188.7" r="0.85" fill="#222"/><circle cx="33.9" cy="188.3" r="0.85" fill="#222"/>
<ellipse cx="33.6" cy="193.2" rx="1.1" ry="0.8" fill="#333"/>
<path d="M34.5 194 L41 197" stroke="#8a8a8a" stroke-width="1.1" fill="none"/>
<path d="M34.2 194.2 L39.5 193" stroke="#999" stroke-width="0.6" fill="none"/>
</g>
<text x="163.40" y="431.30" font-size="6.8" text-anchor="middle" fill="#2a2a2a" stroke="#2a2a2a" stroke-width="0.18" dominant-baseline="central" textLength="28.5" lengthAdjust="spacingAndGlyphs">Recipients</text>
<text x="163.50" y="439.60" font-size="6.8" text-anchor="middle" fill="#2a2a2a" stroke="#2a2a2a" stroke-width="0.18" dominant-baseline="central" textLength="27.5" lengthAdjust="spacingAndGlyphs">(Cd45.1<tspan baseline-shift="2.3" font-size="4">+</tspan>)</text>
<line x1="180.60" y1="417.90" x2="216.00" y2="417.90" stroke="#555" stroke-width="0.9"/>
<path d="M213.7 416.1 L219.2 417.9 L213.7 419.7 Z" stroke="none" fill="#555" stroke-width="1"/>
<text x="197.80" y="401.50" font-size="6.8" text-anchor="middle" fill="#2a2a2a" stroke="#2a2a2a" stroke-width="0.18" dominant-baseline="central" textLength="34" lengthAdjust="spacingAndGlyphs">Thymocytes</text>
<text x="197.30" y="408.80" font-size="6.8" text-anchor="middle" fill="#2a2a2a" stroke="#2a2a2a" stroke-width="0.18" dominant-baseline="central" textLength="27.9" lengthAdjust="spacingAndGlyphs">(Cd45.2<tspan baseline-shift="2.3" font-size="4">+</tspan>)</text>
<g stroke="#555" fill="none" stroke-width="0.48">
<path d="M223.14 406.79 L229.22 415.49 L230.60 414.53 L224.52 405.82 Z" fill="#aaa"/>
<path d="M226.09 411.00 L229.22 415.49 L230.60 414.53 L227.46 410.04 Z" fill="#555"/>
<line x1="222.50" y1="404.40" x2="223.83" y2="406.30"/>
<line x1="221.32" y1="405.22" x2="223.68" y2="403.58"/>
<line x1="222.65" y1="407.13" x2="225.01" y2="405.48"/>
<line x1="229.91" y1="415.01" x2="232.00" y2="418.00" stroke-width="0.5599999999999999" stroke="#333"/>
</g>
<path d="M232 418 C233 421 233.5 423 236 423.5 L239 423.5" stroke="#555" fill="none" stroke-width="0.6"/>
<g transform="translate(239.50 411.60) scale(0.66) translate(-23.5 -185.5)">
<circle cx="23.5" cy="185.5" r="4.4" fill="#fff" stroke="#4a4a4a" stroke-width="1.06"/>
<circle cx="35.2" cy="183.3" r="4.2" fill="#fff" stroke="#4a4a4a" stroke-width="1.06"/>
<path d="M19.6 204 C19.3 199.5 19.7 195.5 21.5 193.2 C23.2 191.2 25.5 190.2 28 190 L33 195 L33.2 204 Z" fill="#fff" stroke="#4a4a4a" stroke-width="1.06"/>
<path d="M27.2 190.8 C26.6 186.5 29 184.4 31.8 184.4 C35 184.4 37.3 187 37 190.5 C36.8 193.5 35.2 196.2 32.3 196.3 C29.5 196.3 27.6 194 27.2 190.8 Z" fill="#fff" stroke="#4a4a4a" stroke-width="1.06"/>
<circle cx="30.3" cy="187.9" r="1.75" fill="#fff" stroke="#555" stroke-width="0.68"/>
<circle cx="33.7" cy="187.5" r="1.75" fill="#fff" stroke="#555" stroke-width="0.68"/>
<circle cx="30.6" cy="188.7" r="0.85" fill="#222"/><circle cx="33.9" cy="188.3" r="0.85" fill="#222"/>
<ellipse cx="33.6" cy="193.2" rx="1.1" ry="0.8" fill="#333"/>
<path d="M34.5 194 L41 197" stroke="#8a8a8a" stroke-width="1.1" fill="none"/>
<path d="M34.2 194.2 L39.5 193" stroke="#999" stroke-width="0.6" fill="none"/>
</g>
<text x="240.80" y="431.30" font-size="6.8" text-anchor="middle" fill="#2a2a2a" stroke="#2a2a2a" stroke-width="0.18" dominant-baseline="central" textLength="28.9" lengthAdjust="spacingAndGlyphs">Recipients</text>
<text x="240.50" y="439.60" font-size="6.8" text-anchor="middle" fill="#2a2a2a" stroke="#2a2a2a" stroke-width="0.18" dominant-baseline="central" textLength="27.5" lengthAdjust="spacingAndGlyphs">(Cd45.1<tspan baseline-shift="2.3" font-size="4">+</tspan>)</text>
<text x="267.50" y="408.30" font-size="6.8" text-anchor="middle" fill="#2a2a2a" stroke="#2a2a2a" stroke-width="0.18" dominant-baseline="central" textLength="15.8" lengthAdjust="spacingAndGlyphs">±DOX</text>
<line x1="257.70" y1="413.50" x2="279.00" y2="413.50" stroke="#555" stroke-width="0.9"/>
<path d="M277 411.7 L282.5 413.5 L277 415.3 Z" stroke="none" fill="#555" stroke-width="1"/>
<text x="7.5" y="469.6" font-size="11.8" font-weight="bold" fill="#111">K</text>
<line x1="48.00" y1="474.50" x2="48.00" y2="557.40" stroke="#0a0a0a" stroke-width="1.3"/>
<line x1="45.40" y1="476.50" x2="48.00" y2="476.50" stroke="#0a0a0a" stroke-width="0.9"/>
<text x="41.50" y="476.50" font-size="6.1" text-anchor="end" fill="#2a2a2a" stroke="#2a2a2a" stroke-width="0.18" dominant-baseline="central" textLength="13.7" lengthAdjust="spacingAndGlyphs">5000</text>
<line x1="45.40" y1="494.30" x2="48.00" y2="494.30" stroke="#0a0a0a" stroke-width="0.9"/>
<text x="41.50" y="494.30" font-size="6.1" text-anchor="end" fill="#2a2a2a" stroke="#2a2a2a" stroke-width="0.18" dominant-baseline="central" textLength="13.7" lengthAdjust="spacingAndGlyphs">4000</text>
<line x1="45.40" y1="512.10" x2="48.00" y2="512.10" stroke="#0a0a0a" stroke-width="0.9"/>
<text x="41.50" y="512.10" font-size="6.1" text-anchor="end" fill="#2a2a2a" stroke="#2a2a2a" stroke-width="0.18" dominant-baseline="central" textLength="13.7" lengthAdjust="spacingAndGlyphs">3000</text>
<line x1="45.40" y1="529.90" x2="48.00" y2="529.90" stroke="#0a0a0a" stroke-width="0.9"/>
<text x="41.50" y="529.90" font-size="6.1" text-anchor="end" fill="#2a2a2a" stroke="#2a2a2a" stroke-width="0.18" dominant-baseline="central" textLength="13.7" lengthAdjust="spacingAndGlyphs">2000</text>
<line x1="45.40" y1="547.70" x2="48.00" y2="547.70" stroke="#0a0a0a" stroke-width="0.9"/>
<text x="41.50" y="547.70" font-size="6.1" text-anchor="end" fill="#2a2a2a" stroke="#2a2a2a" stroke-width="0.18" dominant-baseline="central" textLength="13.7" lengthAdjust="spacingAndGlyphs">1000</text>
<text x="19.80" y="528.00" font-size="8.2" text-anchor="middle" fill="#2a2a2a" stroke="#2a2a2a" stroke-width="0.18" dominant-baseline="central" textLength="39.5" lengthAdjust="spacingAndGlyphs" transform="rotate(-90 19.80 528.00)">pSTAT5 (MFI)</text>
<line x1="48.00" y1="557.40" x2="88.50" y2="557.40" stroke="#0a0a0a" stroke-width="1.2"/>
<line x1="57.80" y1="557.40" x2="57.80" y2="559.80" stroke="#0a0a0a" stroke-width="0.9"/>
<line x1="78.40" y1="557.40" x2="78.40" y2="559.80" stroke="#0a0a0a" stroke-width="0.9"/>
<text x="47.80" y="567.00" font-size="6.5" text-anchor="end" fill="#2a2a2a" stroke="#2a2a2a" stroke-width="0.18" dominant-baseline="central" textLength="13.7" lengthAdjust="spacingAndGlyphs">DOX</text>
<text x="57.80" y="567.00" font-size="6.3" text-anchor="middle" fill="#2a2a2a" stroke="#2a2a2a" stroke-width="0.18" dominant-baseline="central">–</text>
<text x="78.40" y="567.00" font-size="6.3" text-anchor="middle" fill="#2a2a2a" stroke="#2a2a2a" stroke-width="0.18" dominant-baseline="central">+</text>
<line x1="57.80" y1="534.60" x2="78.40" y2="491.50" stroke="#d88f45" stroke-width="0.9"/>
<line x1="57.80" y1="534.60" x2="78.40" y2="534.60" stroke="#c23d5e" stroke-width="1.2"/>
<line x1="57.80" y1="528.50" x2="57.80" y2="544.00" stroke="#d07a55" stroke-width="0.9"/>
<line x1="56.20" y1="528.50" x2="59.40" y2="528.50" stroke="#d07a55" stroke-width="0.9"/>
<line x1="56.20" y1="544.00" x2="59.40" y2="544.00" stroke="#d07a55" stroke-width="0.9"/>
<line x1="78.40" y1="530.00" x2="78.40" y2="538.60" stroke="#c23d5e" stroke-width="0.9"/>
<line x1="76.80" y1="530.00" x2="80.00" y2="530.00" stroke="#c23d5e" stroke-width="0.9"/>
<line x1="76.80" y1="538.60" x2="80.00" y2="538.60" stroke="#c23d5e" stroke-width="0.9"/>
<rect x="56.20" y="530.50" width="3.20" height="3.00" fill="#d06a50"/>
<rect x="56.20" y="536.30" width="3.20" height="3.00" fill="#b87040"/>
<path d="M78.4 532.2 L80.8 534.6 L78.4 537 L76 534.6 Z" fill="#fff" stroke="#c23d5e" stroke-width="0.8"/>
<circle cx="58.30" cy="534.60" r="1.3" fill="#fff" stroke="#d07a55" stroke-width="0.7"/>
<circle cx="78.40" cy="491.50" r="1.6" fill="#b8762e" stroke="none" stroke-width="0.8"/>
<text x="78.40" y="486.00" font-size="5.3" text-anchor="middle" fill="#555" stroke="#555" stroke-width="0.18" dominant-baseline="central">***</text>
<text x="67.20" y="521.80" font-size="5.4" text-anchor="start" fill="#2a2a2a" stroke="#2a2a2a" stroke-width="0.18" dominant-baseline="central" font-style="italic" textLength="22.3" lengthAdjust="spacingAndGlyphs">STAT5B<tspan baseline-shift="2.3" font-size="4">1*6</tspan></text>
<text x="74.30" y="546.00" font-size="5.4" text-anchor="middle" fill="#2a2a2a" stroke="#2a2a2a" stroke-width="0.18" dominant-baseline="central" textLength="15.4" lengthAdjust="spacingAndGlyphs">Vector</text>
<text x="105.5" y="470.2" font-size="11.8" font-weight="bold" fill="#111">L</text>
<line x1="143.40" y1="474.50" x2="143.40" y2="557.30" stroke="#0a0a0a" stroke-width="1.3"/>
<line x1="140.80" y1="476.90" x2="143.40" y2="476.90" stroke="#0a0a0a" stroke-width="0.9"/>
<text x="138.60" y="476.90" font-size="6.3" text-anchor="end" fill="#2a2a2a" stroke="#2a2a2a" stroke-width="0.18" dominant-baseline="central">1000</text>
<line x1="140.80" y1="516.90" x2="143.40" y2="516.90" stroke="#0a0a0a" stroke-width="0.9"/>
<text x="138.60" y="516.90" font-size="6.3" text-anchor="end" fill="#2a2a2a" stroke="#2a2a2a" stroke-width="0.18" dominant-baseline="central">100</text>
<line x1="140.80" y1="557.30" x2="143.40" y2="557.30" stroke="#0a0a0a" stroke-width="0.9"/>
<text x="138.60" y="557.30" font-size="6.3" text-anchor="end" fill="#2a2a2a" stroke="#2a2a2a" stroke-width="0.18" dominant-baseline="central">10</text>
<line x1="142.40" y1="504.86" x2="143.40" y2="504.86" stroke="#0a0a0a" stroke-width="0.5"/>
<line x1="142.40" y1="497.82" x2="143.40" y2="497.82" stroke="#0a0a0a" stroke-width="0.5"/>
<line x1="142.40" y1="492.82" x2="143.40" y2="492.82" stroke="#0a0a0a" stroke-width="0.5"/>
<line x1="142.40" y1="488.94" x2="143.40" y2="488.94" stroke="#0a0a0a" stroke-width="0.5"/>
<line x1="142.40" y1="485.77" x2="143.40" y2="485.77" stroke="#0a0a0a" stroke-width="0.5"/>
<line x1="142.40" y1="483.10" x2="143.40" y2="483.10" stroke="#0a0a0a" stroke-width="0.5"/>
<line x1="142.40" y1="480.78" x2="143.40" y2="480.78" stroke="#0a0a0a" stroke-width="0.5"/>
<line x1="142.40" y1="478.73" x2="143.40" y2="478.73" stroke="#0a0a0a" stroke-width="0.5"/>
<line x1="142.40" y1="545.14" x2="143.40" y2="545.14" stroke="#0a0a0a" stroke-width="0.5"/>
<line x1="142.40" y1="538.02" x2="143.40" y2="538.02" stroke="#0a0a0a" stroke-width="0.5"/>
<line x1="142.40" y1="532.98" x2="143.40" y2="532.98" stroke="#0a0a0a" stroke-width="0.5"/>
<line x1="142.40" y1="529.06" x2="143.40" y2="529.06" stroke="#0a0a0a" stroke-width="0.5"/>
<line x1="142.40" y1="525.86" x2="143.40" y2="525.86" stroke="#0a0a0a" stroke-width="0.5"/>
<line x1="142.40" y1="523.16" x2="143.40" y2="523.16" stroke="#0a0a0a" stroke-width="0.5"/>
<line x1="142.40" y1="520.82" x2="143.40" y2="520.82" stroke="#0a0a0a" stroke-width="0.5"/>
<line x1="142.40" y1="518.75" x2="143.40" y2="518.75" stroke="#0a0a0a" stroke-width="0.5"/>
<text x="117.30" y="516.30" font-size="8.2" text-anchor="middle" fill="#2a2a2a" stroke="#2a2a2a" stroke-width="0.18" dominant-baseline="central" textLength="62" lengthAdjust="spacingAndGlyphs" transform="rotate(-90 117.30 516.30)">DN3a fold expansion</text>
<line x1="143.40" y1="557.30" x2="213.00" y2="557.30" stroke="#0a0a0a" stroke-width="1.2"/>
<line x1="154.20" y1="557.30" x2="154.20" y2="559.70" stroke="#0a0a0a" stroke-width="0.9"/>
<line x1="170.40" y1="557.30" x2="170.40" y2="559.70" stroke="#0a0a0a" stroke-width="0.9"/>
<line x1="187.20" y1="557.30" x2="187.20" y2="559.70" stroke="#0a0a0a" stroke-width="0.9"/>
<line x1="203.90" y1="557.30" x2="203.90" y2="559.70" stroke="#0a0a0a" stroke-width="0.9"/>
<path d="M149.6 522 C149.3 527 153.4 530 153.9 534 L154.1 540 C152.5 542 149.6 543.5 149.6 547 L158.6 547 C158.6 543.5 156 542 154.5 540 L154.5 534 C155 530 159 527 158.9 522 C158 520.5 150.5 520.5 149.6 522 Z" stroke="#d2416a" fill="#fff" stroke-width="0.9"/>
<circle cx="151.20" cy="522.70" r="1.55" fill="#fff" stroke="#d2416a" stroke-width="0.85"/>
<circle cx="154.40" cy="521.60" r="1.55" fill="#fff" stroke="#d2416a" stroke-width="0.85"/>
<circle cx="156.80" cy="523.30" r="1.55" fill="#fff" stroke="#d2416a" stroke-width="0.85"/>
<circle cx="151.20" cy="546.50" r="1.55" fill="#fff" stroke="#d2416a" stroke-width="0.85"/>
<circle cx="156.80" cy="543.80" r="1.55" fill="#fff" stroke="#d2416a" stroke-width="0.85"/>
<path d="M166.8 524 C167 527 170.3 528.5 170.5 530 C170.3 531.5 167.3 532.5 167.3 535 L174.8 535 C174.5 532.5 170.8 531.5 170.8 530 C171 528.5 173.7 527 173.8 524 Z" stroke="#d08a32" fill="#fff" stroke-width="0.8"/>
<circle cx="168.80" cy="524.30" r="1.5" fill="#c47d22" stroke="none" stroke-width="0.8"/>
<circle cx="172.00" cy="525.50" r="1.5" fill="#c47d22" stroke="none" stroke-width="0.8"/>
<circle cx="169.60" cy="534.20" r="1.5" fill="#c47d22" stroke="none" stroke-width="0.8"/>
<circle cx="172.20" cy="534.50" r="1.5" fill="#c47d22" stroke="none" stroke-width="0.8"/>
<circle cx="174.30" cy="534.00" r="1.5" fill="#c47d22" stroke="none" stroke-width="0.8"/>
<path d="M183 529.4 C183.5 532 186.8 533 187.2 534.3 C186.8 535.5 183.5 536.5 183 539.2 L191.6 539.2 C191 536.5 187.8 535.5 187.4 534.3 C187.8 533 191 532 191.6 529.4 Z" stroke="#d2416a" fill="#fff" stroke-width="0.9"/>
<circle cx="184.60" cy="529.40" r="1.5" fill="#fff" stroke="#d2416a" stroke-width="0.85"/>
<circle cx="190.00" cy="529.40" r="1.5" fill="#fff" stroke="#d2416a" stroke-width="0.85"/>
<circle cx="184.60" cy="539.20" r="1.5" fill="#fff" stroke="#d2416a" stroke-width="0.85"/>
<circle cx="190.00" cy="537.90" r="1.5" fill="#fff" stroke="#d2416a" stroke-width="0.85"/>
<path d="M204.3 475.3 C202.3 476 202.2 479.5 202.8 483 C203 486 202.6 488 201.5 491 C200 494.5 199.5 499 200.2 503 C200.8 506.5 202.5 508.2 204.3 508.2 C206.1 508.2 207.8 506.5 208.4 503 C209.1 499 208.6 494.5 207.1 491 C206 488 205.6 486 205.8 483 C206.4 479.5 206.3 476 204.3 475.3 Z" stroke="#d98a2e" fill="#f7d9ae" stroke-width="0.9"/>
<circle cx="204.30" cy="477.50" r="1.45" fill="#b8721c" stroke="none" stroke-width="0.8"/>
<circle cx="204.30" cy="494.30" r="1.45" fill="#b8721c" stroke="none" stroke-width="0.8"/>
<circle cx="204.30" cy="497.90" r="1.45" fill="#b8721c" stroke="none" stroke-width="0.8"/>
<circle cx="204.30" cy="501.90" r="1.45" fill="#b8721c" stroke="none" stroke-width="0.8"/>
<circle cx="204.30" cy="507.00" r="1.45" fill="#b8721c" stroke="none" stroke-width="0.8"/>
<line x1="201.50" y1="497.90" x2="207.50" y2="497.90" stroke="#b8721c" stroke-width="0.5" stroke-dasharray="0.8 0.6"/>
<text x="204.30" y="473.80" font-size="5.3" text-anchor="middle" fill="#555" stroke="#555" stroke-width="0.18" dominant-baseline="central">**</text>
<text x="143.80" y="566.50" font-size="6.3" text-anchor="end" fill="#2a2a2a" stroke="#2a2a2a" stroke-width="0.18" dominant-baseline="central" textLength="13.8" lengthAdjust="spacingAndGlyphs">DOX</text>
<text x="154.20" y="566.50" font-size="6.3" text-anchor="middle" fill="#2a2a2a" stroke="#2a2a2a" stroke-width="0.18" dominant-baseline="central">–</text>
<text x="170.40" y="566.50" font-size="6.3" text-anchor="middle" fill="#2a2a2a" stroke="#2a2a2a" stroke-width="0.18" dominant-baseline="central">+</text>
<text x="187.20" y="566.50" font-size="6.3" text-anchor="middle" fill="#2a2a2a" stroke="#2a2a2a" stroke-width="0.18" dominant-baseline="central">–</text>
<text x="203.90" y="566.50" font-size="6.3" text-anchor="middle" fill="#2a2a2a" stroke="#2a2a2a" stroke-width="0.18" dominant-baseline="central">+</text>
<line x1="147.30" y1="572.80" x2="177.30" y2="572.80" stroke="#0a0a0a" stroke-width="1.0"/>
<line x1="179.60" y1="572.80" x2="212.00" y2="572.80" stroke="#0a0a0a" stroke-width="1.0"/>
<text x="162.80" y="578.80" font-size="5.0" text-anchor="middle" fill="#2a2a2a" stroke="#2a2a2a" stroke-width="0.18" dominant-baseline="central" textLength="13.5" lengthAdjust="spacingAndGlyphs">Vector</text>
<text x="194.60" y="578.80" font-size="5.0" text-anchor="middle" fill="#2a2a2a" stroke="#2a2a2a" stroke-width="0.18" dominant-baseline="central" font-style="italic">STAT5B<tspan baseline-shift="2.3" font-size="4">1*6</tspan></text>
<text x="229.5" y="469.5" font-size="11.8" font-weight="bold" fill="#111">M</text>
<line x1="272.70" y1="473.50" x2="272.70" y2="557.40" stroke="#0a0a0a" stroke-width="1.3"/>
<line x1="270.10" y1="484.60" x2="272.70" y2="484.60" stroke="#0a0a0a" stroke-width="0.9"/>
<text x="268.50" y="484.60" font-size="6.4" text-anchor="end" fill="#2a2a2a" stroke="#2a2a2a" stroke-width="0.18" dominant-baseline="central">1000</text>
<line x1="270.10" y1="502.80" x2="272.70" y2="502.80" stroke="#0a0a0a" stroke-width="0.9"/>
<text x="268.50" y="502.80" font-size="6.4" text-anchor="end" fill="#2a2a2a" stroke="#2a2a2a" stroke-width="0.18" dominant-baseline="central">100</text>
<line x1="270.10" y1="521.00" x2="272.70" y2="521.00" stroke="#0a0a0a" stroke-width="0.9"/>
<text x="268.50" y="521.00" font-size="6.4" text-anchor="end" fill="#2a2a2a" stroke="#2a2a2a" stroke-width="0.18" dominant-baseline="central">10</text>
<line x1="270.10" y1="539.30" x2="272.70" y2="539.30" stroke="#0a0a0a" stroke-width="0.9"/>
<text x="268.50" y="539.30" font-size="6.4" text-anchor="end" fill="#2a2a2a" stroke="#2a2a2a" stroke-width="0.18" dominant-baseline="central">1</text>
<line x1="270.10" y1="557.40" x2="272.70" y2="557.40" stroke="#0a0a0a" stroke-width="0.9"/>
<text x="268.50" y="557.40" font-size="6.4" text-anchor="end" fill="#2a2a2a" stroke="#2a2a2a" stroke-width="0.18" dominant-baseline="central">0</text>
<line x1="271.70" y1="497.32" x2="272.70" y2="497.32" stroke="#0a0a0a" stroke-width="0.5"/>
<line x1="271.70" y1="494.12" x2="272.70" y2="494.12" stroke="#0a0a0a" stroke-width="0.5"/>
<line x1="271.70" y1="491.84" x2="272.70" y2="491.84" stroke="#0a0a0a" stroke-width="0.5"/>
<line x1="271.70" y1="490.08" x2="272.70" y2="490.08" stroke="#0a0a0a" stroke-width="0.5"/>
<line x1="271.70" y1="488.64" x2="272.70" y2="488.64" stroke="#0a0a0a" stroke-width="0.5"/>
<line x1="271.70" y1="487.42" x2="272.70" y2="487.42" stroke="#0a0a0a" stroke-width="0.5"/>
<line x1="271.70" y1="486.36" x2="272.70" y2="486.36" stroke="#0a0a0a" stroke-width="0.5"/>
<line x1="271.70" y1="485.43" x2="272.70" y2="485.43" stroke="#0a0a0a" stroke-width="0.5"/>
<line x1="271.70" y1="515.52" x2="272.70" y2="515.52" stroke="#0a0a0a" stroke-width="0.5"/>
<line x1="271.70" y1="512.32" x2="272.70" y2="512.32" stroke="#0a0a0a" stroke-width="0.5"/>
<line x1="271.70" y1="510.04" x2="272.70" y2="510.04" stroke="#0a0a0a" stroke-width="0.5"/>
<line x1="271.70" y1="508.28" x2="272.70" y2="508.28" stroke="#0a0a0a" stroke-width="0.5"/>
<line x1="271.70" y1="506.84" x2="272.70" y2="506.84" stroke="#0a0a0a" stroke-width="0.5"/>
<line x1="271.70" y1="505.62" x2="272.70" y2="505.62" stroke="#0a0a0a" stroke-width="0.5"/>
<line x1="271.70" y1="504.56" x2="272.70" y2="504.56" stroke="#0a0a0a" stroke-width="0.5"/>
<line x1="271.70" y1="503.63" x2="272.70" y2="503.63" stroke="#0a0a0a" stroke-width="0.5"/>
<line x1="271.70" y1="533.79" x2="272.70" y2="533.79" stroke="#0a0a0a" stroke-width="0.5"/>
<line x1="271.70" y1="530.57" x2="272.70" y2="530.57" stroke="#0a0a0a" stroke-width="0.5"/>
<line x1="271.70" y1="528.28" x2="272.70" y2="528.28" stroke="#0a0a0a" stroke-width="0.5"/>
<line x1="271.70" y1="526.51" x2="272.70" y2="526.51" stroke="#0a0a0a" stroke-width="0.5"/>
<line x1="271.70" y1="525.06" x2="272.70" y2="525.06" stroke="#0a0a0a" stroke-width="0.5"/>
<line x1="271.70" y1="523.83" x2="272.70" y2="523.83" stroke="#0a0a0a" stroke-width="0.5"/>
<line x1="271.70" y1="522.77" x2="272.70" y2="522.77" stroke="#0a0a0a" stroke-width="0.5"/>
<line x1="271.70" y1="521.84" x2="272.70" y2="521.84" stroke="#0a0a0a" stroke-width="0.5"/>
<line x1="271.70" y1="551.95" x2="272.70" y2="551.95" stroke="#0a0a0a" stroke-width="0.5"/>
<line x1="271.70" y1="548.76" x2="272.70" y2="548.76" stroke="#0a0a0a" stroke-width="0.5"/>
<line x1="271.70" y1="546.50" x2="272.70" y2="546.50" stroke="#0a0a0a" stroke-width="0.5"/>
<line x1="271.70" y1="544.75" x2="272.70" y2="544.75" stroke="#0a0a0a" stroke-width="0.5"/>
<line x1="271.70" y1="543.32" x2="272.70" y2="543.32" stroke="#0a0a0a" stroke-width="0.5"/>
<line x1="271.70" y1="542.10" x2="272.70" y2="542.10" stroke="#0a0a0a" stroke-width="0.5"/>
<line x1="271.70" y1="541.05" x2="272.70" y2="541.05" stroke="#0a0a0a" stroke-width="0.5"/>
<line x1="271.70" y1="540.13" x2="272.70" y2="540.13" stroke="#0a0a0a" stroke-width="0.5"/>
<text x="245.80" y="515.50" font-size="8.2" text-anchor="middle" fill="#2a2a2a" stroke="#2a2a2a" stroke-width="0.18" dominant-baseline="central" textLength="63.5" lengthAdjust="spacingAndGlyphs" transform="rotate(-90 245.80 515.50)">DN3a fold expansion</text>
<line x1="272.70" y1="539.30" x2="361.50" y2="539.30" stroke="#333" stroke-width="0.8" stroke-dasharray="2 1.6"/>
<line x1="272.70" y1="557.40" x2="361.50" y2="557.40" stroke="#0a0a0a" stroke-width="1.2"/>
<line x1="288.30" y1="557.40" x2="288.30" y2="559.80" stroke="#0a0a0a" stroke-width="0.9"/>
<line x1="318.50" y1="557.40" x2="318.50" y2="559.80" stroke="#0a0a0a" stroke-width="0.9"/>
<line x1="349.40" y1="557.40" x2="349.40" y2="559.80" stroke="#0a0a0a" stroke-width="0.9"/>
<path d="M288.3 486 L319 511 L349.4 512.4" stroke="#c98630" fill="none" stroke-width="1.05"/>
<line x1="288.30" y1="480.50" x2="288.30" y2="492.00" stroke="#c98630" stroke-width="0.9"/>
<line x1="286.80" y1="480.50" x2="289.80" y2="480.50" stroke="#c98630" stroke-width="0.9"/>
<line x1="286.80" y1="492.00" x2="289.80" y2="492.00" stroke="#c98630" stroke-width="0.9"/>
<line x1="319.00" y1="507.50" x2="319.00" y2="515.00" stroke="#c98630" stroke-width="0.9"/>
<line x1="317.50" y1="507.50" x2="320.50" y2="507.50" stroke="#c98630" stroke-width="0.9"/>
<line x1="317.50" y1="515.00" x2="320.50" y2="515.00" stroke="#c98630" stroke-width="0.9"/>
<line x1="349.40" y1="508.50" x2="349.40" y2="516.00" stroke="#c98630" stroke-width="0.9"/>
<line x1="347.90" y1="508.50" x2="350.90" y2="508.50" stroke="#c98630" stroke-width="0.9"/>
<line x1="347.90" y1="516.00" x2="350.90" y2="516.00" stroke="#c98630" stroke-width="0.9"/>
<circle cx="288.30" cy="486.00" r="1.7" fill="#a8661c" stroke="none" stroke-width="0.8"/>
<circle cx="319.00" cy="511.00" r="1.7" fill="#a8661c" stroke="none" stroke-width="0.8"/>
<circle cx="349.40" cy="512.40" r="1.7" fill="#a8661c" stroke="none" stroke-width="0.8"/>
<path d="M288.3 496.2 L318.5 535 L349.4 557.4" stroke="#b3234b" fill="none" stroke-width="1.15"/>
<line x1="318.50" y1="535.00" x2="318.50" y2="557.40" stroke="#b3234b" stroke-width="1"/>
<line x1="318.50" y1="529.60" x2="318.50" y2="535.00" stroke="#b3234b" stroke-width="0.9"/>
<line x1="317.00" y1="529.60" x2="320.00" y2="529.60" stroke="#b3234b" stroke-width="0.9"/>
<line x1="317.00" y1="535.00" x2="320.00" y2="535.00" stroke="#b3234b" stroke-width="0.9"/>
<line x1="288.30" y1="492.50" x2="288.30" y2="499.50" stroke="#b3234b" stroke-width="0.9"/>
<line x1="286.80" y1="492.50" x2="289.80" y2="492.50" stroke="#b3234b" stroke-width="0.9"/>
<line x1="286.80" y1="499.50" x2="289.80" y2="499.50" stroke="#b3234b" stroke-width="0.9"/>
<circle cx="288.30" cy="496.20" r="1.9" fill="#fff" stroke="#b3234b" stroke-width="0.9"/>
<circle cx="318.50" cy="535.00" r="1.9" fill="#fff" stroke="#b3234b" stroke-width="0.9"/>
<circle cx="349.40" cy="557.40" r="1.9" fill="#fff" stroke="#b3234b" stroke-width="0.9"/>
<text x="288.30" y="478.70" font-size="5.3" text-anchor="middle" fill="#2a2a2a" stroke="#2a2a2a" stroke-width="0.18" dominant-baseline="central">*</text>
<text x="319.00" y="504.80" font-size="5.3" text-anchor="middle" fill="#2a2a2a" stroke="#2a2a2a" stroke-width="0.18" dominant-baseline="central">**</text>
<text x="349.40" y="507.30" font-size="5.3" text-anchor="middle" fill="#2a2a2a" stroke="#2a2a2a" stroke-width="0.18" dominant-baseline="central">***</text>
<text x="298.30" y="489.50" font-size="5.6" text-anchor="start" fill="#2a2a2a" stroke="#2a2a2a" stroke-width="0.18" dominant-baseline="central" textLength="37.7" lengthAdjust="spacingAndGlyphs"><tspan font-style="italic">STAT5B</tspan><tspan baseline-shift="2.3" font-size="4">1*6</tspan>+DOX</text>
<text x="322.50" y="533.70" font-size="5.6" text-anchor="start" fill="#2a2a2a" stroke="#2a2a2a" stroke-width="0.18" dominant-baseline="central" textLength="31" lengthAdjust="spacingAndGlyphs">Vector+DOX</text>
<text x="271.30" y="566.00" font-size="6.4" text-anchor="end" fill="#2a2a2a" stroke="#2a2a2a" stroke-width="0.18" dominant-baseline="central" textLength="29.6" lengthAdjust="spacingAndGlyphs">Transplant:</text>
<text x="288.30" y="566.00" font-size="6.2" text-anchor="middle" fill="#2a2a2a" stroke="#2a2a2a" stroke-width="0.18" dominant-baseline="central">I</text>
<text x="318.50" y="566.00" font-size="6.2" text-anchor="middle" fill="#2a2a2a" stroke="#2a2a2a" stroke-width="0.18" dominant-baseline="central">II</text>
<text x="349.40" y="566.00" font-size="6.2" text-anchor="middle" fill="#2a2a2a" stroke="#2a2a2a" stroke-width="0.18" dominant-baseline="central">III</text>
<text x="380.5" y="469.5" font-size="11.8" font-weight="bold" fill="#111">N</text>
<line x1="418.20" y1="473.00" x2="418.20" y2="557.50" stroke="#0a0a0a" stroke-width="1.3"/>
<line x1="415.60" y1="474.70" x2="418.20" y2="474.70" stroke="#0a0a0a" stroke-width="0.9"/>
<text x="413.80" y="474.70" font-size="6.6" text-anchor="end" fill="#2a2a2a" stroke="#2a2a2a" stroke-width="0.18" dominant-baseline="central">100</text>
<line x1="415.60" y1="491.10" x2="418.20" y2="491.10" stroke="#0a0a0a" stroke-width="0.9"/>
<text x="413.80" y="491.10" font-size="6.6" text-anchor="end" fill="#2a2a2a" stroke="#2a2a2a" stroke-width="0.18" dominant-baseline="central">80</text>
<line x1="415.60" y1="507.50" x2="418.20" y2="507.50" stroke="#0a0a0a" stroke-width="0.9"/>
<text x="413.80" y="507.50" font-size="6.6" text-anchor="end" fill="#2a2a2a" stroke="#2a2a2a" stroke-width="0.18" dominant-baseline="central">60</text>
<line x1="415.60" y1="524.00" x2="418.20" y2="524.00" stroke="#0a0a0a" stroke-width="0.9"/>
<text x="413.80" y="524.00" font-size="6.6" text-anchor="end" fill="#2a2a2a" stroke="#2a2a2a" stroke-width="0.18" dominant-baseline="central">40</text>
<line x1="415.60" y1="540.40" x2="418.20" y2="540.40" stroke="#0a0a0a" stroke-width="0.9"/>
<text x="413.80" y="540.40" font-size="6.6" text-anchor="end" fill="#2a2a2a" stroke="#2a2a2a" stroke-width="0.18" dominant-baseline="central">20</text>
<line x1="415.60" y1="556.80" x2="418.20" y2="556.80" stroke="#0a0a0a" stroke-width="0.9"/>
<text x="413.80" y="556.80" font-size="6.6" text-anchor="end" fill="#2a2a2a" stroke="#2a2a2a" stroke-width="0.18" dominant-baseline="central">0</text>
<text x="393.80" y="513.40" font-size="8.2" text-anchor="middle" fill="#2a2a2a" stroke="#2a2a2a" stroke-width="0.18" dominant-baseline="central" textLength="82" lengthAdjust="spacingAndGlyphs" transform="rotate(-90 393.80 513.40)">Leukemia-free survival (%)</text>
<line x1="418.20" y1="557.50" x2="502.50" y2="557.50" stroke="#0a0a0a" stroke-width="1.2"/>
<line x1="418.20" y1="557.50" x2="418.20" y2="559.90" stroke="#0a0a0a" stroke-width="0.9"/>
<line x1="431.60" y1="557.50" x2="431.60" y2="559.90" stroke="#0a0a0a" stroke-width="0.9"/>
<line x1="445.00" y1="557.50" x2="445.00" y2="559.90" stroke="#0a0a0a" stroke-width="0.9"/>
<line x1="458.40" y1="557.50" x2="458.40" y2="559.90" stroke="#0a0a0a" stroke-width="0.9"/>
<line x1="471.80" y1="557.50" x2="471.80" y2="559.90" stroke="#0a0a0a" stroke-width="0.9"/>
<line x1="485.20" y1="557.50" x2="485.20" y2="559.90" stroke="#0a0a0a" stroke-width="0.9"/>
<line x1="498.60" y1="557.50" x2="498.60" y2="559.90" stroke="#0a0a0a" stroke-width="0.9"/>
<text x="418.80" y="562.30" font-size="6.3" text-anchor="end" fill="#2a2a2a" stroke="#2a2a2a" stroke-width="0.18" dominant-baseline="central" transform="rotate(-45 418.80 562.30)">0</text>
<text x="432.20" y="562.30" font-size="6.3" text-anchor="end" fill="#2a2a2a" stroke="#2a2a2a" stroke-width="0.18" dominant-baseline="central" transform="rotate(-45 432.20 562.30)">60</text>
<text x="445.60" y="562.30" font-size="6.3" text-anchor="end" fill="#2a2a2a" stroke="#2a2a2a" stroke-width="0.18" dominant-baseline="central" transform="rotate(-45 445.60 562.30)">120</text>
<text x="459.00" y="562.30" font-size="6.3" text-anchor="end" fill="#2a2a2a" stroke="#2a2a2a" stroke-width="0.18" dominant-baseline="central" transform="rotate(-45 459.00 562.30)">180</text>
<text x="472.40" y="562.30" font-size="6.3" text-anchor="end" fill="#2a2a2a" stroke="#2a2a2a" stroke-width="0.18" dominant-baseline="central" transform="rotate(-45 472.40 562.30)">240</text>
<text x="485.80" y="562.30" font-size="6.3" text-anchor="end" fill="#2a2a2a" stroke="#2a2a2a" stroke-width="0.18" dominant-baseline="central" transform="rotate(-45 485.80 562.30)">300</text>
<text x="499.20" y="562.30" font-size="6.3" text-anchor="end" fill="#2a2a2a" stroke="#2a2a2a" stroke-width="0.18" dominant-baseline="central" transform="rotate(-45 499.20 562.30)">360</text>
<text x="461.10" y="581.30" font-size="8.2" text-anchor="middle" fill="#2a2a2a" stroke="#2a2a2a" stroke-width="0.18" dominant-baseline="central" textLength="71.5" lengthAdjust="spacingAndGlyphs">Time to leukemia (days)</text>
<line x1="418.20" y1="474.70" x2="501.20" y2="474.70" stroke="#d08a32" stroke-width="1.1"/>
<line x1="418.20" y1="474.70" x2="501.20" y2="474.70" stroke="#c42c50" stroke-width="1.0" stroke-dasharray="2.5 2"/>
<rect x="499.40" y="472.90" width="3.60" height="3.60" fill="#c07a28"/>
<path d="M418.2 474.7 L460.2 474.7 L460.2 491.3 L461 491.3 L461 502 L462 502 L462 516 L463 516 L463 529.7 L470.2 529.7 L470.2 543.7 L479 543.7 L479 557.5" stroke="#b01c3c" fill="none" stroke-width="1.2"/>
<circle cx="460.30" cy="491.30" r="1.4" fill="#b01c3c" stroke="none" stroke-width="0.8"/>
<circle cx="461.00" cy="502.00" r="1.4" fill="#b01c3c" stroke="none" stroke-width="0.8"/>
<circle cx="462.00" cy="516.00" r="1.4" fill="#b01c3c" stroke="none" stroke-width="0.8"/>
<circle cx="463.00" cy="529.70" r="1.4" fill="#b01c3c" stroke="none" stroke-width="0.8"/>
<circle cx="470.20" cy="543.70" r="1.4" fill="#b01c3c" stroke="none" stroke-width="0.8"/>
<circle cx="479.00" cy="557.30" r="1.4" fill="#fff" stroke="#b01c3c" stroke-width="0.8"/>
<text x="478.30" y="540.40" font-size="5.3" text-anchor="middle" fill="#2a2a2a" stroke="#2a2a2a" stroke-width="0.18" dominant-baseline="central">***</text>
<text x="468.90" y="482.00" font-size="5.4" text-anchor="start" fill="#2a2a2a" stroke="#2a2a2a" stroke-width="0.18" dominant-baseline="central" textLength="14.8" lengthAdjust="spacingAndGlyphs">Vector</text>
<text x="468.90" y="488.70" font-size="5.4" text-anchor="start" fill="#2a2a2a" stroke="#2a2a2a" stroke-width="0.18" dominant-baseline="central" font-style="italic" textLength="21.5" lengthAdjust="spacingAndGlyphs">STAT5B<tspan baseline-shift="2.3" font-size="4">1*6</tspan></text>
<text x="428.50" y="552.30" font-size="5.6" text-anchor="start" fill="#2a2a2a" stroke="#2a2a2a" stroke-width="0.18" dominant-baseline="central" textLength="40.4" lengthAdjust="spacingAndGlyphs"><tspan font-style="italic">STAT5B</tspan><tspan baseline-shift="2.3" font-size="4">1*6</tspan>+DOX</text>
</svg></div></body></html>
